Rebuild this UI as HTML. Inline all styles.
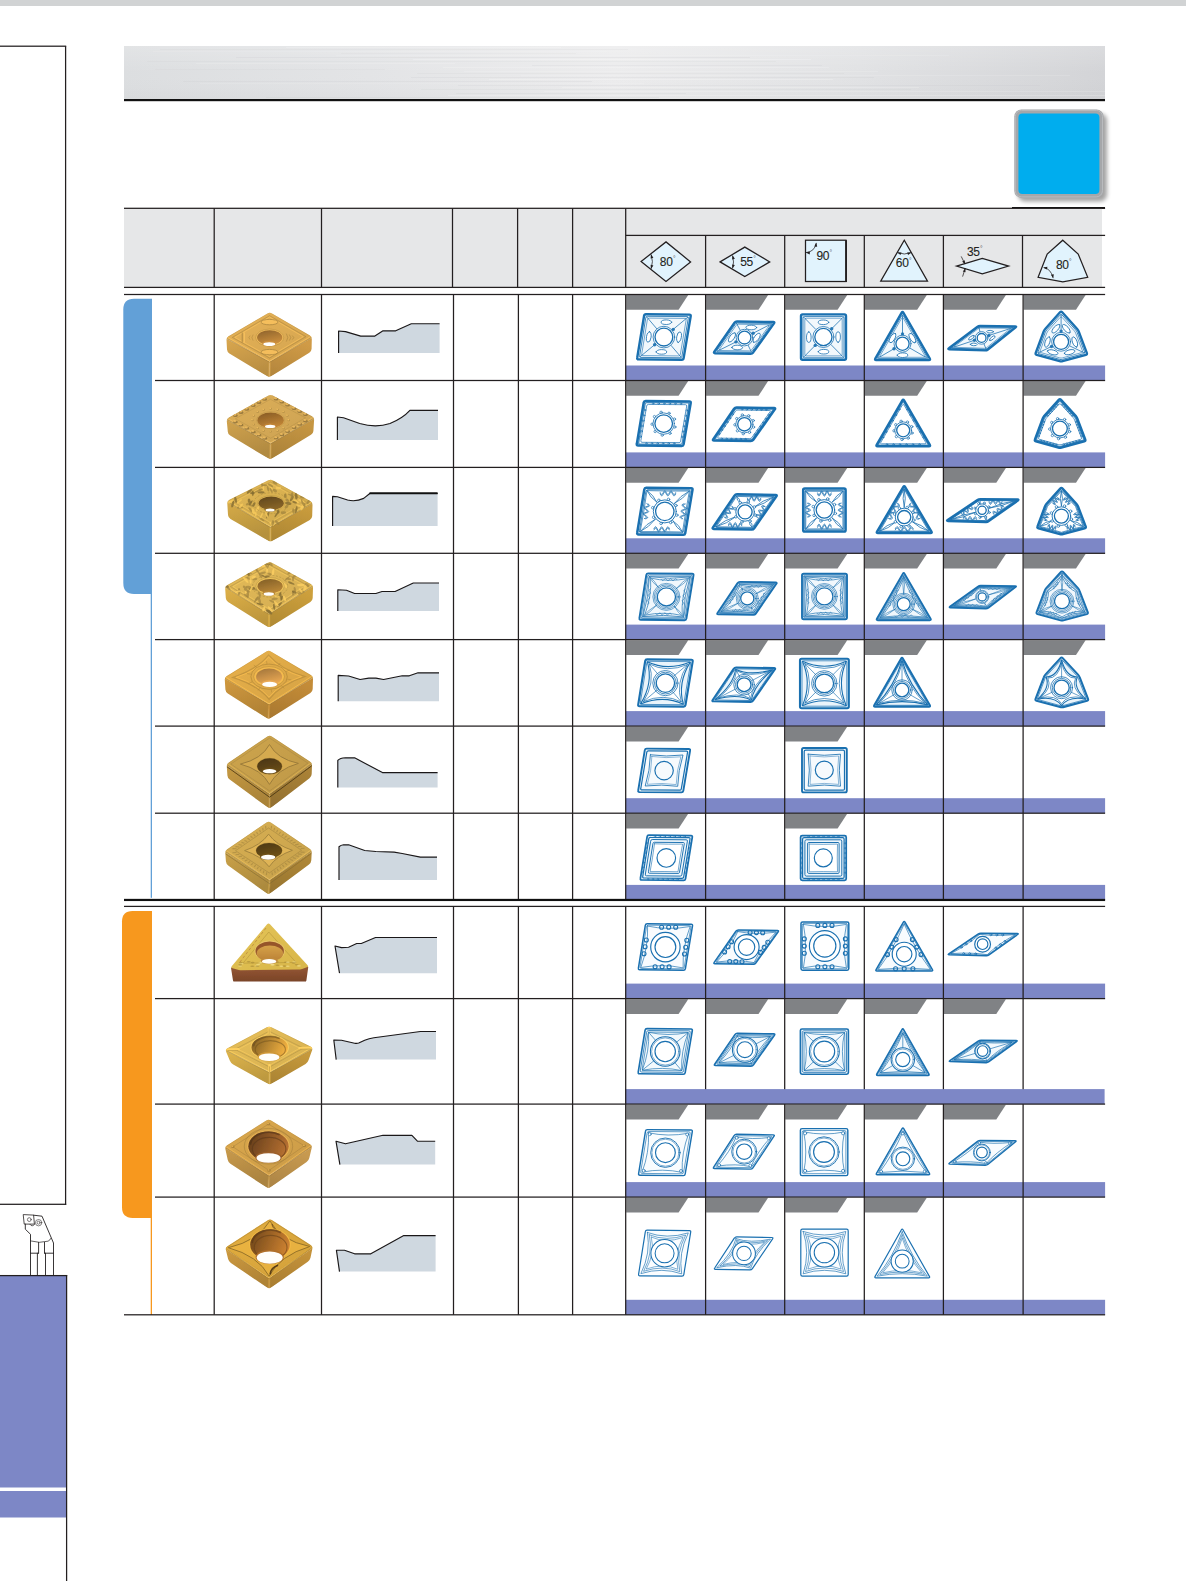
<!DOCTYPE html>
<html lang="en"><head><meta charset="utf-8"><title>Chipbreaker selection</title>
<style>html,body{margin:0;padding:0;background:#fff}svg{display:block}text{font-family:"Liberation Sans",sans-serif;fill:#231f20}</style></head>
<body>
<svg width="1186" height="1581" viewBox="0 0 1186 1581">
<defs>
<linearGradient id="band" x1="0" y1="0" x2="1" y2="0">
<stop offset="0" stop-color="#dcdee0"/><stop offset="0.25" stop-color="#e3e4e6"/>
<stop offset="0.5" stop-color="#ececed"/><stop offset="0.75" stop-color="#e1e2e4"/>
<stop offset="1" stop-color="#d3d4d7"/></linearGradient>
<linearGradient id="bandv" x1="0" y1="0" x2="0" y2="1">
<stop offset="0" stop-color="#fff" stop-opacity="0.18"/><stop offset="0.5" stop-color="#fff" stop-opacity="0"/>
<stop offset="1" stop-color="#000" stop-opacity="0.02"/></linearGradient>
<filter id="sh" x="-20%" y="-20%" width="150%" height="150%"><feGaussianBlur stdDeviation="2.2"/></filter>
<filter id="soft" x="-5%" y="-5%" width="110%" height="110%"><feGaussianBlur stdDeviation="0.55"/></filter>
<filter id="soft2" x="-5%" y="-5%" width="110%" height="110%"><feGaussianBlur stdDeviation="0.9"/></filter>
<linearGradient id="g2" x1="0" y1="0" x2="1" y2="1"><stop offset="0" stop-color="#e7b357"/><stop offset="1" stop-color="#d3a44f"/></linearGradient>
<linearGradient id="g3" x1="0" y1="0" x2="0.35" y2="1"><stop offset="0" stop-color="#dba84f"/><stop offset="1" stop-color="#b98e42"/></linearGradient>
<linearGradient id="g4" x1="0.35" y1="0" x2="0" y2="1"><stop offset="0" stop-color="#d09b46"/><stop offset="1" stop-color="#b1843c"/></linearGradient>
<linearGradient id="g5" x1="0.3" y1="0" x2="0.7" y2="1"><stop offset="0" stop-color="#92662d"/><stop offset="1" stop-color="#d19340"/></linearGradient>
<linearGradient id="g7" x1="0" y1="0" x2="1" y2="1"><stop offset="0" stop-color="#deb059"/><stop offset="1" stop-color="#cba151"/></linearGradient>
<linearGradient id="g8" x1="0" y1="0" x2="0.35" y2="1"><stop offset="0" stop-color="#d2a44e"/><stop offset="1" stop-color="#b18a41"/></linearGradient>
<linearGradient id="g9" x1="0.35" y1="0" x2="0" y2="1"><stop offset="0" stop-color="#c69642"/><stop offset="1" stop-color="#a88038"/></linearGradient>
<linearGradient id="g10" x1="0.3" y1="0" x2="0.7" y2="1"><stop offset="0" stop-color="#8a5e26"/><stop offset="1" stop-color="#c68837"/></linearGradient>
<linearGradient id="g12" x1="0" y1="0" x2="1" y2="1"><stop offset="0" stop-color="#e2b854"/><stop offset="1" stop-color="#cea84d"/></linearGradient>
<linearGradient id="g13" x1="0" y1="0" x2="0.35" y2="1"><stop offset="0" stop-color="#d7ac48"/><stop offset="1" stop-color="#b5913d"/></linearGradient>
<linearGradient id="g14" x1="0.35" y1="0" x2="0" y2="1"><stop offset="0" stop-color="#c89b3c"/><stop offset="1" stop-color="#aa8433"/></linearGradient>
<linearGradient id="g15" x1="0.3" y1="0" x2="0.7" y2="1"><stop offset="0" stop-color="#62481d"/><stop offset="1" stop-color="#8c6729"/></linearGradient>
<linearGradient id="g17" x1="0" y1="0" x2="1" y2="1"><stop offset="0" stop-color="#e6bc59"/><stop offset="1" stop-color="#d2ac51"/></linearGradient>
<linearGradient id="g18" x1="0" y1="0" x2="0.35" y2="1"><stop offset="0" stop-color="#e0b248"/><stop offset="1" stop-color="#bd963d"/></linearGradient>
<linearGradient id="g19" x1="0.35" y1="0" x2="0" y2="1"><stop offset="0" stop-color="#cda03c"/><stop offset="1" stop-color="#ae8833"/></linearGradient>
<linearGradient id="g20" x1="0.3" y1="0" x2="0.7" y2="1"><stop offset="0" stop-color="#856128"/><stop offset="1" stop-color="#bf8b39"/></linearGradient>
<linearGradient id="g22" x1="0" y1="0" x2="1" y2="1"><stop offset="0" stop-color="#e9b14a"/><stop offset="1" stop-color="#d4a244"/></linearGradient>
<linearGradient id="g23" x1="0" y1="0" x2="0.35" y2="1"><stop offset="0" stop-color="#d29a3f"/><stop offset="1" stop-color="#b18235"/></linearGradient>
<linearGradient id="g24" x1="0.35" y1="0" x2="0" y2="1"><stop offset="0" stop-color="#c48c38"/><stop offset="1" stop-color="#a77730"/></linearGradient>
<linearGradient id="g25" x1="0.3" y1="0" x2="0.7" y2="1"><stop offset="0" stop-color="#a6783c"/><stop offset="1" stop-color="#efac56"/></linearGradient>
<linearGradient id="g27" x1="0" y1="0" x2="1" y2="1"><stop offset="0" stop-color="#cfa64e"/><stop offset="1" stop-color="#bd9747"/></linearGradient>
<linearGradient id="g28" x1="0" y1="0" x2="0.35" y2="1"><stop offset="0" stop-color="#c89b43"/><stop offset="1" stop-color="#a98339"/></linearGradient>
<linearGradient id="g29" x1="0.35" y1="0" x2="0" y2="1"><stop offset="0" stop-color="#aa8237"/><stop offset="1" stop-color="#906e2f"/></linearGradient>
<linearGradient id="g30" x1="0.3" y1="0" x2="0.7" y2="1"><stop offset="0" stop-color="#4b3612"/><stop offset="1" stop-color="#6c4e19"/></linearGradient>
<linearGradient id="g32" x1="0" y1="0" x2="1" y2="1"><stop offset="0" stop-color="#d9b053"/><stop offset="1" stop-color="#c6a14c"/></linearGradient>
<linearGradient id="g33" x1="0" y1="0" x2="0.35" y2="1"><stop offset="0" stop-color="#cca349"/><stop offset="1" stop-color="#ac8a3e"/></linearGradient>
<linearGradient id="g34" x1="0.35" y1="0" x2="0" y2="1"><stop offset="0" stop-color="#af8737"/><stop offset="1" stop-color="#95732f"/></linearGradient>
<linearGradient id="g35" x1="0.3" y1="0" x2="0.7" y2="1"><stop offset="0" stop-color="#4e3a12"/><stop offset="1" stop-color="#715319"/></linearGradient>
<linearGradient id="g36" x1="0" y1="0" x2="1" y2="1"><stop offset="0" stop-color="#e4c456"/><stop offset="1" stop-color="#d8b64a"/></linearGradient>
<linearGradient id="g37" x1="0" y1="0" x2="0" y2="1"><stop offset="0" stop-color="#965834"/><stop offset="1" stop-color="#7a4428"/></linearGradient>
<linearGradient id="g38" x1="0" y1="0" x2="0" y2="1"><stop offset="0" stop-color="#d6a24a"/><stop offset="1" stop-color="#ba8034"/></linearGradient>
<linearGradient id="g40" x1="0" y1="0" x2="1" y2="1"><stop offset="0" stop-color="#e9c059"/><stop offset="1" stop-color="#d4af51"/></linearGradient>
<linearGradient id="g41" x1="0" y1="0" x2="0.35" y2="1"><stop offset="0" stop-color="#e0b64c"/><stop offset="1" stop-color="#bd9940"/></linearGradient>
<linearGradient id="g42" x1="0.35" y1="0" x2="0" y2="1"><stop offset="0" stop-color="#c6993c"/><stop offset="1" stop-color="#a88233"/></linearGradient>
<linearGradient id="g43" x1="0" y1="0.3" x2="1" y2="0.6"><stop offset="0" stop-color="#866224"/><stop offset="1" stop-color="#f6b442"/></linearGradient>
<linearGradient id="g45" x1="0" y1="0" x2="1" y2="1"><stop offset="0" stop-color="#dca94e"/><stop offset="1" stop-color="#c99a47"/></linearGradient>
<linearGradient id="g46" x1="0" y1="0" x2="0.35" y2="1"><stop offset="0" stop-color="#ca9b4b"/><stop offset="1" stop-color="#aa8340"/></linearGradient>
<linearGradient id="g47" x1="0.35" y1="0" x2="0" y2="1"><stop offset="0" stop-color="#c89a50"/><stop offset="1" stop-color="#aa8344"/></linearGradient>
<linearGradient id="g48" x1="0" y1="0.3" x2="1" y2="0.6"><stop offset="0" stop-color="#653e1b"/><stop offset="1" stop-color="#b97232"/></linearGradient>
<linearGradient id="g50" x1="0" y1="0" x2="1" y2="1"><stop offset="0" stop-color="#e5af40"/><stop offset="1" stop-color="#d1a03a"/></linearGradient>
<linearGradient id="g51" x1="0" y1="0" x2="0.35" y2="1"><stop offset="0" stop-color="#cf9b40"/><stop offset="1" stop-color="#af8336"/></linearGradient>
<linearGradient id="g52" x1="0.35" y1="0" x2="0" y2="1"><stop offset="0" stop-color="#c4923a"/><stop offset="1" stop-color="#a77c31"/></linearGradient>
<linearGradient id="g53" x1="0" y1="0.3" x2="1" y2="0.6"><stop offset="0" stop-color="#72481b"/><stop offset="1" stop-color="#d18432"/></linearGradient>
</defs>
<rect x="0" y="0" width="1186" height="6" fill="#d1d3d4" />
<rect x="0" y="45.575" width="66.2" height="1.25" fill="#231f20" />
<rect x="64.975" y="46.2" width="1.25" height="1158.7" fill="#231f20" />
<rect x="0" y="1203.67" width="66.2" height="1.25" fill="#231f20" />
<rect x="0" y="1276" width="66" height="211.5" fill="#7d87c6" />
<rect x="0" y="1491" width="66" height="26.5" fill="#7d87c6" />
<rect x="0" y="1274.97" width="67.2" height="1.25" fill="#231f20" />
<rect x="65.975" y="1275" width="1.25" height="306" fill="#231f20" />
<g fill="none" stroke="#231f20" stroke-width="0.9" stroke-linejoin="round" stroke-linecap="round"><path d="M33.6 1215.2 L42 1216.2 L53.5 1243 V1275"/><path d="M25.3 1224.1 V1229.2 L30.5 1234.3 V1275"/><path d="M30.8 1241 Q39.5 1243.6 48 1241.2 Q50.2 1240.4 50.6 1238.6" stroke-width="0.7"/><path d="M38.6 1242.4 V1253.2 M44.5 1242.4 V1253.2"/><path d="M30.5 1253.2 H38.6 M44.5 1253.2 H53.5"/><path d="M37.4 1253.2 V1275 M45.5 1253.2 V1275"/><path d="M23.6 1214.6 L33.6 1215.1 L34.4 1224.1 L24.6 1224.1 Z" stroke-width="0.8"/><path d="M30 1224.4 Q32 1227.5 34.6 1224.4" stroke-width="0.7"/><circle cx="29.3" cy="1219.6" r="1.9" stroke-width="0.6"/><circle cx="38.6" cy="1222.7" r="3.2" stroke-width="0.55"/><circle cx="38.6" cy="1222.7" r="1.5" stroke-width="0.55"/></g>
<rect x="124" y="46" width="981" height="53.5" fill="url(#band)" />
<rect x="124" y="46" width="981" height="53.5" fill="url(#bandv)" />
<rect x="286" y="47" width="275" height="1" fill="#fff" opacity="0.18"/>
<rect x="160" y="49" width="468" height="1" fill="#c4c6c9" opacity="0.14"/>
<rect x="153" y="51" width="454" height="1" fill="#fff" opacity="0.10"/>
<rect x="341" y="53" width="235" height="1" fill="#c4c6c9" opacity="0.11"/>
<rect x="336" y="55" width="613" height="1" fill="#fff" opacity="0.11"/>
<rect x="236" y="57" width="514" height="1" fill="#c4c6c9" opacity="0.21"/>
<rect x="413" y="59" width="398" height="1" fill="#fff" opacity="0.22"/>
<rect x="147" y="61" width="629" height="1" fill="#c4c6c9" opacity="0.13"/>
<rect x="196" y="63" width="259" height="1" fill="#fff" opacity="0.14"/>
<rect x="532" y="65" width="290" height="1" fill="#c4c6c9" opacity="0.17"/>
<rect x="443" y="67" width="386" height="1" fill="#fff" opacity="0.17"/>
<rect x="155" y="69" width="230" height="1" fill="#c4c6c9" opacity="0.12"/>
<rect x="464" y="71" width="414" height="1" fill="#fff" opacity="0.14"/>
<rect x="417" y="73" width="427" height="1" fill="#c4c6c9" opacity="0.14"/>
<rect x="521" y="75" width="549" height="1" fill="#fff" opacity="0.13"/>
<rect x="411" y="77" width="463" height="1" fill="#c4c6c9" opacity="0.21"/>
<rect x="489" y="79" width="344" height="1" fill="#fff" opacity="0.22"/>
<rect x="183" y="81" width="409" height="1" fill="#c4c6c9" opacity="0.19"/>
<rect x="200" y="83" width="444" height="1" fill="#fff" opacity="0.10"/>
<rect x="458" y="85" width="582" height="1" fill="#c4c6c9" opacity="0.17"/>
<rect x="562" y="87" width="357" height="1" fill="#fff" opacity="0.18"/>
<rect x="421" y="89" width="490" height="1" fill="#c4c6c9" opacity="0.15"/>
<rect x="544" y="91" width="561" height="1" fill="#fff" opacity="0.16"/>
<rect x="456" y="93" width="230" height="1" fill="#c4c6c9" opacity="0.18"/>
<rect x="448" y="95" width="657" height="1" fill="#fff" opacity="0.20"/>
<rect x="266" y="97" width="393" height="1" fill="#c4c6c9" opacity="0.18"/>
<rect x="124" y="99" width="981" height="2.2" fill="#111" />
<rect x="1018" y="113.5" width="89" height="88" rx="7" fill="#000" opacity="0.36" filter="url(#sh)"/>
<rect x="1014.3" y="109.4" width="89.2" height="88.5" rx="7" fill="#a5a7aa"/>
<rect x="1015.3" y="110.4" width="87.2" height="86.5" rx="6.2" fill="none" stroke="#b9bbbe" stroke-width="1"/>
<rect x="1018.4" y="113.5" width="81" height="80.4" rx="4" fill="#00adee"/>
<rect x="1012" y="207" width="93" height="2" fill="#111" />
<rect x="124" y="208.3" width="978" height="79" fill="#e6e7e8" />
<path d="M152 298.8 H134 Q123.3 298.8 123.3 309.6 V583 Q123.3 594 134 594 H152 Z" fill="#62a0d7"/>
<rect x="150.7" y="593" width="1.3" height="304.8" fill="#62a0d7" />
<path d="M152 910.9 H132.5 Q122 910.9 122 921.5 V1207.3 Q122 1217.9 132.5 1217.9 H152 Z" fill="#f7981e"/>
<rect x="150.7" y="1217" width="1.3" height="98" fill="#f7981e" />
<rect x="625.7" y="365.5" width="479.4" height="15" fill="#7d87c6" />
<path d="M626.2 295.1 H688.2 L678.6 309.8 H626.2 Z" fill="#808285"/>
<path d="M706.1 295.1 H768.1 L758.5 309.8 H706.1 Z" fill="#808285"/>
<path d="M785.2 295.1 H847.2 L837.6 309.8 H785.2 Z" fill="#808285"/>
<path d="M864.8 295.1 H926.8 L917.2 309.8 H864.8 Z" fill="#808285"/>
<path d="M943.9 295.1 H1005.9 L996.3 309.8 H943.9 Z" fill="#808285"/>
<path d="M1023.6 295.1 H1085.6 L1076.0 309.8 H1023.6 Z" fill="#808285"/>
<rect x="625.7" y="452.4" width="479.4" height="15" fill="#7d87c6" />
<path d="M626.2 381.1 H688.2 L678.6 395.8 H626.2 Z" fill="#808285"/>
<path d="M706.1 381.1 H768.1 L758.5 395.8 H706.1 Z" fill="#808285"/>
<path d="M864.8 381.1 H926.8 L917.2 395.8 H864.8 Z" fill="#808285"/>
<path d="M1023.6 381.1 H1085.6 L1076.0 395.8 H1023.6 Z" fill="#808285"/>
<rect x="625.7" y="538.3" width="479.4" height="15" fill="#7d87c6" />
<path d="M626.2 468.0 H688.2 L678.6 482.7 H626.2 Z" fill="#808285"/>
<path d="M706.1 468.0 H768.1 L758.5 482.7 H706.1 Z" fill="#808285"/>
<path d="M785.2 468.0 H847.2 L837.6 482.7 H785.2 Z" fill="#808285"/>
<path d="M864.8 468.0 H926.8 L917.2 482.7 H864.8 Z" fill="#808285"/>
<path d="M943.9 468.0 H1005.9 L996.3 482.7 H943.9 Z" fill="#808285"/>
<path d="M1023.6 468.0 H1085.6 L1076.0 482.7 H1023.6 Z" fill="#808285"/>
<rect x="625.7" y="624.6" width="479.4" height="15" fill="#7d87c6" />
<path d="M626.2 553.9 H688.2 L678.6 568.6 H626.2 Z" fill="#808285"/>
<path d="M706.1 553.9 H768.1 L758.5 568.6 H706.1 Z" fill="#808285"/>
<path d="M785.2 553.9 H847.2 L837.6 568.6 H785.2 Z" fill="#808285"/>
<path d="M864.8 553.9 H926.8 L917.2 568.6 H864.8 Z" fill="#808285"/>
<path d="M943.9 553.9 H1005.9 L996.3 568.6 H943.9 Z" fill="#808285"/>
<path d="M1023.6 553.9 H1085.6 L1076.0 568.6 H1023.6 Z" fill="#808285"/>
<rect x="625.7" y="711.1" width="479.4" height="15" fill="#7d87c6" />
<path d="M626.2 640.2 H688.2 L678.6 654.9 H626.2 Z" fill="#808285"/>
<path d="M706.1 640.2 H768.1 L758.5 654.9 H706.1 Z" fill="#808285"/>
<path d="M785.2 640.2 H847.2 L837.6 654.9 H785.2 Z" fill="#808285"/>
<path d="M864.8 640.2 H926.8 L917.2 654.9 H864.8 Z" fill="#808285"/>
<path d="M1023.6 640.2 H1085.6 L1076.0 654.9 H1023.6 Z" fill="#808285"/>
<rect x="625.7" y="798.2" width="479.4" height="15" fill="#7d87c6" />
<path d="M626.2 726.7 H688.2 L678.6 741.4 H626.2 Z" fill="#808285"/>
<path d="M785.2 726.7 H847.2 L837.6 741.4 H785.2 Z" fill="#808285"/>
<rect x="625.7" y="884.9" width="479.4" height="15" fill="#7d87c6" />
<path d="M626.2 813.8 H688.2 L678.6 828.5 H626.2 Z" fill="#808285"/>
<path d="M785.2 813.8 H847.2 L837.6 828.5 H785.2 Z" fill="#808285"/>
<rect x="625.7" y="983.6" width="479.4" height="15" fill="#7d87c6" />
<rect x="625.2" y="1089.1" width="479.4" height="15" fill="#7d87c6" />
<path d="M626.2 999.2 H688.2 L678.6 1013.9 H626.2 Z" fill="#808285"/>
<path d="M706.1 999.2 H768.1 L758.5 1013.9 H706.1 Z" fill="#808285"/>
<path d="M785.2 999.2 H847.2 L837.6 1013.9 H785.2 Z" fill="#808285"/>
<path d="M864.8 999.2 H926.8 L917.2 1013.9 H864.8 Z" fill="#808285"/>
<path d="M943.9 999.2 H1005.9 L996.3 1013.9 H943.9 Z" fill="#808285"/>
<rect x="625.7" y="1182.1" width="479.4" height="15" fill="#7d87c6" />
<path d="M626.2 1104.7 H688.2 L678.6 1119.4 H626.2 Z" fill="#808285"/>
<path d="M706.1 1104.7 H768.1 L758.5 1119.4 H706.1 Z" fill="#808285"/>
<path d="M785.2 1104.7 H847.2 L837.6 1119.4 H785.2 Z" fill="#808285"/>
<path d="M864.8 1104.7 H926.8 L917.2 1119.4 H864.8 Z" fill="#808285"/>
<path d="M943.9 1104.7 H1005.9 L996.3 1119.4 H943.9 Z" fill="#808285"/>
<rect x="625.7" y="1299.8" width="479.4" height="15" fill="#7d87c6" />
<path d="M626.2 1197.7 H688.2 L678.6 1212.4 H626.2 Z" fill="#808285"/>
<path d="M706.1 1197.7 H768.1 L758.5 1212.4 H706.1 Z" fill="#808285"/>
<path d="M785.2 1197.7 H847.2 L837.6 1212.4 H785.2 Z" fill="#808285"/>
<path d="M864.8 1197.7 H926.8 L917.2 1212.4 H864.8 Z" fill="#808285"/>
<rect x="124" y="207.675" width="981.1" height="1.25" fill="#231f20" />
<rect x="625.7" y="234.775" width="479.4" height="1.25" fill="#231f20" />
<rect x="124" y="286.775" width="981.1" height="1.25" fill="#231f20" />
<rect x="124" y="293.875" width="981.1" height="1.25" fill="#231f20" />
<rect x="155" y="379.875" width="950.1" height="1.25" fill="#231f20" />
<rect x="155" y="466.775" width="950.1" height="1.25" fill="#231f20" />
<rect x="155" y="552.675" width="950.1" height="1.25" fill="#231f20" />
<rect x="155" y="638.975" width="950.1" height="1.25" fill="#231f20" />
<rect x="155" y="725.475" width="950.1" height="1.25" fill="#231f20" />
<rect x="155" y="812.575" width="950.1" height="1.25" fill="#231f20" />
<rect x="124" y="898.85" width="981.1" height="2.2" fill="#111" />
<rect x="124" y="905.775" width="981.1" height="1.25" fill="#231f20" />
<rect x="155" y="997.975" width="950.1" height="1.25" fill="#231f20" />
<rect x="155" y="1103.47" width="950.1" height="1.25" fill="#231f20" />
<rect x="155" y="1196.47" width="950.1" height="1.25" fill="#231f20" />
<rect x="124" y="1314.17" width="981.1" height="1.25" fill="#231f20" />
<rect x="213.575" y="208.3" width="1.25" height="79.1" fill="#231f20" />
<rect x="213.575" y="294.5" width="1.25" height="604.5" fill="#231f20" />
<rect x="213.575" y="906.4" width="1.25" height="408.4" fill="#231f20" />
<rect x="320.875" y="208.3" width="1.25" height="79.1" fill="#231f20" />
<rect x="320.875" y="294.5" width="1.25" height="604.5" fill="#231f20" />
<rect x="320.875" y="906.4" width="1.25" height="408.4" fill="#231f20" />
<rect x="451.875" y="208.3" width="1.25" height="79.1" fill="#231f20" />
<rect x="452.875" y="294.5" width="1.25" height="604.5" fill="#231f20" />
<rect x="452.875" y="906.4" width="1.25" height="408.4" fill="#231f20" />
<rect x="516.975" y="208.3" width="1.25" height="79.1" fill="#231f20" />
<rect x="517.775" y="294.5" width="1.25" height="604.5" fill="#231f20" />
<rect x="517.775" y="906.4" width="1.25" height="408.4" fill="#231f20" />
<rect x="571.975" y="208.3" width="1.25" height="79.1" fill="#231f20" />
<rect x="571.975" y="294.5" width="1.25" height="604.5" fill="#231f20" />
<rect x="571.975" y="906.4" width="1.25" height="408.4" fill="#231f20" />
<rect x="625.075" y="208.3" width="1.25" height="79.1" fill="#231f20" />
<rect x="625.075" y="294.5" width="1.25" height="604.5" fill="#231f20" />
<rect x="625.075" y="906.4" width="1.25" height="408.4" fill="#231f20" />
<rect x="704.975" y="235.4" width="1.25" height="52" fill="#231f20" />
<rect x="704.975" y="294.5" width="1.25" height="604.5" fill="#231f20" />
<rect x="704.975" y="906.4" width="1.25" height="182.8" fill="#231f20" />
<rect x="704.975" y="1104.1" width="1.25" height="210.7" fill="#231f20" />
<rect x="784.075" y="235.4" width="1.25" height="52" fill="#231f20" />
<rect x="784.075" y="294.5" width="1.25" height="604.5" fill="#231f20" />
<rect x="784.075" y="906.4" width="1.25" height="182.8" fill="#231f20" />
<rect x="784.075" y="1104.1" width="1.25" height="210.7" fill="#231f20" />
<rect x="863.675" y="235.4" width="1.25" height="52" fill="#231f20" />
<rect x="863.675" y="294.5" width="1.25" height="604.5" fill="#231f20" />
<rect x="863.675" y="906.4" width="1.25" height="182.8" fill="#231f20" />
<rect x="863.675" y="1104.1" width="1.25" height="210.7" fill="#231f20" />
<rect x="942.775" y="235.4" width="1.25" height="52" fill="#231f20" />
<rect x="942.775" y="294.5" width="1.25" height="604.5" fill="#231f20" />
<rect x="942.775" y="906.4" width="1.25" height="182.8" fill="#231f20" />
<rect x="942.775" y="1104.1" width="1.25" height="210.7" fill="#231f20" />
<rect x="1021.88" y="235.4" width="1.25" height="52" fill="#231f20" />
<rect x="1022.48" y="294.5" width="1.25" height="604.5" fill="#231f20" />
<rect x="1022.48" y="906.4" width="1.25" height="182.8" fill="#231f20" />
<rect x="1022.48" y="1104.1" width="1.25" height="210.7" fill="#231f20" />
<g filter="url(#soft)"><clipPath id="gc1"><path d="M226.5 340.1 Q226.3 337.5 228.5 336.2 L267.5 313.5 Q269.7 312.2 272.0 313.5 L309.6 335.3 Q311.9 336.6 311.8 339.2 L311.6 348.8 Q311.5 351.4 309.3 352.8 L271.5 376.1 Q269.3 377.5 267.1 376.2 L229.4 353.5 Q227.2 352.2 227.0 349.6 Z"/></clipPath><g clip-path="url(#gc1)">
<polygon points="224.3,337.5 269.7,361.5 269.3,377.5 225.2,354.2" fill="url(#g3)"/>
<polygon points="269.7,361.5 313.9,336.6 313.5,353.4 269.3,377.5" fill="url(#g4)"/>
<line x1="269.7" y1="361.5" x2="269.3" y2="377.5" stroke="#edb655" stroke-width="2.2" opacity="0.4"/>
<path d="M225.7 338.2 Q224.3 337.5 225.7 336.7 L268.3 311.0 Q269.7 310.2 271.1 311.0 L312.5 335.8 Q313.9 336.6 312.5 337.4 L271.1 360.7 Q269.7 361.5 268.3 360.8 Z" fill="url(#g2)"/>
<polyline points="226.3,338.3 269.7,362.3 311.9,337.4" fill="none" stroke="#a6813e" stroke-width="1" opacity="0.55"/>
<polyline points="227.3,337.2 269.7,361.0 310.9,336.3" fill="none" stroke="#fdc55f" stroke-width="1" opacity="0.7"/>
<polyline points="226.9,337.5 269.7,312.2 311.3,336.6" fill="none" stroke="#a6813e" stroke-width="0.9" opacity="0.35"/>
<polygon points="232.3,337.4 269.6,315.7 305.9,336.6 269.6,358.0" fill="none" stroke="#a6813e" stroke-width="1.0" opacity="0.5" stroke-linejoin="round"/>
<polygon points="234.9,337.4 269.6,317.1 303.3,336.7 269.6,356.6" fill="none" stroke="#fdc55f" stroke-width="1.0" opacity="0.6" stroke-linejoin="round"/>
<ellipse cx="269.5" cy="322.1" rx="8.5" ry="2.7" fill="#fdc55f" stroke="#a6813e" stroke-width="0.9" opacity="0.75"/>
<ellipse cx="269.5" cy="352.1" rx="8.5" ry="2.7" fill="#fdc55f" stroke="#a6813e" stroke-width="0.9" opacity="0.75"/>
<path d="M242.3 332.6 v10" stroke="#a6813e" stroke-width="1.3" opacity="0.6" fill="none"/>
<path d="M244.3 332.6 v10" stroke="#fdc55f" stroke-width="1.1" opacity="0.8" fill="none"/>
<path d="M286.3 333.6 q3 4 0 8" fill="none" stroke="#a6813e" stroke-width="0.9" opacity="0.6"/>
<path d="M289.3 334.6 q3 3 0 6" fill="none" stroke="#a6813e" stroke-width="0.9" opacity="0.6"/>
<path d="M292.3 335.6 q3 2 0 4" fill="none" stroke="#a6813e" stroke-width="0.9" opacity="0.6"/>
<path d="M253.1 334.6 q-2.4 3 0 6" fill="none" stroke="#a6813e" stroke-width="0.9" opacity="0.5"/>
<path d="M250.1 335.6 q-2.4 2 0 4" fill="none" stroke="#a6813e" stroke-width="0.9" opacity="0.5"/>
<ellipse cx="269.7" cy="337.6" rx="14.0" ry="8.5" fill="#f2bc5b" stroke="#a6813e" stroke-width="0.7" stroke-opacity="0.6"/>
<ellipse cx="269.7" cy="337.6" rx="12.6" ry="7.4" fill="url(#g5)"/>
<ellipse cx="269.3" cy="343.6" rx="7.1" ry="2.8" fill="#cc8f3f"/>
<ellipse cx="269.3" cy="344.2" rx="6.0" ry="1.9" fill="#fffefb"/>
</g></g>
<g filter="url(#soft)"><clipPath id="gc6"><path d="M226.8 421.3 Q226.6 418.7 228.9 417.4 L268.1 395.7 Q270.4 394.4 272.7 395.6 L312.0 416.3 Q314.3 417.5 314.1 420.1 L313.4 430.9 Q313.2 433.5 311.0 434.8 L272.4 458.3 Q270.2 459.6 268.0 458.3 L230.2 435.6 Q228.0 434.3 227.8 431.7 Z"/></clipPath><g clip-path="url(#gc6)">
<polygon points="224.6,418.7 270.6,443.2 270.2,459.6 226.0,436.3" fill="url(#g8)"/>
<polygon points="270.6,443.2 316.3,417.5 315.2,435.5 270.2,459.6" fill="url(#g9)"/>
<line x1="270.6" y1="443.2" x2="270.2" y2="459.6" stroke="#e3b154" stroke-width="2.2" opacity="0.4"/>
<path d="M226.0 419.5 Q224.6 418.7 226.0 417.9 L269.0 393.2 Q270.4 392.4 271.8 393.2 L314.9 416.7 Q316.3 417.5 314.9 418.3 L272.0 442.4 Q270.6 443.2 269.2 442.4 Z" fill="url(#g7)"/>
<polyline points="226.6,419.5 270.6,444.0 314.3,418.3" fill="none" stroke="#a07f40" stroke-width="1" opacity="0.55"/>
<polyline points="227.6,418.4 270.6,442.7 313.3,417.2" fill="none" stroke="#f4c161" stroke-width="1" opacity="0.7"/>
<polyline points="227.2,418.7 270.4,394.4 313.7,417.5" fill="none" stroke="#a07f40" stroke-width="0.9" opacity="0.35"/>
<ellipse cx="288.8" cy="420.2" rx="1.3" ry="1" fill="#a07f40" opacity="0.55"/>
<ellipse cx="288.4" cy="419.7" rx=".9" ry=".7" fill="#f4c161" opacity="0.9"/>
<ellipse cx="287.4" cy="424.6" rx="1.3" ry="1" fill="#a07f40" opacity="0.55"/>
<ellipse cx="287.0" cy="424.1" rx=".9" ry=".7" fill="#f4c161" opacity="0.9"/>
<ellipse cx="283.5" cy="428.3" rx="1.3" ry="1" fill="#a07f40" opacity="0.55"/>
<ellipse cx="283.1" cy="427.8" rx=".9" ry=".7" fill="#f4c161" opacity="0.9"/>
<ellipse cx="277.6" cy="430.7" rx="1.3" ry="1" fill="#a07f40" opacity="0.55"/>
<ellipse cx="277.2" cy="430.2" rx=".9" ry=".7" fill="#f4c161" opacity="0.9"/>
<ellipse cx="270.6" cy="431.6" rx="1.3" ry="1" fill="#a07f40" opacity="0.55"/>
<ellipse cx="270.2" cy="431.1" rx=".9" ry=".7" fill="#f4c161" opacity="0.9"/>
<ellipse cx="263.6" cy="430.7" rx="1.3" ry="1" fill="#a07f40" opacity="0.55"/>
<ellipse cx="263.2" cy="430.2" rx=".9" ry=".7" fill="#f4c161" opacity="0.9"/>
<ellipse cx="257.7" cy="428.3" rx="1.3" ry="1" fill="#a07f40" opacity="0.55"/>
<ellipse cx="257.3" cy="427.8" rx=".9" ry=".7" fill="#f4c161" opacity="0.9"/>
<ellipse cx="253.8" cy="424.6" rx="1.3" ry="1" fill="#a07f40" opacity="0.55"/>
<ellipse cx="253.4" cy="424.1" rx=".9" ry=".7" fill="#f4c161" opacity="0.9"/>
<ellipse cx="252.4" cy="420.2" rx="1.3" ry="1" fill="#a07f40" opacity="0.55"/>
<ellipse cx="252.0" cy="419.7" rx=".9" ry=".7" fill="#f4c161" opacity="0.9"/>
<ellipse cx="253.8" cy="415.8" rx="1.3" ry="1" fill="#a07f40" opacity="0.55"/>
<ellipse cx="253.4" cy="415.3" rx=".9" ry=".7" fill="#f4c161" opacity="0.9"/>
<ellipse cx="257.7" cy="412.1" rx="1.3" ry="1" fill="#a07f40" opacity="0.55"/>
<ellipse cx="257.3" cy="411.6" rx=".9" ry=".7" fill="#f4c161" opacity="0.9"/>
<ellipse cx="263.6" cy="409.7" rx="1.3" ry="1" fill="#a07f40" opacity="0.55"/>
<ellipse cx="263.2" cy="409.2" rx=".9" ry=".7" fill="#f4c161" opacity="0.9"/>
<ellipse cx="270.6" cy="408.8" rx="1.3" ry="1" fill="#a07f40" opacity="0.55"/>
<ellipse cx="270.2" cy="408.3" rx=".9" ry=".7" fill="#f4c161" opacity="0.9"/>
<ellipse cx="277.6" cy="409.7" rx="1.3" ry="1" fill="#a07f40" opacity="0.55"/>
<ellipse cx="277.2" cy="409.2" rx=".9" ry=".7" fill="#f4c161" opacity="0.9"/>
<ellipse cx="283.5" cy="412.1" rx="1.3" ry="1" fill="#a07f40" opacity="0.55"/>
<ellipse cx="283.1" cy="411.6" rx=".9" ry=".7" fill="#f4c161" opacity="0.9"/>
<ellipse cx="287.4" cy="415.8" rx="1.3" ry="1" fill="#a07f40" opacity="0.55"/>
<ellipse cx="287.0" cy="415.3" rx=".9" ry=".7" fill="#f4c161" opacity="0.9"/>
<ellipse cx="235.4" cy="415.5" rx="2.4" ry="1.5" fill="#826734" opacity="0.7"/>
<ellipse cx="234.8" cy="414.7" rx="1.6" ry="1" fill="#f4c161" opacity="0.85"/>
<ellipse cx="241.1" cy="412.4" rx="2.4" ry="1.5" fill="#826734" opacity="0.7"/>
<ellipse cx="240.5" cy="411.6" rx="1.6" ry="1" fill="#f4c161" opacity="0.85"/>
<ellipse cx="246.8" cy="409.2" rx="2.4" ry="1.5" fill="#826734" opacity="0.7"/>
<ellipse cx="246.2" cy="408.4" rx="1.6" ry="1" fill="#f4c161" opacity="0.85"/>
<ellipse cx="253.3" cy="405.6" rx="2.4" ry="1.5" fill="#826734" opacity="0.7"/>
<ellipse cx="252.7" cy="404.8" rx="1.6" ry="1" fill="#f4c161" opacity="0.85"/>
<ellipse cx="259.0" cy="402.4" rx="2.4" ry="1.5" fill="#826734" opacity="0.7"/>
<ellipse cx="258.4" cy="401.6" rx="1.6" ry="1" fill="#f4c161" opacity="0.85"/>
<ellipse cx="264.7" cy="399.3" rx="2.4" ry="1.5" fill="#826734" opacity="0.7"/>
<ellipse cx="264.1" cy="398.5" rx="1.6" ry="1" fill="#f4c161" opacity="0.85"/>
<ellipse cx="276.1" cy="399.1" rx="2.4" ry="1.5" fill="#826734" opacity="0.7"/>
<ellipse cx="275.5" cy="398.3" rx="1.6" ry="1" fill="#f4c161" opacity="0.85"/>
<ellipse cx="281.8" cy="402.1" rx="2.4" ry="1.5" fill="#826734" opacity="0.7"/>
<ellipse cx="281.2" cy="401.3" rx="1.6" ry="1" fill="#f4c161" opacity="0.85"/>
<ellipse cx="287.6" cy="405.1" rx="2.4" ry="1.5" fill="#826734" opacity="0.7"/>
<ellipse cx="287.0" cy="404.3" rx="1.6" ry="1" fill="#f4c161" opacity="0.85"/>
<ellipse cx="294.1" cy="408.6" rx="2.4" ry="1.5" fill="#826734" opacity="0.7"/>
<ellipse cx="293.5" cy="407.8" rx="1.6" ry="1" fill="#f4c161" opacity="0.85"/>
<ellipse cx="299.8" cy="411.6" rx="2.4" ry="1.5" fill="#826734" opacity="0.7"/>
<ellipse cx="299.2" cy="410.8" rx="1.6" ry="1" fill="#f4c161" opacity="0.85"/>
<ellipse cx="305.5" cy="414.6" rx="2.4" ry="1.5" fill="#826734" opacity="0.7"/>
<ellipse cx="304.9" cy="413.8" rx="1.6" ry="1" fill="#f4c161" opacity="0.85"/>
<ellipse cx="305.5" cy="420.9" rx="2.4" ry="1.5" fill="#826734" opacity="0.7"/>
<ellipse cx="304.9" cy="420.1" rx="1.6" ry="1" fill="#f4c161" opacity="0.85"/>
<ellipse cx="299.9" cy="424.3" rx="2.4" ry="1.5" fill="#826734" opacity="0.7"/>
<ellipse cx="299.3" cy="423.5" rx="1.6" ry="1" fill="#f4c161" opacity="0.85"/>
<ellipse cx="294.2" cy="427.6" rx="2.4" ry="1.5" fill="#826734" opacity="0.7"/>
<ellipse cx="293.6" cy="426.8" rx="1.6" ry="1" fill="#f4c161" opacity="0.85"/>
<ellipse cx="287.7" cy="431.5" rx="2.4" ry="1.5" fill="#826734" opacity="0.7"/>
<ellipse cx="287.1" cy="430.7" rx="1.6" ry="1" fill="#f4c161" opacity="0.85"/>
<ellipse cx="282.0" cy="434.8" rx="2.4" ry="1.5" fill="#826734" opacity="0.7"/>
<ellipse cx="281.4" cy="434.0" rx="1.6" ry="1" fill="#f4c161" opacity="0.85"/>
<ellipse cx="276.3" cy="438.1" rx="2.4" ry="1.5" fill="#826734" opacity="0.7"/>
<ellipse cx="275.7" cy="437.3" rx="1.6" ry="1" fill="#f4c161" opacity="0.85"/>
<ellipse cx="264.9" cy="438.3" rx="2.4" ry="1.5" fill="#826734" opacity="0.7"/>
<ellipse cx="264.3" cy="437.5" rx="1.6" ry="1" fill="#f4c161" opacity="0.85"/>
<ellipse cx="259.1" cy="435.1" rx="2.4" ry="1.5" fill="#826734" opacity="0.7"/>
<ellipse cx="258.5" cy="434.3" rx="1.6" ry="1" fill="#f4c161" opacity="0.85"/>
<ellipse cx="253.4" cy="431.9" rx="2.4" ry="1.5" fill="#826734" opacity="0.7"/>
<ellipse cx="252.8" cy="431.1" rx="1.6" ry="1" fill="#f4c161" opacity="0.85"/>
<ellipse cx="246.9" cy="428.3" rx="2.4" ry="1.5" fill="#826734" opacity="0.7"/>
<ellipse cx="246.3" cy="427.5" rx="1.6" ry="1" fill="#f4c161" opacity="0.85"/>
<ellipse cx="241.1" cy="425.1" rx="2.4" ry="1.5" fill="#826734" opacity="0.7"/>
<ellipse cx="240.5" cy="424.3" rx="1.6" ry="1" fill="#f4c161" opacity="0.85"/>
<ellipse cx="235.4" cy="421.9" rx="2.4" ry="1.5" fill="#826734" opacity="0.7"/>
<ellipse cx="234.8" cy="421.1" rx="1.6" ry="1" fill="#f4c161" opacity="0.85"/>
<polygon points="235.4,418.7 270.4,399.3 305.5,417.8 270.6,438.3" fill="none" stroke="#a07f40" stroke-width="0.9" opacity="0.3" stroke-linejoin="round"/>
<ellipse cx="270.6" cy="420.2" rx="14.0" ry="8.4" fill="#e9b95d" stroke="#a07f40" stroke-width="0.7" stroke-opacity="0.6"/>
<ellipse cx="270.6" cy="420.2" rx="13.2" ry="7.8" fill="url(#g10)"/>
<ellipse cx="270.2" cy="425.8" rx="6.3" ry="2.5" fill="#c18436"/>
<ellipse cx="270.2" cy="426.4" rx="5.2" ry="1.6" fill="#fffefb"/>
</g></g>
<g filter="url(#soft)"><clipPath id="gc11"><path d="M227.3 503.5 Q227.1 500.9 229.4 499.7 L268.4 480.3 Q270.7 479.1 273.0 480.4 L310.3 501.1 Q312.6 502.4 312.5 505.0 L312.2 516.0 Q312.1 518.6 309.8 519.9 L272.7 540.7 Q270.4 542.0 268.1 540.7 L230.5 518.9 Q228.2 517.6 228.0 515.0 Z"/></clipPath><g clip-path="url(#gc11)">
<polygon points="225.1,500.9 270.4,526.7 270.4,542.0 226.2,519.6" fill="url(#g13)"/>
<polygon points="270.4,526.7 314.6,502.4 314.1,520.6 270.4,542.0" fill="url(#g14)"/>
<line x1="270.4" y1="526.7" x2="270.4" y2="542.0" stroke="#e8ba4e" stroke-width="2.2" opacity="0.4"/>
<path d="M226.5 501.7 Q225.1 500.9 226.5 500.2 L269.3 477.8 Q270.7 477.1 272.1 477.9 L313.2 501.6 Q314.6 502.4 313.2 503.2 L271.8 525.9 Q270.4 526.7 269.0 525.9 Z" fill="url(#g12)"/>
<polyline points="227.1,501.7 270.4,527.5 312.6,503.2" fill="none" stroke="#a2843d" stroke-width="1" opacity="0.55"/>
<polyline points="228.1,500.6 270.4,526.2 311.6,502.1" fill="none" stroke="#f7ca5d" stroke-width="1" opacity="0.7"/>
<polyline points="227.7,500.9 270.7,479.1 312.0,502.4" fill="none" stroke="#a2843d" stroke-width="0.9" opacity="0.35"/>
<polygon points="232.2,501.1 270.6,482.0 307.5,502.5 270.3,523.8" fill="none" stroke="#a2843d" stroke-width="1.0" opacity="0.25" stroke-linejoin="round"/>
<polygon points="234.8,501.3 270.5,483.4 304.9,502.5 270.3,522.4" fill="none" stroke="#f7ca5d" stroke-width="1.0" opacity="0.5" stroke-linejoin="round"/>
<ellipse cx="252.8" cy="493.3" rx="2.9" ry="1.1" transform="rotate(90 252.8 493.3)" fill="#836b31" opacity="0.8"/>
<ellipse cx="286.6" cy="506.4" rx="2.5" ry="1.3" transform="rotate(134 286.6 506.4)" fill="#a2843d" opacity="0.75"/>
<ellipse cx="257.8" cy="508.5" rx="3.3" ry="1.1" transform="rotate(115 257.8 508.5)" fill="#f7ca5d" opacity="0.8"/>
<ellipse cx="261.9" cy="519.5" rx="2.9" ry="1.0" transform="rotate(31 261.9 519.5)" fill="#a2843d" opacity="0.75"/>
<ellipse cx="276.8" cy="514.1" rx="3.8" ry="0.9" transform="rotate(125 276.8 514.1)" fill="#836b31" opacity="0.8"/>
<ellipse cx="296.1" cy="501.2" rx="3.3" ry="1.0" transform="rotate(33 296.1 501.2)" fill="#f7ca5d" opacity="0.8"/>
<ellipse cx="249.1" cy="500.9" rx="2.3" ry="1.4" transform="rotate(84 249.1 500.9)" fill="#836b31" opacity="0.8"/>
<ellipse cx="239.9" cy="507.6" rx="3.2" ry="1.1" transform="rotate(179 239.9 507.6)" fill="#a2843d" opacity="0.75"/>
<ellipse cx="241.0" cy="505.8" rx="2.8" ry="1.2" transform="rotate(129 241.0 505.8)" fill="#f7ca5d" opacity="0.8"/>
<ellipse cx="251.2" cy="505.4" rx="3.1" ry="0.9" transform="rotate(19 251.2 505.4)" fill="#a2843d" opacity="0.75"/>
<ellipse cx="304.4" cy="505.2" rx="2.6" ry="1.0" transform="rotate(79 304.4 505.2)" fill="#a2843d" opacity="0.75"/>
<ellipse cx="271.1" cy="487.6" rx="3.0" ry="0.8" transform="rotate(56 271.1 487.6)" fill="#f7ca5d" opacity="0.8"/>
<ellipse cx="296.3" cy="509.6" rx="3.6" ry="1.0" transform="rotate(101 296.3 509.6)" fill="#836b31" opacity="0.8"/>
<ellipse cx="251.1" cy="501.8" rx="2.4" ry="0.9" transform="rotate(144 251.1 501.8)" fill="#a2843d" opacity="0.75"/>
<ellipse cx="239.4" cy="501.4" rx="3.1" ry="0.9" transform="rotate(143 239.4 501.4)" fill="#f7ca5d" opacity="0.8"/>
<ellipse cx="248.1" cy="503.9" rx="2.5" ry="1.2" transform="rotate(159 248.1 503.9)" fill="#a2843d" opacity="0.75"/>
<ellipse cx="235.6" cy="499.8" rx="3.3" ry="1.2" transform="rotate(80 235.6 499.8)" fill="#836b31" opacity="0.8"/>
<ellipse cx="271.8" cy="523.8" rx="2.8" ry="1.4" transform="rotate(33 271.8 523.8)" fill="#f7ca5d" opacity="0.8"/>
<ellipse cx="302.5" cy="497.1" rx="2.7" ry="1.3" transform="rotate(6 302.5 497.1)" fill="#a2843d" opacity="0.75"/>
<ellipse cx="253.9" cy="504.3" rx="2.3" ry="1.2" transform="rotate(119 253.9 504.3)" fill="#836b31" opacity="0.8"/>
<ellipse cx="260.8" cy="489.4" rx="2.5" ry="1.0" transform="rotate(177 260.8 489.4)" fill="#a2843d" opacity="0.75"/>
<ellipse cx="261.4" cy="515.6" rx="3.0" ry="0.8" transform="rotate(115 261.4 515.6)" fill="#f7ca5d" opacity="0.8"/>
<ellipse cx="257.7" cy="491.1" rx="3.8" ry="0.8" transform="rotate(159 257.7 491.1)" fill="#a2843d" opacity="0.75"/>
<ellipse cx="294.6" cy="502.3" rx="2.4" ry="1.0" transform="rotate(14 294.6 502.3)" fill="#836b31" opacity="0.8"/>
<ellipse cx="290.7" cy="495.0" rx="3.1" ry="0.9" transform="rotate(23 290.7 495.0)" fill="#a2843d" opacity="0.75"/>
<ellipse cx="302.4" cy="506.1" rx="2.4" ry="1.3" transform="rotate(121 302.4 506.1)" fill="#f7ca5d" opacity="0.8"/>
<ellipse cx="264.4" cy="485.2" rx="3.0" ry="1.0" transform="rotate(5 264.4 485.2)" fill="#a2843d" opacity="0.75"/>
<ellipse cx="250.6" cy="503.1" rx="2.3" ry="1.0" transform="rotate(124 250.6 503.1)" fill="#836b31" opacity="0.8"/>
<ellipse cx="274.8" cy="490.6" rx="2.4" ry="1.4" transform="rotate(28 274.8 490.6)" fill="#a2843d" opacity="0.75"/>
<ellipse cx="301.0" cy="500.7" rx="3.1" ry="1.0" transform="rotate(12 301.0 500.7)" fill="#f7ca5d" opacity="0.8"/>
<ellipse cx="293.5" cy="511.0" rx="2.8" ry="1.3" transform="rotate(82 293.5 511.0)" fill="#a2843d" opacity="0.75"/>
<ellipse cx="278.1" cy="511.2" rx="2.3" ry="1.4" transform="rotate(81 278.1 511.2)" fill="#836b31" opacity="0.8"/>
<ellipse cx="253.3" cy="511.4" rx="3.2" ry="1.4" transform="rotate(67 253.3 511.4)" fill="#f7ca5d" opacity="0.8"/>
<ellipse cx="285.0" cy="495.6" rx="2.3" ry="1.0" transform="rotate(109 285.0 495.6)" fill="#a2843d" opacity="0.75"/>
<ellipse cx="267.8" cy="515.1" rx="3.6" ry="1.0" transform="rotate(111 267.8 515.1)" fill="#836b31" opacity="0.8"/>
<ellipse cx="255.8" cy="514.1" rx="2.7" ry="0.9" transform="rotate(88 255.8 514.1)" fill="#f7ca5d" opacity="0.8"/>
<ellipse cx="308.2" cy="502.1" rx="2.3" ry="1.3" transform="rotate(123 308.2 502.1)" fill="#a2843d" opacity="0.75"/>
<ellipse cx="249.5" cy="491.2" rx="3.4" ry="1.2" transform="rotate(140 249.5 491.2)" fill="#836b31" opacity="0.8"/>
<ellipse cx="287.4" cy="500.5" rx="2.3" ry="1.4" transform="rotate(40 287.4 500.5)" fill="#a2843d" opacity="0.75"/>
<ellipse cx="302.0" cy="507.8" rx="2.8" ry="1.3" transform="rotate(118 302.0 507.8)" fill="#f7ca5d" opacity="0.8"/>
<ellipse cx="252.5" cy="493.1" rx="2.5" ry="1.0" transform="rotate(179 252.5 493.1)" fill="#836b31" opacity="0.8"/>
<ellipse cx="275.2" cy="483.1" rx="2.3" ry="1.2" transform="rotate(20 275.2 483.1)" fill="#a2843d" opacity="0.75"/>
<ellipse cx="277.2" cy="522.6" rx="2.9" ry="1.2" transform="rotate(46 277.2 522.6)" fill="#a2843d" opacity="0.75"/>
<ellipse cx="250.3" cy="509.6" rx="2.8" ry="1.1" transform="rotate(56 250.3 509.6)" fill="#a2843d" opacity="0.75"/>
<ellipse cx="271.1" cy="490.2" rx="2.7" ry="0.9" transform="rotate(58 271.1 490.2)" fill="#a2843d" opacity="0.75"/>
<ellipse cx="232.7" cy="504.1" rx="3.4" ry="1.2" transform="rotate(105 232.7 504.1)" fill="#836b31" opacity="0.8"/>
<ellipse cx="262.0" cy="484.6" rx="2.9" ry="0.9" transform="rotate(75 262.0 484.6)" fill="#a2843d" opacity="0.75"/>
<ellipse cx="278.4" cy="488.1" rx="3.0" ry="1.3" transform="rotate(180 278.4 488.1)" fill="#f7ca5d" opacity="0.8"/>
<ellipse cx="274.4" cy="481.3" rx="2.3" ry="0.9" transform="rotate(163 274.4 481.3)" fill="#a2843d" opacity="0.75"/>
<ellipse cx="261.1" cy="492.4" rx="3.5" ry="1.2" transform="rotate(178 261.1 492.4)" fill="#836b31" opacity="0.8"/>
<ellipse cx="270.5" cy="485.4" rx="3.0" ry="1.0" transform="rotate(31 270.5 485.4)" fill="#a2843d" opacity="0.75"/>
<ellipse cx="266.6" cy="514.8" rx="3.3" ry="0.9" transform="rotate(68 266.6 514.8)" fill="#f7ca5d" opacity="0.8"/>
<ellipse cx="291.8" cy="498.6" rx="3.1" ry="1.2" transform="rotate(122 291.8 498.6)" fill="#836b31" opacity="0.8"/>
<ellipse cx="268.0" cy="488.7" rx="2.9" ry="1.0" transform="rotate(76 268.0 488.7)" fill="#a2843d" opacity="0.75"/>
<ellipse cx="299.4" cy="505.9" rx="3.5" ry="0.8" transform="rotate(25 299.4 505.9)" fill="#f7ca5d" opacity="0.8"/>
<ellipse cx="292.0" cy="495.7" rx="3.6" ry="1.2" transform="rotate(96 292.0 495.7)" fill="#a2843d" opacity="0.75"/>
<ellipse cx="288.2" cy="503.4" rx="3.3" ry="1.3" transform="rotate(11 288.2 503.4)" fill="#836b31" opacity="0.8"/>
<ellipse cx="302.6" cy="502.8" rx="3.7" ry="0.9" transform="rotate(67 302.6 502.8)" fill="#a2843d" opacity="0.75"/>
<ellipse cx="272.7" cy="523.0" rx="3.1" ry="1.3" transform="rotate(96 272.7 523.0)" fill="#a2843d" opacity="0.75"/>
<ellipse cx="263.3" cy="488.1" rx="2.4" ry="0.9" transform="rotate(81 263.3 488.1)" fill="#f7ca5d" opacity="0.8"/>
<ellipse cx="296.2" cy="496.0" rx="3.4" ry="1.4" transform="rotate(83 296.2 496.0)" fill="#836b31" opacity="0.8"/>
<ellipse cx="283.4" cy="512.7" rx="2.7" ry="1.4" transform="rotate(171 283.4 512.7)" fill="#a2843d" opacity="0.75"/>
<ellipse cx="230.5" cy="501.6" rx="3.5" ry="0.9" transform="rotate(154 230.5 501.6)" fill="#f7ca5d" opacity="0.8"/>
<ellipse cx="285.5" cy="495.8" rx="2.4" ry="1.2" transform="rotate(78 285.5 495.8)" fill="#a2843d" opacity="0.75"/>
<ellipse cx="271.2" cy="503.2" rx="17.6" ry="10.4" fill="none" stroke="#a2843d" stroke-width="1" opacity="0.45" stroke-dasharray="2 1.5"/>
<ellipse cx="271.2" cy="503.2" rx="13.5" ry="7.5" fill="#edc159" stroke="#a2843d" stroke-width="0.7" stroke-opacity="0.6"/>
<ellipse cx="271.2" cy="503.2" rx="12.6" ry="6.8" fill="url(#g15)"/>
<ellipse cx="270.1" cy="509.4" rx="5.7" ry="2.5" fill="#896528"/>
<ellipse cx="270.1" cy="510.0" rx="4.6" ry="1.6" fill="#fffefb"/>
</g></g>
<g filter="url(#soft)"><clipPath id="gc16"><path d="M225.2 589.0 Q225.1 586.4 227.4 585.1 L267.3 562.9 Q269.6 561.6 271.9 562.8 L310.8 584.1 Q313.1 585.3 313.0 587.9 L312.7 597.9 Q312.6 600.5 310.4 601.9 L271.3 626.4 Q269.1 627.8 266.9 626.4 L228.1 601.9 Q225.9 600.5 225.8 597.9 Z"/></clipPath><g clip-path="url(#gc16)">
<polygon points="223.1,586.4 269.1,613.7 269.1,627.8 223.9,602.5" fill="url(#g18)"/>
<polygon points="269.1,613.7 315.1,585.3 314.6,602.5 269.1,627.8" fill="url(#g19)"/>
<line x1="269.1" y1="613.7" x2="269.1" y2="627.8" stroke="#f2c14e" stroke-width="2.2" opacity="0.4"/>
<path d="M224.5 587.2 Q223.1 586.4 224.5 585.6 L268.2 560.4 Q269.6 559.6 271.0 560.4 L313.7 584.5 Q315.1 585.3 313.7 586.1 L270.5 612.9 Q269.1 613.7 267.7 612.9 Z" fill="url(#g17)"/>
<polyline points="225.1,587.2 269.1,614.5 313.1,586.1" fill="none" stroke="#a58740" stroke-width="1" opacity="0.55"/>
<polyline points="226.1,586.1 269.1,613.2 312.1,585.0" fill="none" stroke="#fccf61" stroke-width="1" opacity="0.7"/>
<polyline points="225.7,586.4 269.6,561.6 312.5,585.3" fill="none" stroke="#a58740" stroke-width="0.9" opacity="0.35"/>
<polygon points="230.4,586.5 269.5,564.7 307.8,585.6 269.1,610.6" fill="none" stroke="#a58740" stroke-width="1.0" opacity="0.45" stroke-linejoin="round"/>
<polygon points="233.0,586.6 269.5,566.3 305.2,585.7 269.1,609.0" fill="none" stroke="#fccf61" stroke-width="1.0" opacity="0.5" stroke-linejoin="round"/>
<ellipse cx="269.1" cy="612.0" rx="3.8" ry="1.4" transform="rotate(35 269.1 612.0)" fill="#866e34" opacity="0.8"/>
<ellipse cx="259.3" cy="593.6" rx="2.9" ry="1.3" transform="rotate(72 259.3 593.6)" fill="#a58740" opacity="0.75"/>
<ellipse cx="273.1" cy="572.1" rx="3.3" ry="1.2" transform="rotate(98 273.1 572.1)" fill="#fccf61" opacity="0.8"/>
<ellipse cx="247.7" cy="593.9" rx="3.7" ry="1.3" transform="rotate(89 247.7 593.9)" fill="#a58740" opacity="0.75"/>
<ellipse cx="267.4" cy="576.6" rx="2.6" ry="1.0" transform="rotate(169 267.4 576.6)" fill="#866e34" opacity="0.8"/>
<ellipse cx="258.0" cy="598.3" rx="3.3" ry="1.3" transform="rotate(143 258.0 598.3)" fill="#a58740" opacity="0.75"/>
<ellipse cx="284.9" cy="585.2" rx="3.7" ry="1.4" transform="rotate(45 284.9 585.2)" fill="#fccf61" opacity="0.8"/>
<ellipse cx="301.2" cy="592.8" rx="3.6" ry="1.3" transform="rotate(159 301.2 592.8)" fill="#a58740" opacity="0.75"/>
<ellipse cx="291.3" cy="583.1" rx="3.5" ry="1.0" transform="rotate(23 291.3 583.1)" fill="#866e34" opacity="0.8"/>
<ellipse cx="293.0" cy="592.9" rx="2.6" ry="1.1" transform="rotate(89 293.0 592.9)" fill="#a58740" opacity="0.75"/>
<ellipse cx="300.7" cy="585.0" rx="3.7" ry="1.3" transform="rotate(179 300.7 585.0)" fill="#fccf61" opacity="0.8"/>
<ellipse cx="254.7" cy="579.0" rx="2.3" ry="1.4" transform="rotate(168 254.7 579.0)" fill="#a58740" opacity="0.75"/>
<ellipse cx="263.9" cy="576.4" rx="3.3" ry="0.8" transform="rotate(30 263.9 576.4)" fill="#866e34" opacity="0.8"/>
<ellipse cx="249.0" cy="578.5" rx="2.6" ry="1.2" transform="rotate(24 249.0 578.5)" fill="#a58740" opacity="0.75"/>
<ellipse cx="263.8" cy="609.0" rx="2.6" ry="1.2" transform="rotate(113 263.8 609.0)" fill="#fccf61" opacity="0.8"/>
<ellipse cx="239.0" cy="591.7" rx="3.6" ry="1.2" transform="rotate(91 239.0 591.7)" fill="#a58740" opacity="0.75"/>
<ellipse cx="269.0" cy="611.5" rx="2.5" ry="1.1" transform="rotate(28 269.0 611.5)" fill="#866e34" opacity="0.8"/>
<ellipse cx="246.3" cy="595.8" rx="2.9" ry="1.0" transform="rotate(38 246.3 595.8)" fill="#a58740" opacity="0.75"/>
<ellipse cx="255.7" cy="589.5" rx="2.9" ry="1.1" transform="rotate(14 255.7 589.5)" fill="#a58740" opacity="0.75"/>
<ellipse cx="246.1" cy="590.9" rx="3.0" ry="1.2" transform="rotate(100 246.1 590.9)" fill="#fccf61" opacity="0.8"/>
<ellipse cx="272.5" cy="601.7" rx="3.7" ry="1.0" transform="rotate(27 272.5 601.7)" fill="#a58740" opacity="0.75"/>
<ellipse cx="251.8" cy="588.6" rx="3.3" ry="1.4" transform="rotate(170 251.8 588.6)" fill="#866e34" opacity="0.8"/>
<ellipse cx="289.4" cy="572.8" rx="2.3" ry="1.3" transform="rotate(145 289.4 572.8)" fill="#a58740" opacity="0.75"/>
<ellipse cx="251.2" cy="588.9" rx="3.0" ry="1.1" transform="rotate(121 251.2 588.9)" fill="#fccf61" opacity="0.8"/>
<ellipse cx="267.2" cy="564.2" rx="3.2" ry="0.8" transform="rotate(4 267.2 564.2)" fill="#866e34" opacity="0.8"/>
<ellipse cx="248.4" cy="587.2" rx="2.8" ry="1.4" transform="rotate(5 248.4 587.2)" fill="#a58740" opacity="0.75"/>
<ellipse cx="265.2" cy="566.1" rx="3.6" ry="1.3" transform="rotate(178 265.2 566.1)" fill="#fccf61" opacity="0.8"/>
<ellipse cx="246.9" cy="590.5" rx="3.4" ry="1.2" transform="rotate(29 246.9 590.5)" fill="#a58740" opacity="0.75"/>
<ellipse cx="279.5" cy="604.8" rx="3.3" ry="1.1" transform="rotate(131 279.5 604.8)" fill="#866e34" opacity="0.8"/>
<ellipse cx="287.2" cy="578.5" rx="3.7" ry="0.8" transform="rotate(140 287.2 578.5)" fill="#a58740" opacity="0.75"/>
<ellipse cx="237.6" cy="591.6" rx="2.7" ry="1.0" transform="rotate(166 237.6 591.6)" fill="#fccf61" opacity="0.8"/>
<ellipse cx="280.9" cy="596.3" rx="3.4" ry="0.9" transform="rotate(83 280.9 596.3)" fill="#866e34" opacity="0.8"/>
<ellipse cx="253.6" cy="577.2" rx="2.4" ry="1.3" transform="rotate(157 253.6 577.2)" fill="#fccf61" opacity="0.8"/>
<ellipse cx="248.8" cy="573.7" rx="3.4" ry="0.9" transform="rotate(172 248.8 573.7)" fill="#a58740" opacity="0.75"/>
<ellipse cx="274.1" cy="606.9" rx="3.1" ry="1.1" transform="rotate(82 274.1 606.9)" fill="#866e34" opacity="0.8"/>
<ellipse cx="228.7" cy="588.3" rx="2.4" ry="1.0" transform="rotate(48 228.7 588.3)" fill="#a58740" opacity="0.75"/>
<ellipse cx="275.9" cy="596.4" rx="3.3" ry="0.9" transform="rotate(5 275.9 596.4)" fill="#fccf61" opacity="0.8"/>
<ellipse cx="260.1" cy="604.0" rx="3.5" ry="1.0" transform="rotate(12 260.1 604.0)" fill="#866e34" opacity="0.8"/>
<ellipse cx="256.1" cy="599.5" rx="3.8" ry="0.9" transform="rotate(121 256.1 599.5)" fill="#a58740" opacity="0.75"/>
<ellipse cx="270.1" cy="608.9" rx="3.2" ry="1.1" transform="rotate(49 270.1 608.9)" fill="#fccf61" opacity="0.8"/>
<ellipse cx="294.6" cy="576.2" rx="2.5" ry="1.3" transform="rotate(146 294.6 576.2)" fill="#a58740" opacity="0.75"/>
<ellipse cx="280.0" cy="593.9" rx="2.4" ry="1.0" transform="rotate(115 280.0 593.9)" fill="#866e34" opacity="0.8"/>
<ellipse cx="260.6" cy="575.9" rx="2.7" ry="1.1" transform="rotate(58 260.6 575.9)" fill="#a58740" opacity="0.75"/>
<ellipse cx="305.2" cy="587.4" rx="3.3" ry="1.4" transform="rotate(116 305.2 587.4)" fill="#fccf61" opacity="0.8"/>
<ellipse cx="288.5" cy="578.9" rx="2.8" ry="1.0" transform="rotate(7 288.5 578.9)" fill="#a58740" opacity="0.75"/>
<ellipse cx="259.6" cy="600.8" rx="3.0" ry="1.3" transform="rotate(76 259.6 600.8)" fill="#a58740" opacity="0.75"/>
<ellipse cx="267.1" cy="569.4" rx="3.3" ry="0.9" transform="rotate(91 267.1 569.4)" fill="#fccf61" opacity="0.8"/>
<ellipse cx="274.6" cy="598.9" rx="3.3" ry="1.1" transform="rotate(172 274.6 598.9)" fill="#a58740" opacity="0.75"/>
<ellipse cx="294.2" cy="592.0" rx="2.3" ry="1.2" transform="rotate(16 294.2 592.0)" fill="#866e34" opacity="0.8"/>
<ellipse cx="307.2" cy="585.1" rx="2.8" ry="1.3" transform="rotate(41 307.2 585.1)" fill="#a58740" opacity="0.75"/>
<ellipse cx="250.6" cy="580.7" rx="3.2" ry="1.0" transform="rotate(87 250.6 580.7)" fill="#fccf61" opacity="0.8"/>
<ellipse cx="270.9" cy="563.8" rx="2.8" ry="1.1" transform="rotate(57 270.9 563.8)" fill="#a58740" opacity="0.75"/>
<ellipse cx="276.3" cy="603.8" rx="3.5" ry="1.1" transform="rotate(50 276.3 603.8)" fill="#fccf61" opacity="0.8"/>
<ellipse cx="294.8" cy="589.3" rx="2.3" ry="1.1" transform="rotate(78 294.8 589.3)" fill="#a58740" opacity="0.75"/>
<ellipse cx="226.4" cy="586.3" rx="2.4" ry="1.3" transform="rotate(14 226.4 586.3)" fill="#866e34" opacity="0.8"/>
<ellipse cx="269.5" cy="573.9" rx="2.2" ry="1.1" transform="rotate(14 269.5 573.9)" fill="#a58740" opacity="0.75"/>
<ellipse cx="284.6" cy="598.4" rx="3.1" ry="1.2" transform="rotate(70 284.6 598.4)" fill="#fccf61" opacity="0.8"/>
<ellipse cx="245.1" cy="587.7" rx="2.8" ry="1.2" transform="rotate(39 245.1 587.7)" fill="#a58740" opacity="0.75"/>
<ellipse cx="281.7" cy="598.3" rx="2.6" ry="1.0" transform="rotate(110 281.7 598.3)" fill="#866e34" opacity="0.8"/>
<ellipse cx="265.8" cy="564.6" rx="3.0" ry="0.9" transform="rotate(71 265.8 564.6)" fill="#a58740" opacity="0.75"/>
<ellipse cx="300.7" cy="590.6" rx="2.8" ry="1.0" transform="rotate(54 300.7 590.6)" fill="#fccf61" opacity="0.8"/>
<ellipse cx="256.5" cy="569.1" rx="2.3" ry="1.2" transform="rotate(84 256.5 569.1)" fill="#a58740" opacity="0.75"/>
<ellipse cx="262.3" cy="573.0" rx="3.6" ry="1.0" transform="rotate(166 262.3 573.0)" fill="#a58740" opacity="0.75"/>
<ellipse cx="293.0" cy="578.9" rx="2.5" ry="1.0" transform="rotate(88 293.0 578.9)" fill="#a58740" opacity="0.75"/>
<ellipse cx="248.2" cy="573.6" rx="2.8" ry="1.2" transform="rotate(64 248.2 573.6)" fill="#866e34" opacity="0.8"/>
<ellipse cx="258.5" cy="572.4" rx="3.5" ry="0.8" transform="rotate(53 258.5 572.4)" fill="#a58740" opacity="0.75"/>
<ellipse cx="245.7" cy="579.9" rx="3.8" ry="1.1" transform="rotate(48 245.7 579.9)" fill="#fccf61" opacity="0.8"/>
<ellipse cx="268.1" cy="565.9" rx="3.0" ry="0.9" transform="rotate(110 268.1 565.9)" fill="#a58740" opacity="0.75"/>
<ellipse cx="270.1" cy="586.2" rx="17.6" ry="10.9" fill="none" stroke="#a58740" stroke-width="1" opacity="0.45" stroke-dasharray="2 1.5"/>
<ellipse cx="270.1" cy="586.2" rx="14.2" ry="8.6" fill="#f1c65d" stroke="#a58740" stroke-width="0.7" stroke-opacity="0.6"/>
<ellipse cx="270.1" cy="586.2" rx="12.6" ry="7.3" fill="url(#g20)"/>
<ellipse cx="268.8" cy="593.4" rx="6.3" ry="2.7" fill="#ba8838"/>
<ellipse cx="268.8" cy="594.0" rx="5.2" ry="1.8" fill="#fffefb"/>
</g></g>
<g filter="url(#soft)"><clipPath id="gc21"><path d="M224.8 680.0 Q224.6 677.4 226.8 676.0 L266.4 651.5 Q268.6 650.1 270.8 651.4 L310.9 675.1 Q313.1 676.4 313.0 679.0 L312.7 689.0 Q312.6 691.6 310.4 693.0 L270.8 718.0 Q268.6 719.4 266.4 718.0 L227.8 693.5 Q225.6 692.1 225.4 689.5 Z"/></clipPath><g clip-path="url(#gc21)">
<polygon points="222.6,677.4 269.1,704.2 268.6,719.4 223.6,694.1" fill="url(#g23)"/>
<polygon points="269.1,704.2 315.1,676.4 314.6,693.6 268.6,719.4" fill="url(#g24)"/>
<line x1="269.1" y1="704.2" x2="268.6" y2="719.4" stroke="#e3a644" stroke-width="2.2" opacity="0.4"/>
<path d="M224.0 678.2 Q222.6 677.4 223.9 676.5 L267.3 649.0 Q268.6 648.1 270.0 648.9 L313.7 675.6 Q315.1 676.4 313.7 677.2 L270.5 703.4 Q269.1 704.2 267.7 703.4 Z" fill="url(#g22)"/>
<polyline points="224.6,678.2 269.1,705.0 313.1,677.2" fill="none" stroke="#a77f35" stroke-width="1" opacity="0.55"/>
<polyline points="225.6,677.1 269.1,703.7 312.1,676.1" fill="none" stroke="#ffc251" stroke-width="1" opacity="0.7"/>
<polyline points="225.2,677.4 268.6,650.1 312.5,676.4" fill="none" stroke="#a77f35" stroke-width="0.9" opacity="0.35"/>
<path d="M232.6 677.4 Q256.6 669.8 268.6 655.0 Q281.0 669.5 305.1 676.5 Q281.1 684.4 269.1 699.3 Q256.8 684.7 232.6 677.4 Z" fill="none" stroke="#a77f35" stroke-width="1.1" opacity="0.5"/>
<path d="M236.1 677.3 Q257.7 670.5 268.7 657.1 Q279.9 670.2 301.6 676.6 Q280.0 683.7 269.0 697.2 Q257.9 684.0 236.1 677.3 Z" fill="none" stroke="#ffc251" stroke-width="1" opacity="0.6"/>
<ellipse cx="269.1" cy="676.7" rx="18.2" ry="12.6" fill="none" stroke="#a77f35" stroke-width="1" opacity="0.55"/>
<line x1="287.2" y1="679.2" x2="291.2" y2="679.8" stroke="#a77f35" stroke-width="0.9" opacity="0.45"/>
<line x1="281.6" y1="686.1" x2="284.3" y2="688.3" stroke="#a77f35" stroke-width="0.9" opacity="0.45"/>
<line x1="271.2" y1="689.4" x2="271.7" y2="692.3" stroke="#a77f35" stroke-width="0.9" opacity="0.45"/>
<line x1="260.0" y1="687.8" x2="258.0" y2="690.4" stroke="#a77f35" stroke-width="0.9" opacity="0.45"/>
<line x1="252.3" y1="682.0" x2="248.6" y2="683.2" stroke="#a77f35" stroke-width="0.9" opacity="0.45"/>
<line x1="251.0" y1="674.2" x2="247.0" y2="673.6" stroke="#a77f35" stroke-width="0.9" opacity="0.45"/>
<line x1="256.6" y1="667.3" x2="253.9" y2="665.1" stroke="#a77f35" stroke-width="0.9" opacity="0.45"/>
<line x1="267.0" y1="664.0" x2="266.5" y2="661.1" stroke="#a77f35" stroke-width="0.9" opacity="0.45"/>
<line x1="278.2" y1="665.6" x2="280.2" y2="663.0" stroke="#a77f35" stroke-width="0.9" opacity="0.45"/>
<line x1="285.9" y1="671.4" x2="289.6" y2="670.2" stroke="#a77f35" stroke-width="0.9" opacity="0.45"/>
<ellipse cx="269.1" cy="676.7" rx="15.4" ry="10.1" fill="#f4ba4e" stroke="#a77f35" stroke-width="0.7" stroke-opacity="0.6"/>
<ellipse cx="269.1" cy="676.7" rx="13.0" ry="8.2" fill="url(#g25)"/>
<ellipse cx="269.6" cy="683.8" rx="8.5" ry="3.5" fill="#e9a854"/>
<ellipse cx="269.6" cy="684.4" rx="7.4" ry="2.6" fill="#fffefb"/>
</g></g>
<g filter="url(#soft)"><clipPath id="gc26"><path d="M226.8 766.5 Q226.6 763.9 228.8 762.5 L267.4 736.5 Q269.6 735.1 271.8 736.5 L309.9 761.5 Q312.1 762.9 312.0 765.5 L311.7 774.0 Q311.6 776.6 309.5 778.2 L271.7 807.2 Q269.6 808.8 267.5 807.3 L229.7 779.6 Q227.6 778.1 227.4 775.5 Z"/></clipPath><g clip-path="url(#gc26)">
<polygon points="224.6,763.9 269.6,793.8 269.6,808.8 225.6,780.1" fill="url(#g28)"/>
<polygon points="269.6,793.8 314.1,762.9 313.6,778.6 269.6,808.8" fill="url(#g29)"/>
<line x1="269.6" y1="793.8" x2="269.6" y2="808.8" stroke="#d8a749" stroke-width="2.2" opacity="0.4"/>
<path d="M225.9 764.8 Q224.6 763.9 225.9 763.0 L268.3 734.0 Q269.6 733.1 270.9 734.0 L312.8 762.0 Q314.1 762.9 312.8 763.8 L270.9 792.9 Q269.6 793.8 268.3 792.9 Z" fill="url(#g27)"/>
<polyline points="226.6,764.7 269.6,794.6 312.1,763.7" fill="none" stroke="#957738" stroke-width="1" opacity="0.55"/>
<polyline points="227.6,763.6 269.6,793.3 311.1,762.6" fill="none" stroke="#e3b656" stroke-width="1" opacity="0.7"/>
<polyline points="227.2,763.9 269.6,735.1 311.5,762.9" fill="none" stroke="#957738" stroke-width="0.9" opacity="0.35"/>
<path d="M240.3 764.1 Q261.7 759.1 269.5 744.5 Q277.1 758.9 298.4 763.4 Q277.1 769.5 269.5 784.4 Q261.7 769.6 240.3 764.1 Z" fill="#d7ac51" stroke="#957738" stroke-width="1" opacity="0.85"/>
<polygon points="230.9,764.0 269.6,738.0 307.8,763.1 269.6,790.9" fill="none" stroke="#957738" stroke-width="0.9" opacity="0.35" stroke-linejoin="round"/>
<polyline points="227.1,766.9 269.6,797.2 311.6,765.9" fill="none" stroke="#3d2e10" stroke-width="1" opacity="0.75"/>
<ellipse cx="269.6" cy="766.3" rx="12.4" ry="8.0" fill="#d9ae52" stroke="#957738" stroke-width="0.7" stroke-opacity="0.6"/>
<ellipse cx="269.6" cy="766.3" rx="12.4" ry="8.0" fill="url(#g30)"/>
<ellipse cx="269.6" cy="770.6" rx="7.9" ry="3.0" fill="#694c19"/>
<ellipse cx="269.6" cy="771.2" rx="6.8" ry="2.1" fill="#fffefb"/>
</g></g>
<g filter="url(#soft)"><clipPath id="gc31"><path d="M225.3 853.3 Q225.1 850.7 227.2 849.2 L266.5 822.4 Q268.6 820.9 270.8 822.4 L309.7 848.7 Q311.9 850.2 311.7 852.8 L311.3 860.3 Q311.1 862.9 309.0 864.5 L270.7 893.1 Q268.6 894.7 266.5 893.2 L228.2 865.4 Q226.1 863.9 225.9 861.3 Z"/></clipPath><g clip-path="url(#gc31)">
<polygon points="223.1,850.7 269.6,880.1 268.6,894.7 224.1,865.9" fill="url(#g33)"/>
<polygon points="269.6,880.1 313.9,850.2 313.1,864.9 268.6,894.7" fill="url(#g34)"/>
<line x1="269.6" y1="880.1" x2="268.6" y2="894.7" stroke="#dcb04f" stroke-width="2.2" opacity="0.4"/>
<path d="M224.5 851.6 Q223.1 850.7 224.4 849.8 L267.3 819.8 Q268.6 818.9 269.9 819.8 L312.6 849.3 Q313.9 850.2 312.6 851.1 L270.9 879.2 Q269.6 880.1 268.2 879.2 Z" fill="url(#g32)"/>
<polyline points="225.1,851.5 269.6,880.9 311.9,851.0" fill="none" stroke="#9c7f3c" stroke-width="1" opacity="0.55"/>
<polyline points="226.1,850.4 269.6,879.6 310.9,849.9" fill="none" stroke="#eec15c" stroke-width="1" opacity="0.7"/>
<polyline points="225.7,850.7 268.6,820.9 311.3,850.2" fill="none" stroke="#9c7f3c" stroke-width="0.9" opacity="0.35"/>
<path d="M244.6 850.6 Q260.7 845.2 268.6 834.2 Q276.3 845.1 292.4 850.3 Q276.5 855.8 269.1 866.8 Q260.9 855.9 244.6 850.6 Z" fill="#e2b757" stroke="#9c7f3c" stroke-width="1" opacity="0.85"/>
<line x1="232.5" y1="848.6" x2="236.5" y2="848.8" stroke="#9c7f3c" stroke-width="1.1" opacity="0.55"/>
<line x1="235.5" y1="846.6" x2="239.1" y2="847.0" stroke="#9c7f3c" stroke-width="1.1" opacity="0.55"/>
<line x1="238.5" y1="844.5" x2="241.8" y2="845.2" stroke="#9c7f3c" stroke-width="1.1" opacity="0.55"/>
<line x1="241.5" y1="842.4" x2="244.5" y2="843.3" stroke="#9c7f3c" stroke-width="1.1" opacity="0.55"/>
<line x1="244.5" y1="840.4" x2="247.2" y2="841.5" stroke="#9c7f3c" stroke-width="1.1" opacity="0.55"/>
<line x1="247.5" y1="838.3" x2="249.8" y2="839.7" stroke="#9c7f3c" stroke-width="1.1" opacity="0.55"/>
<line x1="250.5" y1="836.2" x2="252.5" y2="837.8" stroke="#9c7f3c" stroke-width="1.1" opacity="0.55"/>
<line x1="253.5" y1="834.2" x2="255.2" y2="836.0" stroke="#9c7f3c" stroke-width="1.1" opacity="0.55"/>
<line x1="256.5" y1="832.1" x2="257.9" y2="834.2" stroke="#9c7f3c" stroke-width="1.1" opacity="0.55"/>
<line x1="259.6" y1="830.0" x2="260.5" y2="832.3" stroke="#9c7f3c" stroke-width="1.1" opacity="0.55"/>
<line x1="262.6" y1="828.0" x2="263.2" y2="830.5" stroke="#9c7f3c" stroke-width="1.1" opacity="0.55"/>
<line x1="265.6" y1="825.9" x2="265.9" y2="828.7" stroke="#9c7f3c" stroke-width="1.1" opacity="0.55"/>
<line x1="271.6" y1="825.9" x2="271.2" y2="828.6" stroke="#9c7f3c" stroke-width="1.1" opacity="0.55"/>
<line x1="274.6" y1="827.9" x2="273.9" y2="830.4" stroke="#9c7f3c" stroke-width="1.1" opacity="0.55"/>
<line x1="277.6" y1="829.9" x2="276.6" y2="832.2" stroke="#9c7f3c" stroke-width="1.1" opacity="0.55"/>
<line x1="280.6" y1="832.0" x2="279.2" y2="834.0" stroke="#9c7f3c" stroke-width="1.1" opacity="0.55"/>
<line x1="283.6" y1="834.0" x2="281.9" y2="835.8" stroke="#9c7f3c" stroke-width="1.1" opacity="0.55"/>
<line x1="286.6" y1="836.0" x2="284.6" y2="837.6" stroke="#9c7f3c" stroke-width="1.1" opacity="0.55"/>
<line x1="289.6" y1="838.1" x2="287.2" y2="839.4" stroke="#9c7f3c" stroke-width="1.1" opacity="0.55"/>
<line x1="292.6" y1="840.1" x2="289.9" y2="841.2" stroke="#9c7f3c" stroke-width="1.1" opacity="0.55"/>
<line x1="295.6" y1="842.1" x2="292.6" y2="843.0" stroke="#9c7f3c" stroke-width="1.1" opacity="0.55"/>
<line x1="298.6" y1="844.1" x2="295.2" y2="844.9" stroke="#9c7f3c" stroke-width="1.1" opacity="0.55"/>
<line x1="301.6" y1="846.2" x2="297.9" y2="846.7" stroke="#9c7f3c" stroke-width="1.1" opacity="0.55"/>
<line x1="304.6" y1="848.2" x2="300.6" y2="848.5" stroke="#9c7f3c" stroke-width="1.1" opacity="0.55"/>
<line x1="304.6" y1="852.3" x2="300.6" y2="852.1" stroke="#9c7f3c" stroke-width="1.1" opacity="0.55"/>
<line x1="301.7" y1="854.4" x2="298.0" y2="853.9" stroke="#9c7f3c" stroke-width="1.1" opacity="0.55"/>
<line x1="298.8" y1="856.4" x2="295.4" y2="855.8" stroke="#9c7f3c" stroke-width="1.1" opacity="0.55"/>
<line x1="295.8" y1="858.5" x2="292.8" y2="857.6" stroke="#9c7f3c" stroke-width="1.1" opacity="0.55"/>
<line x1="292.9" y1="860.6" x2="290.2" y2="859.5" stroke="#9c7f3c" stroke-width="1.1" opacity="0.55"/>
<line x1="290.0" y1="862.6" x2="287.6" y2="861.3" stroke="#9c7f3c" stroke-width="1.1" opacity="0.55"/>
<line x1="287.1" y1="864.7" x2="285.0" y2="863.1" stroke="#9c7f3c" stroke-width="1.1" opacity="0.55"/>
<line x1="284.1" y1="866.8" x2="282.4" y2="865.0" stroke="#9c7f3c" stroke-width="1.1" opacity="0.55"/>
<line x1="281.2" y1="868.9" x2="279.8" y2="866.8" stroke="#9c7f3c" stroke-width="1.1" opacity="0.55"/>
<line x1="278.3" y1="870.9" x2="277.2" y2="868.7" stroke="#9c7f3c" stroke-width="1.1" opacity="0.55"/>
<line x1="275.3" y1="873.0" x2="274.6" y2="870.5" stroke="#9c7f3c" stroke-width="1.1" opacity="0.55"/>
<line x1="272.4" y1="875.1" x2="272.0" y2="872.3" stroke="#9c7f3c" stroke-width="1.1" opacity="0.55"/>
<line x1="266.4" y1="875.1" x2="266.6" y2="872.4" stroke="#9c7f3c" stroke-width="1.1" opacity="0.55"/>
<line x1="263.3" y1="873.1" x2="263.9" y2="870.6" stroke="#9c7f3c" stroke-width="1.1" opacity="0.55"/>
<line x1="260.2" y1="871.0" x2="261.2" y2="868.8" stroke="#9c7f3c" stroke-width="1.1" opacity="0.55"/>
<line x1="257.2" y1="869.0" x2="258.4" y2="866.9" stroke="#9c7f3c" stroke-width="1.1" opacity="0.55"/>
<line x1="254.1" y1="867.0" x2="255.7" y2="865.1" stroke="#9c7f3c" stroke-width="1.1" opacity="0.55"/>
<line x1="251.0" y1="864.9" x2="252.9" y2="863.3" stroke="#9c7f3c" stroke-width="1.1" opacity="0.55"/>
<line x1="247.9" y1="862.9" x2="250.2" y2="861.5" stroke="#9c7f3c" stroke-width="1.1" opacity="0.55"/>
<line x1="244.8" y1="860.9" x2="247.5" y2="859.7" stroke="#9c7f3c" stroke-width="1.1" opacity="0.55"/>
<line x1="241.8" y1="858.8" x2="244.7" y2="857.9" stroke="#9c7f3c" stroke-width="1.1" opacity="0.55"/>
<line x1="238.7" y1="856.8" x2="242.0" y2="856.1" stroke="#9c7f3c" stroke-width="1.1" opacity="0.55"/>
<line x1="235.6" y1="854.8" x2="239.3" y2="854.3" stroke="#9c7f3c" stroke-width="1.1" opacity="0.55"/>
<line x1="232.5" y1="852.7" x2="236.5" y2="852.5" stroke="#9c7f3c" stroke-width="1.1" opacity="0.55"/>
<polygon points="235.5,850.7 268.6,828.0 301.5,850.3 269.3,873.0" fill="none" stroke="#9c7f3c" stroke-width="0.9" opacity="0.55" stroke-linejoin="round"/>
<polyline points="225.6,853.9 269.6,883.7 311.4,853.4" fill="none" stroke="#7f6731" stroke-width="0.9" opacity="0.6"/>
<ellipse cx="269.1" cy="850.5" rx="13.0" ry="7.6" fill="#e4b957" stroke="#9c7f3c" stroke-width="0.7" stroke-opacity="0.6"/>
<ellipse cx="269.1" cy="850.5" rx="13.0" ry="7.6" fill="url(#g35)"/>
<ellipse cx="268.2" cy="856.7" rx="8.3" ry="3.4" fill="#6e5119"/>
<ellipse cx="268.2" cy="857.3" rx="7.2" ry="2.5" fill="#fffefb"/>
</g></g>
<g filter="url(#soft)">
<path d="M231.1 968.4 Q230.9 967.2 232.1 967.2 L307.2 966.2 Q308.4 966.2 308.2 967.4 L306.4 980.4 Q306.2 981.6 305.0 981.6 L234.4 981.6 Q233.2 981.6 233.0 980.4 Z" fill="url(#g37)"/>
<path d="M267.1 924.3 Q268.5 922.6 270.0 924.2 L307.4 965.0 Q308.9 966.6 306.8 967.3 L302.1 968.9 Q300.0 969.6 297.8 969.6 L242.2 970.2 Q240.0 970.2 237.9 969.7 L232.6 968.3 Q230.5 967.8 231.9 966.1 Z" fill="url(#g36)"/>
<polygon points="268.8,932.0 296.0,962.4 243.0,963.2" fill="none" stroke="#a88a34" stroke-width="0.9" opacity="0.5"/>
<path d="M266 928 L240 962" stroke="#b07a3a" stroke-width="1" stroke-dasharray="3 2" opacity="0.6" fill="none"/>
<ellipse cx="277.4" cy="965.2" rx="2" ry="0.8" fill="#a98a38" opacity="0.65"/>
<ellipse cx="287.7" cy="966.2" rx="2" ry="0.8" fill="#f3e08c" opacity="0.65"/>
<ellipse cx="284.4" cy="966.1" rx="2" ry="0.8" fill="#a98a38" opacity="0.65"/>
<ellipse cx="241.7" cy="963.8" rx="2" ry="0.8" fill="#f3e08c" opacity="0.65"/>
<ellipse cx="296.6" cy="964.7" rx="2" ry="0.8" fill="#a98a38" opacity="0.65"/>
<ellipse cx="294.1" cy="962.1" rx="2" ry="0.8" fill="#f3e08c" opacity="0.65"/>
<ellipse cx="268.1" cy="962.7" rx="2" ry="0.8" fill="#a98a38" opacity="0.65"/>
<ellipse cx="272.6" cy="964.4" rx="2" ry="0.8" fill="#f3e08c" opacity="0.65"/>
<ellipse cx="240.8" cy="962.6" rx="2" ry="0.8" fill="#a98a38" opacity="0.65"/>
<ellipse cx="256.8" cy="966.1" rx="2" ry="0.8" fill="#f3e08c" opacity="0.65"/>
<ellipse cx="285.9" cy="962.3" rx="2" ry="0.8" fill="#a98a38" opacity="0.65"/>
<ellipse cx="287.8" cy="962.2" rx="2" ry="0.8" fill="#f3e08c" opacity="0.65"/>
<ellipse cx="277.0" cy="962.1" rx="2" ry="0.8" fill="#a98a38" opacity="0.65"/>
<ellipse cx="240.1" cy="965.9" rx="2" ry="0.8" fill="#f3e08c" opacity="0.65"/>
<ellipse cx="252.6" cy="962.6" rx="2" ry="0.8" fill="#a98a38" opacity="0.65"/>
<ellipse cx="298.9" cy="965.9" rx="2" ry="0.8" fill="#f3e08c" opacity="0.65"/>
<ellipse cx="257.4" cy="966.3" rx="2" ry="0.8" fill="#a98a38" opacity="0.65"/>
<ellipse cx="272.4" cy="964.9" rx="2" ry="0.8" fill="#f3e08c" opacity="0.65"/>
<ellipse cx="252.3" cy="966.2" rx="2" ry="0.8" fill="#a98a38" opacity="0.65"/>
<ellipse cx="281.4" cy="966.3" rx="2" ry="0.8" fill="#f3e08c" opacity="0.65"/>
<ellipse cx="293.6" cy="963.0" rx="2" ry="0.8" fill="#a98a38" opacity="0.65"/>
<ellipse cx="261.7" cy="962.3" rx="2" ry="0.8" fill="#f3e08c" opacity="0.65"/>
<ellipse cx="248.7" cy="961.8" rx="2" ry="0.8" fill="#a98a38" opacity="0.65"/>
<ellipse cx="258.1" cy="964.5" rx="2" ry="0.8" fill="#f3e08c" opacity="0.65"/>
<ellipse cx="240.2" cy="964.9" rx="2" ry="0.8" fill="#a98a38" opacity="0.65"/>
<ellipse cx="260.3" cy="963.0" rx="2" ry="0.8" fill="#f3e08c" opacity="0.65"/>
<ellipse cx="269.7" cy="951" rx="15.2" ry="10.4" fill="#e8c46a"/>
<ellipse cx="269.7" cy="951" rx="14.2" ry="9.6" fill="#96552a"/>
<ellipse cx="269.9" cy="953.4" rx="13.2" ry="8" fill="url(#g38)"/>
<ellipse cx="269.3" cy="960.6" rx="8.6" ry="3.4" fill="#c08a3c"/>
<ellipse cx="269.1" cy="961.4" rx="7.2" ry="2.3" fill="#fffefb"/>
</g>
<g filter="url(#soft)"><clipPath id="gc39"><path d="M226.2 1051.9 Q225.2 1049.5 227.5 1048.3 L266.8 1027.3 Q269.1 1026.1 271.4 1027.3 L310.6 1046.6 Q312.9 1047.8 312.1 1050.3 L308.6 1060.1 Q307.8 1062.6 305.6 1063.9 L271.9 1083.5 Q269.7 1084.8 267.4 1083.5 L233.2 1064.4 Q230.9 1063.1 229.9 1060.7 Z"/></clipPath><g clip-path="url(#gc39)">
<polygon points="223.2,1049.5 269.7,1072.2 269.7,1084.8 228.9,1065.1" fill="url(#g41)"/>
<polygon points="269.7,1072.2 314.9,1047.8 309.8,1064.6 269.7,1084.8" fill="url(#g42)"/>
<line x1="269.7" y1="1072.2" x2="269.7" y2="1084.8" stroke="#f2c452" stroke-width="2.2" opacity="0.4"/>
<path d="M224.6 1050.2 Q223.2 1049.5 224.6 1048.7 L267.7 1024.9 Q269.1 1024.1 270.5 1024.8 L313.5 1047.1 Q314.9 1047.8 313.5 1048.6 L271.1 1071.4 Q269.7 1072.2 268.3 1071.5 Z" fill="url(#g40)"/>
<polyline points="225.2,1050.3 269.7,1073.0 312.9,1048.6" fill="none" stroke="#a78a40" stroke-width="1" opacity="0.55"/>
<polyline points="226.2,1049.2 269.7,1071.7 311.9,1047.5" fill="none" stroke="#ffd261" stroke-width="1" opacity="0.7"/>
<polyline points="225.8,1049.5 269.1,1026.1 312.3,1047.8" fill="none" stroke="#a78a40" stroke-width="0.9" opacity="0.35"/>
<polygon points="234.8,1049.4 269.1,1031.2 303.3,1048.1 269.6,1067.1" fill="none" stroke="#a78a40" stroke-width="1.0" opacity="0.45" stroke-linejoin="round"/>
<polygon points="238.4,1049.4 269.1,1033.0 299.7,1048.2 269.5,1065.3" fill="none" stroke="#ffd261" stroke-width="1.0" opacity="0.5" stroke-linejoin="round"/>
<line x1="227.4" y1="1049.5" x2="238.4" y2="1049.4" stroke="#ffd261" stroke-width="2.6" stroke-linecap="round" opacity="0.95"/>
<line x1="227.4" y1="1050.6" x2="238.4" y2="1050.5" stroke="#a78a40" stroke-width="0.8" opacity="0.7"/>
<line x1="269.1" y1="1027.3" x2="269.1" y2="1033.0" stroke="#ffd261" stroke-width="2.6" stroke-linecap="round" opacity="0.95"/>
<line x1="269.1" y1="1028.4" x2="269.1" y2="1034.1" stroke="#a78a40" stroke-width="0.8" opacity="0.7"/>
<line x1="310.7" y1="1047.9" x2="299.7" y2="1048.2" stroke="#ffd261" stroke-width="2.6" stroke-linecap="round" opacity="0.95"/>
<line x1="310.7" y1="1049.0" x2="299.7" y2="1049.3" stroke="#a78a40" stroke-width="0.8" opacity="0.7"/>
<line x1="269.7" y1="1071.0" x2="269.5" y2="1065.3" stroke="#ffd261" stroke-width="2.6" stroke-linecap="round" opacity="0.95"/>
<line x1="269.7" y1="1072.1" x2="269.5" y2="1066.4" stroke="#a78a40" stroke-width="0.8" opacity="0.7"/>
<ellipse cx="269.7" cy="1047.4" rx="19.2" ry="12.2" fill="#f9cd5f"/>
<ellipse cx="269.7" cy="1047.4" rx="18.2" ry="11.4" fill="url(#g43)"/>
<ellipse cx="270.3" cy="1049.5" rx="15.1" ry="8.9" fill="none" stroke="#73541f" stroke-width="1.1" opacity="0.55"/>
<path d="M253.3 1046.3 A16.7 10.5 0 0 1 279.7 1038.5" fill="none" stroke="#664b1c" stroke-width="1.8" opacity="0.55"/>
<ellipse cx="269.1" cy="1056.6" rx="11.5" ry="4.7" fill="#d09838"/>
<ellipse cx="269.1" cy="1057.2" rx="10.4" ry="3.8" fill="#fffefb"/>
</g></g>
<g filter="url(#soft)"><clipPath id="gc44"><path d="M225.4 1149.2 Q224.9 1146.7 227.1 1145.3 L266.3 1120.4 Q268.5 1119.0 270.7 1120.3 L310.1 1144.2 Q312.3 1145.5 311.7 1148.0 L309.3 1158.0 Q308.7 1160.5 306.6 1162.0 L270.6 1187.2 Q268.5 1188.7 266.3 1187.3 L230.4 1163.7 Q228.2 1162.3 227.7 1159.8 Z"/></clipPath><g clip-path="url(#gc44)">
<polygon points="222.9,1146.7 269.1,1175.5 268.5,1188.7 226.2,1164.3" fill="url(#g46)"/>
<polygon points="269.1,1175.5 314.3,1145.5 310.7,1162.5 268.5,1188.7" fill="url(#g47)"/>
<line x1="269.1" y1="1175.5" x2="268.5" y2="1188.7" stroke="#daa751" stroke-width="2.2" opacity="0.4"/>
<path d="M224.3 1147.5 Q222.9 1146.7 224.2 1145.8 L267.2 1117.9 Q268.5 1117.0 269.9 1117.8 L312.9 1144.7 Q314.3 1145.5 313.0 1146.4 L270.4 1174.6 Q269.1 1175.5 267.7 1174.7 Z" fill="url(#g45)"/>
<polyline points="224.9,1147.5 269.1,1176.3 312.3,1146.3" fill="none" stroke="#9e7938" stroke-width="1" opacity="0.55"/>
<polyline points="225.9,1146.4 269.1,1175.0 311.3,1145.2" fill="none" stroke="#f2b956" stroke-width="1" opacity="0.7"/>
<polyline points="225.5,1146.7 268.5,1119.0 311.7,1145.5" fill="none" stroke="#9e7938" stroke-width="0.9" opacity="0.35"/>
<polygon points="232.8,1146.8 268.5,1124.1 304.4,1145.8 269.0,1170.4" fill="none" stroke="#9e7938" stroke-width="0.9" opacity="0.45" stroke-linejoin="round"/>
<ellipse cx="268.5" cy="1146.2" rx="24.2" ry="17.8" fill="none" stroke="#9e7938" stroke-width="0.9" opacity="0.5"/>
<ellipse cx="232.8" cy="1146.8" rx="1.8" ry="1.3" fill="#9e7938" opacity="0.65"/>
<ellipse cx="232.3" cy="1146.3" rx="1" ry=".7" fill="#f2b956" opacity="0.9"/>
<ellipse cx="268.5" cy="1124.1" rx="1.8" ry="1.3" fill="#9e7938" opacity="0.65"/>
<ellipse cx="268.0" cy="1123.6" rx="1" ry=".7" fill="#f2b956" opacity="0.9"/>
<ellipse cx="304.4" cy="1145.8" rx="1.8" ry="1.3" fill="#9e7938" opacity="0.65"/>
<ellipse cx="303.9" cy="1145.3" rx="1" ry=".7" fill="#f2b956" opacity="0.9"/>
<ellipse cx="269.0" cy="1170.4" rx="1.8" ry="1.3" fill="#9e7938" opacity="0.65"/>
<ellipse cx="268.5" cy="1169.9" rx="1" ry=".7" fill="#f2b956" opacity="0.9"/>
<ellipse cx="268.5" cy="1146.2" rx="21.2" ry="15.6" fill="#ebb454"/>
<ellipse cx="268.5" cy="1146.2" rx="20.2" ry="14.8" fill="url(#g48)"/>
<ellipse cx="269.1" cy="1148.9" rx="16.8" ry="11.5" fill="none" stroke="#573518" stroke-width="1.1" opacity="0.55"/>
<path d="M250.3 1144.7 A18.6 13.6 0 0 1 279.6 1134.7" fill="none" stroke="#4d2f15" stroke-width="1.8" opacity="0.55"/>
<ellipse cx="268.5" cy="1157.4" rx="13.1" ry="5.7" fill="#9d602b"/>
<ellipse cx="268.5" cy="1158.0" rx="12.0" ry="4.8" fill="#fffefb"/>
</g></g>
<g filter="url(#soft)"><clipPath id="gc49"><path d="M225.9 1250.1 Q225.2 1247.6 227.4 1246.2 L267.8 1220.2 Q270.0 1218.8 272.2 1220.2 L310.7 1245.0 Q312.9 1246.4 312.3 1248.9 L310.5 1257.7 Q309.9 1260.2 307.8 1261.7 L271.2 1287.6 Q269.1 1289.1 267.0 1287.6 L230.9 1262.9 Q228.8 1261.4 228.1 1258.9 Z"/></clipPath><g clip-path="url(#gc49)">
<polygon points="223.2,1247.6 269.1,1278.2 269.1,1289.1 226.8,1263.4" fill="url(#g51)"/>
<polygon points="269.1,1278.2 314.9,1246.4 311.9,1262.2 269.1,1289.1" fill="url(#g52)"/>
<line x1="269.1" y1="1278.2" x2="269.1" y2="1289.1" stroke="#dfa745" stroke-width="2.2" opacity="0.4"/>
<path d="M224.5 1248.5 Q223.2 1247.6 224.5 1246.7 L268.7 1217.7 Q270.0 1216.8 271.3 1217.7 L313.6 1245.5 Q314.9 1246.4 313.6 1247.3 L270.4 1277.3 Q269.1 1278.2 267.8 1277.3 Z" fill="url(#g50)"/>
<polyline points="225.2,1248.4 269.1,1279.0 312.9,1247.2" fill="none" stroke="#a47e2e" stroke-width="1" opacity="0.55"/>
<polyline points="226.2,1247.3 269.1,1277.7 311.9,1246.1" fill="none" stroke="#fbc046" stroke-width="1" opacity="0.7"/>
<polyline points="225.8,1247.6 270.0,1218.8 312.3,1246.4" fill="none" stroke="#a47e2e" stroke-width="0.9" opacity="0.35"/>
<path d="M228.3 1247.7 Q258.3 1240.8 269.9 1220.9 Q280.2 1240.5 309.8 1246.5 Q280.0 1255.4 269.1 1276.1 Q258.1 1255.7 228.3 1247.7 Z" fill="#ebb442" stroke="#856625" stroke-width="1" opacity="0.8"/>
<polygon points="226.5,1247.6 270.0,1219.7 311.6,1246.5 269.1,1277.3" fill="none" stroke="#a47e2e" stroke-width="0.8" opacity="0.4" stroke-linejoin="round"/>
<path d="M270.1 1274.3 q1 -7 8 -9" fill="none" stroke="#3a230c" stroke-width="1.6" opacity="0.8"/>
<path d="M271.9 1224.0 q1 6 9 8" fill="none" stroke="#5a3a12" stroke-width="1.2" opacity="0.6"/>
<ellipse cx="270.0" cy="1244.6" rx="20.8" ry="16.2" fill="#f4bb44"/>
<ellipse cx="270.0" cy="1244.6" rx="19.8" ry="15.4" fill="url(#g53)"/>
<ellipse cx="270.6" cy="1247.4" rx="16.4" ry="12.0" fill="none" stroke="#623e18" stroke-width="1.1" opacity="0.55"/>
<path d="M252.2 1243.1 A18.2 14.2 0 0 1 280.9 1232.6" fill="none" stroke="#573715" stroke-width="1.8" opacity="0.55"/>
<ellipse cx="269.7" cy="1257.0" rx="14.1" ry="7.1" fill="#b1702b"/>
<ellipse cx="269.7" cy="1257.6" rx="13.0" ry="6.2" fill="#fffefb"/>
</g></g>
<path d="M338.6 331.0 L345.5 331.6 L360.7 336.1 L374.9 336.1 L383.0 330.8 L395.7 330.8 L411.3 323.7 L439.6 323.7 L439.6 352.9 L338.6 352.9 Z" fill="#cfd8e0"/>
<path d="M338.6 352.9 L338.6 331.0 L345.5 331.6 L360.7 336.1 L374.9 336.1 L383.0 330.8 L395.7 330.8 L411.3 323.7 L439.6 323.7" fill="none" stroke="#1a1718" stroke-width="1.15" stroke-linejoin="round"/>
<path d="M337.4 417 L343.5 417.8 L359.7 423.5 Q375.9 428.4 390 423.5 Q403 418 409.9 410.3 L438 410.3 L438.0 439.9 L337.4 439.9 Z" fill="#cfd8e0"/>
<path d="M337.4 439.9 L337.4 417 L343.5 417.8 L359.7 423.5 Q375.9 428.4 390 423.5 Q403 418 409.9 410.3 L438 410.3" fill="none" stroke="#1a1718" stroke-width="1.15" stroke-linejoin="round"/>
<path d="M332.6 496.4 L337.4 496.8 L347.6 500 Q355.6 502 363.7 498.4 L369.8 493.5 L437.6 493.5 L437.6 525.9 L332.6 525.9 Z" fill="#cfd8e0"/>
<path d="M332.6 525.9 L332.6 496.4 L337.4 496.8 L347.6 500 Q355.6 502 363.7 498.4 L369.8 493.5 L437.6 493.5" fill="none" stroke="#1a1718" stroke-width="1.15" stroke-linejoin="round"/>
<path d="M369.5 493.3 L437.6 493.3" stroke="#111" stroke-width="2.1"/>
<path d="M337.8 589.8 L346.5 590.2 L354.6 593.5 L375.9 593.5 L382.0 591.5 L395.1 591.5 L413.3 583.0 L439.0 583.0 L439.0 611.1 L337.8 611.1 Z" fill="#cfd8e0"/>
<path d="M337.8 611.1 L337.8 589.8 L346.5 590.2 L354.6 593.5 L375.9 593.5 L382.0 591.5 L395.1 591.5 L413.3 583.0 L439.0 583.0" fill="none" stroke="#1a1718" stroke-width="1.15" stroke-linejoin="round"/>
<path d="M338.2 675.4 L348.6 676.0 L360.1 679.5 L368.8 678.1 L375.9 678.1 L383.6 679.5 L402.2 675.8 L409.3 675.8 L418.0 672.8 L439.0 672.8 L439.0 701.3 L338.2 701.3 Z" fill="#cfd8e0"/>
<path d="M338.2 701.3 L338.2 675.4 L348.6 676.0 L360.1 679.5 L368.8 678.1 L375.9 678.1 L383.6 679.5 L402.2 675.8 L409.3 675.8 L418.0 672.8 L439.0 672.8" fill="none" stroke="#1a1718" stroke-width="1.15" stroke-linejoin="round"/>
<path d="M337.8 760.4 Q340 758 345.5 757.8 L354.6 757.8 L382.4 772.6 L437.6 772.6 L437.6 787.5 L337.8 787.5 Z" fill="#cfd8e0"/>
<path d="M337.8 787.5 L337.8 760.4 Q340 758 345.5 757.8 L354.6 757.8 L382.4 772.6 L437.6 772.6" fill="none" stroke="#1a1718" stroke-width="1.15" stroke-linejoin="round"/>
<path d="M339 846.8 Q341 845 343.5 844.8 L348.6 844.8 L364.7 850.5 L375.9 851.5 L394.1 852.1 L402.2 853.5 L420.4 857.1 L437 857.1 L437.0 880.0 L339.0 880.0 Z" fill="#cfd8e0"/>
<path d="M339.0 880.0 L339 846.8 Q341 845 343.5 844.8 L348.6 844.8 L364.7 850.5 L375.9 851.5 L394.1 852.1 L402.2 853.5 L420.4 857.1 L437 857.1" fill="none" stroke="#1a1718" stroke-width="1.15" stroke-linejoin="round"/>
<path d="M335.0 946.0 L341.5 947.6 L348.6 947.2 L356.7 943.5 L361.3 943.5 L375.5 937.5 L437.0 937.5 L437.0 973.2 L339.5 973.2 Z" fill="#cfd8e0"/>
<path d="M339.5 973.2 L335.0 946.0 L341.5 947.6 L348.6 947.2 L356.7 943.5 L361.3 943.5 L375.5 937.5 L437.0 937.5" fill="none" stroke="#1a1718" stroke-width="1.15" stroke-linejoin="round"/>
<path d="M333.8 1040 L341.5 1040.2 L354.6 1043.2 Q357 1043.6 358.7 1043 L364.7 1040.2 Q369 1038.6 373.9 1037.8 L420.4 1031.5 L436 1031.5 L436.0 1059.6 L336.2 1059.6 Z" fill="#cfd8e0"/>
<path d="M336.2 1059.6 L333.8 1040 L341.5 1040.2 L354.6 1043.2 Q357 1043.6 358.7 1043 L364.7 1040.2 Q369 1038.6 373.9 1037.8 L420.4 1031.5 L436 1031.5" fill="none" stroke="#1a1718" stroke-width="1.15" stroke-linejoin="round"/>
<path d="M336.0 1141.2 L345.5 1143.8 L383.0 1135.3 L411.9 1135.3 L417.4 1141.2 L435.2 1141.2 L435.2 1164.6 L339.9 1164.6 Z" fill="#cfd8e0"/>
<path d="M339.9 1164.6 L336.0 1141.2 L345.5 1143.8 L383.0 1135.3 L411.9 1135.3 L417.4 1141.2 L435.2 1141.2" fill="none" stroke="#1a1718" stroke-width="1.15" stroke-linejoin="round"/>
<path d="M336.4 1250.2 L344.5 1250.2 L354.6 1253.8 L370.8 1253.8 L403.8 1235.6 L435.6 1235.6 L435.6 1271.6 L339.5 1271.6 Z" fill="#cfd8e0"/>
<path d="M339.5 1271.6 L336.4 1250.2 L344.5 1250.2 L354.6 1253.8 L370.8 1253.8 L403.8 1235.6 L435.6 1235.6" fill="none" stroke="#1a1718" stroke-width="1.15" stroke-linejoin="round"/>
<g fill="none" stroke="#1a70b0" stroke-linejoin="round" stroke-linecap="round"><path d="M644.1 315.8 Q644.3 314.2 645.9 314.2 L689.4 314.6 Q691.0 314.6 690.7 316.2 L683.6 358.2 Q683.4 359.8 681.8 359.8 L638.5 359.4 Q636.9 359.4 637.2 357.8 Z" fill="#f2f8fc" stroke-width="2.38" opacity="1"/><path d="M645.8 317.7 Q646.1 316.3 647.5 316.3 L687.1 316.6 Q688.6 316.6 688.3 318.1 L681.9 356.3 Q681.6 357.8 680.2 357.8 L640.8 357.4 Q639.3 357.4 639.6 356.0 Z" fill="none" stroke-width="0.85" opacity="1"/><path d="M647.4 319.4 Q647.6 318.1 649.0 318.1 L685.1 318.4 Q686.4 318.4 686.2 319.7 L680.3 354.6 Q680.1 355.9 678.7 355.9 L642.8 355.6 Q641.5 355.6 641.7 354.3 Z" fill="none" stroke-width="0.67" opacity="0.9"/><path d="M656.7 328.7 L646.7 316.9" stroke-width="0.85" opacity="0.9"/><path d="M672.4 330.0 L687.7 317.3" stroke-width="0.85" opacity="0.9"/><path d="M671.1 345.5 L681.0 357.1" stroke-width="0.85" opacity="0.9"/><path d="M655.3 344.2 L640.1 356.7" stroke-width="0.85" opacity="0.9"/><ellipse cx="666.4" cy="322.2" rx="5.3" ry="2.3" transform="rotate(0 666.4 322.2)" fill="#fff" stroke-width="0.8"/><ellipse cx="679.0" cy="337.2" rx="5.3" ry="2.3" transform="rotate(100 679.0 337.2)" fill="#fff" stroke-width="0.8"/><ellipse cx="661.4" cy="351.9" rx="5.3" ry="2.3" transform="rotate(-180 661.4 351.9)" fill="#fff" stroke-width="0.8"/><ellipse cx="648.8" cy="336.9" rx="5.3" ry="2.3" transform="rotate(-81 648.8 336.9)" fill="#fff" stroke-width="0.8"/><circle cx="663.9" cy="337.1" r="10.8" fill="#fff" stroke-width="0.8" opacity="1"/><circle cx="663.9" cy="337.1" r="8.9" fill="none" stroke-width="1.32" opacity="1"/><circle cx="673.2" cy="329.4" r="1.7" fill="#1a70b0" stroke="none" opacity="0.9"/><circle cx="654.6" cy="344.8" r="1.7" fill="#1a70b0" stroke="none" opacity="0.9"/></g>
<g fill="none" stroke="#1a70b0" stroke-linejoin="round" stroke-linecap="round"><path d="M734.5 322.8 Q735.4 321.5 737.0 321.5 L773.3 322.0 Q774.9 322.1 774.0 323.4 L753.2 352.4 Q752.2 353.7 750.6 353.7 L715.0 353.2 Q713.4 353.1 714.3 351.8 Z" fill="#f2f8fc" stroke-width="2.38" opacity="1"/><path d="M735.4 324.1 Q736.2 322.9 737.6 323.0 L770.7 323.4 Q772.2 323.5 771.3 324.6 L752.4 351.1 Q751.5 352.3 750.1 352.2 L717.6 351.8 Q716.2 351.7 717.0 350.5 Z" fill="none" stroke-width="0.85" opacity="1"/><path d="M736.2 325.3 Q736.9 324.2 738.2 324.2 L768.4 324.7 Q769.7 324.7 769.0 325.8 L751.7 349.9 Q750.9 351.0 749.6 350.9 L720.0 350.5 Q718.7 350.5 719.4 349.4 Z" fill="none" stroke-width="0.67" opacity="0.9"/><path d="M740.2 330.1 L736.5 323.4" stroke-width="0.85" opacity="0.9"/><path d="M752.2 333.7 L771.3 323.9" stroke-width="0.85" opacity="0.9"/><path d="M748.2 345.4 L751.3 351.8" stroke-width="0.85" opacity="0.9"/><path d="M736.8 341.5 L717.1 351.3" stroke-width="0.85" opacity="0.9"/><ellipse cx="751.3" cy="327.5" rx="5.4" ry="2.3" transform="rotate(1 751.3 327.5)" fill="#fff" stroke-width="0.8"/><ellipse cx="756.6" cy="337.8" rx="5.4" ry="2.3" transform="rotate(126 756.6 337.8)" fill="#fff" stroke-width="0.8"/><ellipse cx="737.2" cy="347.5" rx="5.4" ry="2.3" transform="rotate(-179 737.2 347.5)" fill="#fff" stroke-width="0.8"/><ellipse cx="732.0" cy="337.4" rx="5.4" ry="2.3" transform="rotate(-55 732.0 337.4)" fill="#fff" stroke-width="0.8"/><circle cx="744.5" cy="337.6" r="8.3" fill="#fff" stroke-width="0.8" opacity="1"/><circle cx="744.5" cy="337.6" r="6.4" fill="none" stroke-width="1.32" opacity="1"/><circle cx="753.1" cy="333.2" r="1.7" fill="#1a70b0" stroke="none" opacity="0.9"/><circle cx="735.9" cy="341.9" r="1.7" fill="#1a70b0" stroke="none" opacity="0.9"/></g>
<g fill="none" stroke="#1a70b0" stroke-linejoin="round" stroke-linecap="round"><path d="M801.0 316.0 Q801.0 314.4 802.6 314.4 L844.4 314.4 Q846.0 314.4 846.0 316.0 L846.0 358.2 Q846.0 359.8 844.4 359.8 L802.6 359.8 Q801.0 359.8 801.0 358.2 Z" fill="#f2f8fc" stroke-width="2.38" opacity="1"/><path d="M803.0 317.9 Q803.0 316.4 804.5 316.4 L842.5 316.4 Q844.0 316.4 844.0 317.9 L844.0 356.3 Q844.0 357.8 842.5 357.8 L804.5 357.8 Q803.0 357.8 803.0 356.3 Z" fill="none" stroke-width="0.85" opacity="1"/><path d="M804.8 319.6 Q804.8 318.2 806.1 318.2 L840.8 318.2 Q842.2 318.2 842.2 319.6 L842.2 354.6 Q842.2 355.9 840.8 355.9 L806.1 355.9 Q804.8 355.9 804.8 354.6 Z" fill="none" stroke-width="0.67" opacity="0.9"/><path d="M815.8 329.4 L803.7 317.1" stroke-width="0.85" opacity="0.9"/><path d="M831.0 329.4 L843.3 317.1" stroke-width="0.85" opacity="0.9"/><path d="M831.0 344.6 L843.3 357.1" stroke-width="0.85" opacity="0.9"/><path d="M815.9 344.7 L803.7 357.1" stroke-width="0.85" opacity="0.9"/><ellipse cx="823.5" cy="322.3" rx="5.3" ry="2.3" transform="rotate(0 823.5 322.3)" fill="#fff" stroke-width="0.8"/><ellipse cx="838.1" cy="337.1" rx="5.3" ry="2.3" transform="rotate(90 838.1 337.1)" fill="#fff" stroke-width="0.8"/><ellipse cx="823.5" cy="351.7" rx="5.3" ry="2.3" transform="rotate(180 823.5 351.7)" fill="#fff" stroke-width="0.8"/><ellipse cx="808.8" cy="337.1" rx="5.3" ry="2.3" transform="rotate(-90 808.8 337.1)" fill="#fff" stroke-width="0.8"/><circle cx="823.4" cy="337.0" r="10.5" fill="#fff" stroke-width="0.8" opacity="1"/><circle cx="823.4" cy="337.0" r="8.6" fill="none" stroke-width="1.32" opacity="1"/><circle cx="831.7" cy="328.7" r="1.7" fill="#1a70b0" stroke="none" opacity="0.9"/><circle cx="815.2" cy="345.4" r="1.7" fill="#1a70b0" stroke="none" opacity="0.9"/></g>
<g fill="none" stroke="#1a70b0" stroke-linejoin="round" stroke-linecap="round"><path d="M901.7 312.7 Q902.5 311.3 903.3 312.7 L929.8 358.7 Q930.6 360.1 929.0 360.1 L876.1 360.1 Q874.5 360.1 875.3 358.7 Z" fill="#f2f8fc" stroke-width="2.38" opacity="1"/><path d="M901.8 315.5 Q902.5 314.2 903.2 315.5 L927.3 357.4 Q928.1 358.6 926.6 358.6 L878.5 358.6 Q877.0 358.6 877.7 357.4 Z" fill="none" stroke-width="0.85" opacity="1"/><path d="M901.8 318.0 Q902.5 316.8 903.2 318.0 L925.2 356.2 Q925.8 357.3 924.5 357.3 L880.6 357.3 Q879.3 357.3 879.9 356.2 Z" fill="none" stroke-width="0.67" opacity="0.9"/><path d="M902.5 334.9 L902.5 315.2" stroke-width="0.85" opacity="0.9"/><path d="M910.1 348.2 L927.2 358.1" stroke-width="0.85" opacity="0.9"/><path d="M894.9 348.2 L877.9 358.1" stroke-width="0.85" opacity="0.9"/><ellipse cx="912.4" cy="338.1" rx="5.3" ry="2.3" transform="rotate(60 912.4 338.1)" fill="#fff" stroke-width="0.8"/><ellipse cx="902.5" cy="355.2" rx="5.3" ry="2.3" transform="rotate(180 902.5 355.2)" fill="#fff" stroke-width="0.8"/><ellipse cx="892.6" cy="338.0" rx="5.3" ry="2.3" transform="rotate(-60 892.6 338.0)" fill="#fff" stroke-width="0.8"/><circle cx="902.5" cy="343.7" r="8.5" fill="#fff" stroke-width="0.8" opacity="1"/><circle cx="902.5" cy="343.7" r="6.6" fill="none" stroke-width="1.32" opacity="1"/><circle cx="902.5" cy="333.9" r="1.7" fill="#1a70b0" stroke="none" opacity="0.9"/><circle cx="894.0" cy="348.7" r="1.7" fill="#1a70b0" stroke="none" opacity="0.9"/></g>
<g fill="none" stroke="#1a70b0" stroke-linejoin="round" stroke-linecap="round"><path d="M977.2 327.0 Q978.5 326.0 980.1 326.0 L1015.2 326.4 Q1016.8 326.4 1015.6 327.4 L987.9 349.5 Q986.6 350.5 985.0 350.4 L949.2 349.3 Q947.6 349.2 948.9 348.3 Z" fill="#f2f8fc" stroke-width="2.38" opacity="1"/><path d="M977.6 327.9 Q978.8 327.1 980.2 327.1 L1012.2 327.4 Q1013.6 327.4 1012.5 328.3 L987.3 348.5 Q986.2 349.4 984.7 349.3 L952.1 348.2 Q950.7 348.2 951.8 347.3 Z" fill="none" stroke-width="0.85" opacity="1"/><path d="M978.0 328.8 Q979.0 328.0 980.3 328.0 L1009.5 328.3 Q1010.8 328.3 1009.8 329.2 L986.8 347.5 Q985.8 348.4 984.4 348.3 L954.7 347.3 Q953.4 347.3 954.4 346.5 Z" fill="none" stroke-width="0.67" opacity="0.9"/><path d="M979.9 331.5 L978.9 327.4" stroke-width="0.85" opacity="0.9"/><path d="M987.9 335.8 L1012.6 327.8" stroke-width="0.85" opacity="0.9"/><path d="M984.1 344.1 L986.0 349.0" stroke-width="0.85" opacity="0.9"/><path d="M975.3 340.0 L951.7 347.9" stroke-width="0.85" opacity="0.9"/><ellipse cx="990.1" cy="331.7" rx="3.4" ry="1.3" transform="rotate(1 990.1 331.7)" fill="#fff" stroke-width="0.8"/><ellipse cx="992.3" cy="338.2" rx="3.4" ry="1.3" transform="rotate(141 992.3 338.2)" fill="#fff" stroke-width="0.8"/><ellipse cx="973.7" cy="344.4" rx="3.4" ry="1.3" transform="rotate(-178 973.7 344.4)" fill="#fff" stroke-width="0.8"/><ellipse cx="971.4" cy="337.7" rx="3.4" ry="1.3" transform="rotate(-37 971.4 337.7)" fill="#fff" stroke-width="0.8"/><circle cx="981.6" cy="337.9" r="6.3" fill="#fff" stroke-width="0.8" opacity="1"/><circle cx="981.6" cy="337.9" r="4.4" fill="none" stroke-width="1.32" opacity="1"/><circle cx="988.9" cy="335.5" r="1.7" fill="#1a70b0" stroke="none" opacity="0.9"/><circle cx="974.4" cy="340.3" r="1.7" fill="#1a70b0" stroke="none" opacity="0.9"/></g>
<g fill="none" stroke="#1a70b0" stroke-linejoin="round" stroke-linecap="round"><path d="M1060.0 312.3 Q1061.1 311.1 1062.2 312.3 L1077.0 328.7 Q1078.1 329.9 1078.7 331.4 L1086.8 352.9 Q1087.4 354.4 1085.9 354.8 L1062.6 361.1 Q1061.1 361.6 1059.6 361.1 L1036.7 354.8 Q1035.2 354.4 1035.7 352.9 L1043.7 331.4 Q1044.3 329.9 1045.4 328.7 Z" fill="#f2f8fc" stroke-width="2.38" opacity="1"/><path d="M1060.1 315.0 Q1061.1 313.9 1062.1 315.0 L1075.6 329.9 Q1076.6 331.0 1077.1 332.3 L1084.5 351.9 Q1085.0 353.3 1083.6 353.7 L1062.5 359.4 Q1061.1 359.8 1059.7 359.4 L1038.9 353.7 Q1037.5 353.3 1038.0 351.9 L1045.3 332.3 Q1045.8 331.0 1046.8 329.9 Z" fill="none" stroke-width="0.85" opacity="1"/><path d="M1060.2 317.3 Q1061.1 316.4 1062.0 317.3 L1074.3 330.9 Q1075.2 331.9 1075.7 333.2 L1082.5 351.0 Q1082.9 352.3 1081.7 352.6 L1062.4 357.9 Q1061.1 358.2 1059.8 357.9 L1040.9 352.6 Q1039.6 352.3 1040.1 351.0 L1046.7 333.2 Q1047.2 331.9 1048.0 330.9 Z" fill="none" stroke-width="0.67" opacity="0.9"/><path d="M1061.1 332.1 L1061.1 314.8" stroke-width="0.85" opacity="0.9"/><path d="M1069.9 346.0 L1084.3 352.9" stroke-width="0.85" opacity="0.9"/><path d="M1052.4 346.0 L1038.3 352.9" stroke-width="0.85" opacity="0.9"/><ellipse cx="1066.3" cy="328.8" rx="5.4" ry="2.3" transform="rotate(48 1066.3 328.8)" fill="#fff" stroke-width="0.8"/><ellipse cx="1074.8" cy="342.0" rx="5.4" ry="2.3" transform="rotate(69 1074.8 342.0)" fill="#fff" stroke-width="0.8"/><ellipse cx="1069.6" cy="352.2" rx="5.4" ry="2.3" transform="rotate(165 1069.6 352.2)" fill="#fff" stroke-width="0.8"/><ellipse cx="1052.7" cy="352.3" rx="5.4" ry="2.3" transform="rotate(-165 1052.7 352.3)" fill="#fff" stroke-width="0.8"/><ellipse cx="1047.5" cy="342.0" rx="5.4" ry="2.3" transform="rotate(-70 1047.5 342.0)" fill="#fff" stroke-width="0.8"/><ellipse cx="1055.9" cy="328.7" rx="5.4" ry="2.3" transform="rotate(-48 1055.9 328.7)" fill="#fff" stroke-width="0.8"/><circle cx="1061.1" cy="341.8" r="9.4" fill="#fff" stroke-width="0.8" opacity="1"/><circle cx="1061.1" cy="341.8" r="7.5" fill="none" stroke-width="1.32" opacity="1"/><circle cx="1061.1" cy="331.1" r="1.7" fill="#1a70b0" stroke="none" opacity="0.9"/><circle cx="1051.5" cy="346.5" r="1.7" fill="#1a70b0" stroke="none" opacity="0.9"/></g>
<g fill="none" stroke="#1a70b0" stroke-linejoin="round" stroke-linecap="round"><path d="M643.7 402.6 Q644.0 401.0 645.6 401.0 L689.4 401.4 Q691.0 401.4 690.7 403.0 L683.6 444.4 Q683.3 446.0 681.7 446.0 L638.1 445.6 Q636.5 445.6 636.8 444.1 Z" fill="#fff" stroke-width="2.50" opacity="1"/><path d="M645.1 404.0 Q645.4 402.6 646.8 402.6 L687.6 402.9 Q689.1 402.9 688.8 404.4 L682.2 443.0 Q682.0 444.4 680.5 444.4 L639.9 444.1 Q638.4 444.1 638.7 442.6 Z" fill="none" stroke-width="1.34" opacity="0.75"/><path d="M646.7 405.7 Q646.9 404.4 648.3 404.4 L685.5 404.7 Q686.9 404.7 686.7 406.0 L680.6 441.3 Q680.4 442.7 679.0 442.6 L641.9 442.3 Q640.6 442.3 640.8 441.0 Z" fill="none" stroke-width="0.73" opacity="1"/><circle cx="653.1" cy="403.5" r="0.8" fill="none" stroke-width="0.6"/><circle cx="658.7" cy="403.6" r="0.8" fill="none" stroke-width="0.6"/><circle cx="664.3" cy="403.6" r="0.8" fill="none" stroke-width="0.6"/><circle cx="669.9" cy="403.7" r="0.8" fill="none" stroke-width="0.6"/><circle cx="675.4" cy="403.7" r="0.8" fill="none" stroke-width="0.6"/><circle cx="681.0" cy="403.8" r="0.8" fill="none" stroke-width="0.6"/><circle cx="686.9" cy="410.4" r="0.8" fill="none" stroke-width="0.6"/><circle cx="685.9" cy="415.7" r="0.8" fill="none" stroke-width="0.6"/><circle cx="685.0" cy="421.0" r="0.8" fill="none" stroke-width="0.6"/><circle cx="684.1" cy="426.3" r="0.8" fill="none" stroke-width="0.6"/><circle cx="683.2" cy="431.6" r="0.8" fill="none" stroke-width="0.6"/><circle cx="682.3" cy="436.9" r="0.8" fill="none" stroke-width="0.6"/><circle cx="674.2" cy="443.5" r="0.8" fill="none" stroke-width="0.6"/><circle cx="668.7" cy="443.4" r="0.8" fill="none" stroke-width="0.6"/><circle cx="663.1" cy="443.4" r="0.8" fill="none" stroke-width="0.6"/><circle cx="657.6" cy="443.4" r="0.8" fill="none" stroke-width="0.6"/><circle cx="652.0" cy="443.3" r="0.8" fill="none" stroke-width="0.6"/><circle cx="646.4" cy="443.3" r="0.8" fill="none" stroke-width="0.6"/><circle cx="640.6" cy="436.6" r="0.8" fill="none" stroke-width="0.6"/><circle cx="641.5" cy="431.3" r="0.8" fill="none" stroke-width="0.6"/><circle cx="642.4" cy="426.0" r="0.8" fill="none" stroke-width="0.6"/><circle cx="643.3" cy="420.7" r="0.8" fill="none" stroke-width="0.6"/><circle cx="644.1" cy="415.4" r="0.8" fill="none" stroke-width="0.6"/><circle cx="645.0" cy="410.1" r="0.8" fill="none" stroke-width="0.6"/><circle cx="674.8" cy="427.0" r="1.2" fill="#fff" stroke-width="0.7"/><circle cx="670.0" cy="433.3" r="1.2" fill="#fff" stroke-width="0.7"/><circle cx="662.2" cy="435.1" r="1.2" fill="#fff" stroke-width="0.7"/><circle cx="655.2" cy="431.5" r="1.2" fill="#fff" stroke-width="0.7"/><circle cx="652.1" cy="424.2" r="1.2" fill="#fff" stroke-width="0.7"/><circle cx="654.5" cy="416.6" r="1.2" fill="#fff" stroke-width="0.7"/><circle cx="661.1" cy="412.3" r="1.2" fill="#fff" stroke-width="0.7"/><circle cx="669.0" cy="413.3" r="1.2" fill="#fff" stroke-width="0.7"/><circle cx="674.4" cy="419.1" r="1.2" fill="#fff" stroke-width="0.7"/><circle cx="663.7" cy="423.6" r="10.7" fill="#fff" stroke-width="0.8" opacity="1"/><circle cx="663.7" cy="423.6" r="8.8" fill="none" stroke-width="1.32" opacity="1"/></g>
<g fill="none" stroke="#1a70b0" stroke-linejoin="round" stroke-linecap="round"><path d="M734.1 408.8 Q735.0 407.5 736.6 407.5 L774.1 408.1 Q775.7 408.1 774.8 409.4 L753.3 439.8 Q752.4 441.1 750.8 441.1 L714.0 440.5 Q712.4 440.5 713.3 439.2 Z" fill="#fff" stroke-width="2.50" opacity="1"/><path d="M734.8 409.9 Q735.7 408.7 737.1 408.7 L772.0 409.2 Q773.5 409.2 772.7 410.4 L752.7 438.7 Q751.8 439.9 750.3 439.9 L716.1 439.4 Q714.6 439.4 715.5 438.1 Z" fill="none" stroke-width="1.34" opacity="0.75"/><path d="M735.6 411.1 Q736.4 410.0 737.8 410.0 L769.7 410.5 Q771.0 410.5 770.2 411.6 L751.9 437.5 Q751.2 438.6 749.8 438.6 L718.5 438.1 Q717.2 438.1 717.9 436.9 Z" fill="none" stroke-width="0.73" opacity="1"/><circle cx="742.1" cy="409.4" r="0.8" fill="none" stroke-width="0.6"/><circle cx="746.9" cy="409.5" r="0.8" fill="none" stroke-width="0.6"/><circle cx="751.7" cy="409.6" r="0.8" fill="none" stroke-width="0.6"/><circle cx="756.6" cy="409.7" r="0.8" fill="none" stroke-width="0.6"/><circle cx="761.4" cy="409.7" r="0.8" fill="none" stroke-width="0.6"/><circle cx="766.2" cy="409.8" r="0.8" fill="none" stroke-width="0.6"/><circle cx="768.8" cy="414.8" r="0.8" fill="none" stroke-width="0.6"/><circle cx="766.0" cy="418.7" r="0.8" fill="none" stroke-width="0.6"/><circle cx="763.3" cy="422.6" r="0.8" fill="none" stroke-width="0.6"/><circle cx="760.5" cy="426.5" r="0.8" fill="none" stroke-width="0.6"/><circle cx="757.7" cy="430.4" r="0.8" fill="none" stroke-width="0.6"/><circle cx="754.9" cy="434.4" r="0.8" fill="none" stroke-width="0.6"/><circle cx="745.5" cy="439.2" r="0.8" fill="none" stroke-width="0.6"/><circle cx="740.8" cy="439.1" r="0.8" fill="none" stroke-width="0.6"/><circle cx="736.1" cy="439.0" r="0.8" fill="none" stroke-width="0.6"/><circle cx="731.3" cy="438.9" r="0.8" fill="none" stroke-width="0.6"/><circle cx="726.6" cy="438.9" r="0.8" fill="none" stroke-width="0.6"/><circle cx="721.8" cy="438.8" r="0.8" fill="none" stroke-width="0.6"/><circle cx="719.2" cy="433.8" r="0.8" fill="none" stroke-width="0.6"/><circle cx="721.9" cy="429.9" r="0.8" fill="none" stroke-width="0.6"/><circle cx="724.6" cy="426.0" r="0.8" fill="none" stroke-width="0.6"/><circle cx="727.3" cy="422.1" r="0.8" fill="none" stroke-width="0.6"/><circle cx="730.0" cy="418.2" r="0.8" fill="none" stroke-width="0.6"/><circle cx="732.7" cy="414.2" r="0.8" fill="none" stroke-width="0.6"/><circle cx="753.5" cy="427.1" r="1.2" fill="#fff" stroke-width="0.7"/><circle cx="749.5" cy="432.3" r="1.2" fill="#fff" stroke-width="0.7"/><circle cx="743.2" cy="433.7" r="1.2" fill="#fff" stroke-width="0.7"/><circle cx="737.4" cy="430.8" r="1.2" fill="#fff" stroke-width="0.7"/><circle cx="734.9" cy="424.8" r="1.2" fill="#fff" stroke-width="0.7"/><circle cx="736.8" cy="418.6" r="1.2" fill="#fff" stroke-width="0.7"/><circle cx="742.3" cy="415.0" r="1.2" fill="#fff" stroke-width="0.7"/><circle cx="748.7" cy="415.8" r="1.2" fill="#fff" stroke-width="0.7"/><circle cx="753.2" cy="420.6" r="1.2" fill="#fff" stroke-width="0.7"/><circle cx="744.4" cy="424.3" r="8.6" fill="#fff" stroke-width="0.8" opacity="1"/><circle cx="744.4" cy="424.3" r="6.7" fill="none" stroke-width="1.32" opacity="1"/></g>
<g fill="none" stroke="#1a70b0" stroke-linejoin="round" stroke-linecap="round"><path d="M902.4 400.4 Q903.2 399.0 904.0 400.3 L929.8 444.8 Q930.6 446.2 929.0 446.2 L877.5 446.2 Q875.9 446.2 876.7 444.8 Z" fill="#fff" stroke-width="2.50" opacity="1"/><path d="M902.5 402.4 Q903.2 401.2 903.9 402.4 L927.9 443.8 Q928.7 445.1 927.2 445.1 L879.3 445.1 Q877.8 445.1 878.6 443.8 Z" fill="none" stroke-width="1.34" opacity="0.75"/><path d="M902.5 404.8 Q903.2 403.7 903.9 404.8 L925.8 442.6 Q926.5 443.8 925.1 443.8 L881.4 443.8 Q880.0 443.8 880.7 442.6 Z" fill="none" stroke-width="0.73" opacity="1"/><circle cx="907.3" cy="409.4" r="0.8" fill="none" stroke-width="0.6"/><circle cx="910.5" cy="415.0" r="0.8" fill="none" stroke-width="0.6"/><circle cx="913.8" cy="420.6" r="0.8" fill="none" stroke-width="0.6"/><circle cx="917.0" cy="426.2" r="0.8" fill="none" stroke-width="0.6"/><circle cx="920.3" cy="431.8" r="0.8" fill="none" stroke-width="0.6"/><circle cx="923.5" cy="437.4" r="0.8" fill="none" stroke-width="0.6"/><circle cx="919.5" cy="444.4" r="0.8" fill="none" stroke-width="0.6"/><circle cx="913.0" cy="444.4" r="0.8" fill="none" stroke-width="0.6"/><circle cx="906.5" cy="444.4" r="0.8" fill="none" stroke-width="0.6"/><circle cx="900.0" cy="444.4" r="0.8" fill="none" stroke-width="0.6"/><circle cx="893.5" cy="444.4" r="0.8" fill="none" stroke-width="0.6"/><circle cx="887.0" cy="444.4" r="0.8" fill="none" stroke-width="0.6"/><circle cx="883.0" cy="437.4" r="0.8" fill="none" stroke-width="0.6"/><circle cx="886.2" cy="431.8" r="0.8" fill="none" stroke-width="0.6"/><circle cx="889.4" cy="426.2" r="0.8" fill="none" stroke-width="0.6"/><circle cx="892.7" cy="420.6" r="0.8" fill="none" stroke-width="0.6"/><circle cx="895.9" cy="415.0" r="0.8" fill="none" stroke-width="0.6"/><circle cx="899.2" cy="409.4" r="0.8" fill="none" stroke-width="0.6"/><circle cx="912.0" cy="433.0" r="1.2" fill="#fff" stroke-width="0.7"/><circle cx="908.2" cy="438.1" r="1.2" fill="#fff" stroke-width="0.7"/><circle cx="902.0" cy="439.5" r="1.2" fill="#fff" stroke-width="0.7"/><circle cx="896.4" cy="436.6" r="1.2" fill="#fff" stroke-width="0.7"/><circle cx="894.0" cy="430.8" r="1.2" fill="#fff" stroke-width="0.7"/><circle cx="895.8" cy="424.7" r="1.2" fill="#fff" stroke-width="0.7"/><circle cx="901.1" cy="421.3" r="1.2" fill="#fff" stroke-width="0.7"/><circle cx="907.4" cy="422.1" r="1.2" fill="#fff" stroke-width="0.7"/><circle cx="911.7" cy="426.7" r="1.2" fill="#fff" stroke-width="0.7"/><circle cx="903.2" cy="430.3" r="8.4" fill="#fff" stroke-width="0.8" opacity="1"/><circle cx="903.2" cy="430.3" r="6.5" fill="none" stroke-width="1.32" opacity="1"/></g>
<g fill="none" stroke="#1a70b0" stroke-linejoin="round" stroke-linecap="round"><path d="M1058.8 399.9 Q1059.9 398.7 1061.0 399.9 L1075.6 415.8 Q1076.6 417.0 1077.2 418.5 L1085.2 439.4 Q1085.8 440.9 1084.3 441.3 L1061.4 447.5 Q1059.9 447.9 1058.4 447.5 L1035.9 441.3 Q1034.4 440.9 1035.0 439.4 L1042.8 418.5 Q1043.4 417.0 1044.4 415.8 Z" fill="#fff" stroke-width="2.50" opacity="1"/><path d="M1058.9 401.9 Q1059.9 400.8 1060.9 401.9 L1074.5 416.7 Q1075.5 417.8 1076.0 419.2 L1083.5 438.6 Q1084.0 440.0 1082.6 440.4 L1061.3 446.1 Q1059.9 446.5 1058.5 446.1 L1037.6 440.4 Q1036.2 440.0 1036.7 438.6 L1044.0 419.2 Q1044.5 417.8 1045.5 416.7 Z" fill="none" stroke-width="1.34" opacity="0.75"/><path d="M1059.0 404.2 Q1059.9 403.2 1060.8 404.2 L1073.2 417.7 Q1074.1 418.7 1074.6 420.0 L1081.4 437.8 Q1081.9 439.1 1080.6 439.4 L1061.2 444.6 Q1059.9 445.0 1058.6 444.6 L1039.5 439.4 Q1038.2 439.1 1038.7 437.8 L1045.4 420.0 Q1045.8 418.7 1046.7 417.7 Z" fill="none" stroke-width="0.73" opacity="1"/><circle cx="1062.4" cy="404.7" r="0.8" fill="none" stroke-width="0.6"/><circle cx="1064.4" cy="406.9" r="0.8" fill="none" stroke-width="0.6"/><circle cx="1066.4" cy="409.0" r="0.8" fill="none" stroke-width="0.6"/><circle cx="1068.3" cy="411.2" r="0.8" fill="none" stroke-width="0.6"/><circle cx="1070.3" cy="413.4" r="0.8" fill="none" stroke-width="0.6"/><circle cx="1072.3" cy="415.6" r="0.8" fill="none" stroke-width="0.6"/><circle cx="1076.2" cy="421.8" r="0.8" fill="none" stroke-width="0.6"/><circle cx="1077.2" cy="424.7" r="0.8" fill="none" stroke-width="0.6"/><circle cx="1078.3" cy="427.5" r="0.8" fill="none" stroke-width="0.6"/><circle cx="1079.4" cy="430.3" r="0.8" fill="none" stroke-width="0.6"/><circle cx="1080.5" cy="433.2" r="0.8" fill="none" stroke-width="0.6"/><circle cx="1081.6" cy="436.0" r="0.8" fill="none" stroke-width="0.6"/><circle cx="1079.1" cy="440.6" r="0.8" fill="none" stroke-width="0.6"/><circle cx="1076.0" cy="441.4" r="0.8" fill="none" stroke-width="0.6"/><circle cx="1073.0" cy="442.2" r="0.8" fill="none" stroke-width="0.6"/><circle cx="1069.9" cy="443.1" r="0.8" fill="none" stroke-width="0.6"/><circle cx="1066.8" cy="443.9" r="0.8" fill="none" stroke-width="0.6"/><circle cx="1063.7" cy="444.7" r="0.8" fill="none" stroke-width="0.6"/><circle cx="1056.1" cy="444.7" r="0.8" fill="none" stroke-width="0.6"/><circle cx="1053.1" cy="443.9" r="0.8" fill="none" stroke-width="0.6"/><circle cx="1050.1" cy="443.1" r="0.8" fill="none" stroke-width="0.6"/><circle cx="1047.0" cy="442.2" r="0.8" fill="none" stroke-width="0.6"/><circle cx="1044.0" cy="441.4" r="0.8" fill="none" stroke-width="0.6"/><circle cx="1041.0" cy="440.6" r="0.8" fill="none" stroke-width="0.6"/><circle cx="1038.5" cy="436.0" r="0.8" fill="none" stroke-width="0.6"/><circle cx="1039.6" cy="433.2" r="0.8" fill="none" stroke-width="0.6"/><circle cx="1040.7" cy="430.3" r="0.8" fill="none" stroke-width="0.6"/><circle cx="1041.7" cy="427.5" r="0.8" fill="none" stroke-width="0.6"/><circle cx="1042.8" cy="424.7" r="0.8" fill="none" stroke-width="0.6"/><circle cx="1043.8" cy="421.8" r="0.8" fill="none" stroke-width="0.6"/><circle cx="1047.6" cy="415.6" r="0.8" fill="none" stroke-width="0.6"/><circle cx="1049.6" cy="413.4" r="0.8" fill="none" stroke-width="0.6"/><circle cx="1051.6" cy="411.2" r="0.8" fill="none" stroke-width="0.6"/><circle cx="1053.5" cy="409.0" r="0.8" fill="none" stroke-width="0.6"/><circle cx="1055.5" cy="406.9" r="0.8" fill="none" stroke-width="0.6"/><circle cx="1057.4" cy="404.7" r="0.8" fill="none" stroke-width="0.6"/><circle cx="1069.6" cy="431.6" r="1.2" fill="#fff" stroke-width="0.7"/><circle cx="1065.4" cy="437.2" r="1.2" fill="#fff" stroke-width="0.7"/><circle cx="1058.6" cy="438.7" r="1.2" fill="#fff" stroke-width="0.7"/><circle cx="1052.4" cy="435.5" r="1.2" fill="#fff" stroke-width="0.7"/><circle cx="1049.7" cy="429.1" r="1.2" fill="#fff" stroke-width="0.7"/><circle cx="1051.8" cy="422.4" r="1.2" fill="#fff" stroke-width="0.7"/><circle cx="1057.6" cy="418.7" r="1.2" fill="#fff" stroke-width="0.7"/><circle cx="1064.6" cy="419.5" r="1.2" fill="#fff" stroke-width="0.7"/><circle cx="1069.3" cy="424.7" r="1.2" fill="#fff" stroke-width="0.7"/><circle cx="1059.9" cy="428.6" r="9.3" fill="#fff" stroke-width="0.8" opacity="1"/><circle cx="1059.9" cy="428.6" r="7.4" fill="none" stroke-width="1.32" opacity="1"/></g>
<g fill="none" stroke="#1a70b0" stroke-linejoin="round" stroke-linecap="round"><path d="M644.3 489.4 Q644.6 487.8 646.2 487.8 L691.2 488.2 Q692.8 488.2 692.5 489.8 L685.2 533.2 Q684.9 534.8 683.3 534.8 L638.5 534.4 Q636.9 534.4 637.2 532.8 Z" fill="#fff" stroke-width="2.50" opacity="1"/><path d="M645.9 491.1 Q646.2 489.7 647.6 489.7 L689.1 490.0 Q690.6 490.1 690.3 491.5 L683.6 531.5 Q683.3 532.9 681.9 532.9 L640.6 532.6 Q639.1 532.6 639.4 531.1 Z" fill="none" stroke-width="0.85" opacity="1"/><path d="M647.0 490.6 Q668.1 491.3 689.4 491.0 Q685.5 511.5 682.5 532.0 Q661.5 531.4 640.2 531.6 Q644.1 511.1 647.0 490.6 Z" fill="none" stroke-width="0.73" opacity="1"/><path d="M656.7 502.0 Q653.5 494.9 647.0 490.6 Q650.2 497.7 656.7 502.0Z" fill="#fff" stroke-width="0.8"/><path d="M674.3 503.5 Q683.3 498.9 689.4 491.0 Q680.5 495.6 674.3 503.5Z" fill="#fff" stroke-width="0.8"/><path d="M672.9 520.8 Q676.0 527.8 682.5 532.0 Q679.4 525.0 672.9 520.8Z" fill="#fff" stroke-width="0.8"/><path d="M655.2 519.3 Q646.3 523.8 640.2 531.6 Q649.1 527.2 655.2 519.3Z" fill="#fff" stroke-width="0.8"/><path d="M660.2 492.6 L660.7 493.6 L661.3 494.3 L661.8 494.5 L662.4 494.1 L662.9 493.3 L663.5 492.2 L664.1 491.3 L664.6 490.8 L665.2 490.9 L665.7 491.5 L666.3 492.5 L666.8 493.5 L667.3 494.3 L667.9 494.6 L668.4 494.3 L669.0 493.5 L669.6 492.5 L670.1 491.5 L670.7 490.9 L671.2 490.9 L671.8 491.4 L672.3 492.3 L672.9 493.3 L673.4 494.2 L674.0 494.6 L674.5 494.4 L675.1 493.8 L675.6 492.7 " stroke-width="0.8"/><path d="M660.2 493.9 L660.7 494.9 L661.3 495.6 L661.8 495.8 L662.4 495.4 L662.9 494.6 L663.5 493.5 L664.0 492.6 L664.6 492.1 L665.2 492.2 L665.7 492.8 L666.2 493.8 L666.8 494.8 L667.3 495.6 L667.9 495.9 L668.4 495.6 L669.0 494.8 L669.6 493.8 L670.1 492.8 L670.7 492.2 L671.2 492.2 L671.8 492.7 L672.3 493.6 L672.9 494.6 L673.4 495.5 L673.9 495.9 L674.5 495.7 L675.1 495.1 L675.6 494.0 " stroke-width="0.8"/><path d="M685.3 504.0 L684.2 504.4 L683.5 504.8 L683.2 505.3 L683.5 505.9 L684.3 506.6 L685.2 507.3 L686.0 508.0 L686.4 508.6 L686.3 509.1 L685.6 509.5 L684.5 509.9 L683.4 510.3 L682.6 510.7 L682.2 511.2 L682.4 511.7 L683.1 512.4 L684.0 513.1 L684.9 513.8 L685.4 514.4 L685.3 515.0 L684.8 515.4 L683.8 515.8 L682.6 516.2 L681.7 516.6 L681.2 517.0 L681.3 517.6 L681.9 518.2 L682.8 518.9 " stroke-width="0.8"/><path d="M684.0 503.8 L683.0 504.2 L682.2 504.6 L681.9 505.1 L682.2 505.7 L683.0 506.4 L683.9 507.1 L684.7 507.8 L685.1 508.4 L685.0 508.9 L684.3 509.3 L683.3 509.7 L682.1 510.1 L681.3 510.5 L680.9 510.9 L681.1 511.5 L681.8 512.2 L682.7 512.9 L683.6 513.6 L684.1 514.2 L684.1 514.8 L683.5 515.2 L682.5 515.6 L681.3 516.0 L680.4 516.3 L679.9 516.8 L680.0 517.4 L680.6 518.0 L681.5 518.7 " stroke-width="0.8"/><path d="M669.4 530.0 L668.8 529.0 L668.3 528.3 L667.7 528.1 L667.2 528.5 L666.6 529.4 L666.1 530.4 L665.5 531.3 L665.0 531.8 L664.4 531.8 L663.9 531.2 L663.3 530.2 L662.8 529.1 L662.3 528.4 L661.7 528.1 L661.2 528.3 L660.6 529.1 L660.0 530.2 L659.5 531.1 L658.9 531.7 L658.4 531.8 L657.8 531.3 L657.3 530.3 L656.8 529.3 L656.2 528.4 L655.7 528.0 L655.1 528.2 L654.6 528.9 L654.0 529.9 " stroke-width="0.8"/><path d="M669.4 528.7 L668.9 527.7 L668.3 527.0 L667.8 526.8 L667.2 527.2 L666.7 528.1 L666.1 529.1 L665.5 530.0 L665.0 530.5 L664.4 530.5 L663.9 529.9 L663.3 528.9 L662.8 527.8 L662.3 527.1 L661.7 526.8 L661.2 527.0 L660.6 527.8 L660.1 528.9 L659.5 529.8 L658.9 530.4 L658.4 530.5 L657.8 530.0 L657.3 529.0 L656.8 528.0 L656.2 527.1 L655.7 526.7 L655.1 526.9 L654.6 527.6 L654.0 528.6 " stroke-width="0.8"/><path d="M644.3 518.6 L645.4 518.2 L646.2 517.8 L646.4 517.3 L646.1 516.7 L645.4 516.1 L644.4 515.3 L643.6 514.7 L643.2 514.1 L643.3 513.5 L644.0 513.1 L645.1 512.7 L646.2 512.4 L647.0 512.0 L647.4 511.5 L647.2 510.9 L646.5 510.2 L645.6 509.5 L644.7 508.8 L644.2 508.2 L644.2 507.7 L644.8 507.2 L645.8 506.8 L646.9 506.5 L647.9 506.1 L648.4 505.6 L648.3 505.0 L647.7 504.4 L646.8 503.7 " stroke-width="0.8"/><path d="M645.6 518.8 L646.7 518.5 L647.5 518.0 L647.7 517.5 L647.4 516.9 L646.7 516.3 L645.7 515.6 L644.9 514.9 L644.5 514.3 L644.6 513.7 L645.3 513.3 L646.3 512.9 L647.5 512.6 L648.3 512.2 L648.7 511.7 L648.5 511.1 L647.8 510.4 L646.9 509.7 L646.0 509.0 L645.5 508.4 L645.5 507.9 L646.1 507.4 L647.1 507.0 L648.2 506.7 L649.2 506.3 L649.6 505.8 L649.6 505.3 L649.0 504.6 L648.0 503.9 " stroke-width="0.8"/><circle cx="676.8" cy="515.1" r="1.3" fill="#fff" stroke-width="0.7"/><circle cx="670.7" cy="522.5" r="1.3" fill="#fff" stroke-width="0.7"/><circle cx="661.1" cy="523.4" r="1.3" fill="#fff" stroke-width="0.7"/><circle cx="653.7" cy="517.3" r="1.3" fill="#fff" stroke-width="0.7"/><circle cx="652.8" cy="507.7" r="1.3" fill="#fff" stroke-width="0.7"/><circle cx="658.9" cy="500.3" r="1.3" fill="#fff" stroke-width="0.7"/><circle cx="668.5" cy="499.4" r="1.3" fill="#fff" stroke-width="0.7"/><circle cx="675.9" cy="505.5" r="1.3" fill="#fff" stroke-width="0.7"/><circle cx="664.8" cy="511.4" r="11.5" fill="#fff" stroke-width="0.92" opacity="1"/><circle cx="664.8" cy="511.4" r="9.2" fill="none" stroke-width="1.32" opacity="1"/></g>
<g fill="none" stroke="#1a70b0" stroke-linejoin="round" stroke-linecap="round"><path d="M734.5 495.6 Q735.4 494.3 737.0 494.3 L775.7 494.9 Q777.3 494.9 776.4 496.3 L754.2 528.2 Q753.3 529.5 751.7 529.5 L713.7 528.9 Q712.1 528.9 713.0 527.5 Z" fill="#fff" stroke-width="2.50" opacity="1"/><path d="M735.4 496.9 Q736.2 495.7 737.7 495.7 L773.3 496.3 Q774.7 496.3 773.9 497.5 L753.5 526.9 Q752.6 528.1 751.2 528.1 L716.2 527.5 Q714.8 527.5 715.6 526.3 Z" fill="none" stroke-width="0.85" opacity="1"/><path d="M736.6 496.4 Q754.8 497.0 773.5 497.0 Q762.5 512.2 752.3 527.4 Q734.4 526.8 716.1 526.8 Q726.8 511.6 736.6 496.4 Z" fill="none" stroke-width="0.73" opacity="1"/><path d="M740.2 502.9 Q740.3 498.6 736.6 496.4 Q736.5 500.7 740.2 502.9Z" fill="#fff" stroke-width="0.8"/><path d="M754.1 507.1 Q764.8 504.0 773.5 497.0 Q762.8 500.1 754.1 507.1Z" fill="#fff" stroke-width="0.8"/><path d="M749.4 521.2 Q748.9 525.2 752.3 527.4 Q752.9 523.3 749.4 521.2Z" fill="#fff" stroke-width="0.8"/><path d="M736.0 516.6 Q725.0 519.7 716.1 526.8 Q727.1 523.7 736.0 516.6Z" fill="#fff" stroke-width="0.8"/><path d="M747.4 498.0 L747.9 499.0 L748.3 499.7 L748.8 499.9 L749.3 499.5 L749.8 498.6 L750.3 497.6 L750.8 496.7 L751.3 496.2 L751.8 496.2 L752.2 496.9 L752.7 497.8 L753.1 498.9 L753.6 499.7 L754.1 500.0 L754.6 499.7 L755.1 498.9 L755.6 497.9 L756.1 496.9 L756.5 496.3 L757.0 496.3 L757.5 496.8 L758.0 497.7 L758.4 498.8 L758.9 499.6 L759.4 500.0 L759.8 499.9 L760.3 499.2 L760.8 498.2 " stroke-width="0.8"/><path d="M747.4 499.3 L747.9 500.3 L748.3 501.0 L748.8 501.2 L749.3 500.8 L749.8 499.9 L750.3 498.9 L750.8 498.0 L751.3 497.5 L751.7 497.5 L752.2 498.2 L752.7 499.1 L753.1 500.2 L753.6 501.0 L754.1 501.3 L754.6 501.0 L755.0 500.2 L755.5 499.2 L756.0 498.2 L756.5 497.6 L757.0 497.6 L757.5 498.1 L757.9 499.0 L758.4 500.1 L758.9 500.9 L759.3 501.3 L759.8 501.2 L760.3 500.5 L760.8 499.5 " stroke-width="0.8"/><path d="M765.1 506.6 L764.0 506.4 L763.2 506.4 L762.7 506.7 L762.8 507.4 L763.2 508.2 L763.8 509.2 L764.3 510.2 L764.4 510.8 L764.1 511.2 L763.3 511.2 L762.3 511.1 L761.1 510.9 L760.2 510.8 L759.7 511.1 L759.7 511.6 L760.0 512.5 L760.6 513.5 L761.1 514.4 L761.4 515.1 L761.1 515.6 L760.4 515.7 L759.4 515.6 L758.3 515.3 L757.3 515.3 L756.7 515.4 L756.6 515.9 L756.9 516.7 L757.4 517.7 " stroke-width="0.8"/><path d="M764.0 505.9 L762.9 505.7 L762.1 505.7 L761.7 506.0 L761.7 506.6 L762.2 507.5 L762.7 508.5 L763.2 509.4 L763.4 510.1 L763.0 510.5 L762.3 510.5 L761.2 510.3 L760.1 510.1 L759.2 510.1 L758.6 510.3 L758.6 510.9 L759.0 511.7 L759.5 512.7 L760.1 513.7 L760.3 514.4 L760.1 514.8 L759.4 514.9 L758.3 514.8 L757.2 514.6 L756.2 514.5 L755.6 514.7 L755.5 515.2 L755.8 516.0 L756.4 516.9 " stroke-width="0.8"/><path d="M741.8 525.8 L741.3 524.8 L740.9 524.1 L740.4 523.9 L739.9 524.3 L739.4 525.2 L738.9 526.2 L738.5 527.1 L738.0 527.6 L737.5 527.6 L737.1 526.9 L736.6 526.0 L736.1 524.9 L735.7 524.1 L735.2 523.8 L734.7 524.1 L734.3 524.9 L733.8 525.9 L733.3 526.9 L732.8 527.5 L732.3 527.5 L731.9 527.0 L731.4 526.1 L731.0 525.0 L730.5 524.2 L730.0 523.8 L729.6 523.9 L729.1 524.6 L728.6 525.6 " stroke-width="0.8"/><path d="M741.8 524.5 L741.3 523.5 L740.9 522.8 L740.4 522.6 L739.9 523.0 L739.5 523.9 L739.0 524.9 L738.5 525.8 L738.0 526.3 L737.5 526.3 L737.1 525.6 L736.6 524.7 L736.2 523.6 L735.7 522.8 L735.2 522.5 L734.8 522.8 L734.3 523.6 L733.8 524.6 L733.3 525.6 L732.8 526.2 L732.4 526.2 L731.9 525.7 L731.4 524.8 L731.0 523.7 L730.5 522.9 L730.1 522.5 L729.6 522.6 L729.1 523.3 L728.6 524.3 " stroke-width="0.8"/><path d="M724.3 517.2 L725.4 517.3 L726.3 517.3 L726.7 517.0 L726.6 516.4 L726.2 515.6 L725.6 514.6 L725.1 513.7 L724.9 513.0 L725.2 512.6 L726.0 512.6 L727.1 512.7 L728.2 512.9 L729.1 512.9 L729.6 512.7 L729.6 512.2 L729.3 511.3 L728.7 510.3 L728.1 509.4 L727.9 508.7 L728.1 508.2 L728.8 508.1 L729.8 508.3 L731.0 508.4 L731.9 508.5 L732.5 508.4 L732.7 507.9 L732.3 507.1 L731.8 506.1 " stroke-width="0.8"/><path d="M725.4 517.9 L726.5 518.1 L727.3 518.1 L727.8 517.8 L727.7 517.2 L727.2 516.3 L726.6 515.3 L726.1 514.4 L726.0 513.7 L726.3 513.3 L727.1 513.3 L728.1 513.4 L729.3 513.6 L730.2 513.7 L730.7 513.4 L730.7 512.9 L730.3 512.0 L729.7 511.1 L729.2 510.1 L729.0 509.4 L729.2 509.0 L729.9 508.9 L730.9 509.0 L732.0 509.2 L733.0 509.3 L733.6 509.1 L733.7 508.6 L733.4 507.8 L732.8 506.8 " stroke-width="0.8"/><circle cx="755.1" cy="515.0" r="1.3" fill="#fff" stroke-width="0.7"/><circle cx="750.0" cy="521.1" r="1.3" fill="#fff" stroke-width="0.7"/><circle cx="742.0" cy="521.9" r="1.3" fill="#fff" stroke-width="0.7"/><circle cx="735.9" cy="516.8" r="1.3" fill="#fff" stroke-width="0.7"/><circle cx="735.1" cy="508.8" r="1.3" fill="#fff" stroke-width="0.7"/><circle cx="740.2" cy="502.7" r="1.3" fill="#fff" stroke-width="0.7"/><circle cx="748.2" cy="501.9" r="1.3" fill="#fff" stroke-width="0.7"/><circle cx="754.3" cy="507.0" r="1.3" fill="#fff" stroke-width="0.7"/><circle cx="745.1" cy="511.9" r="9.3" fill="#fff" stroke-width="0.92" opacity="1"/><circle cx="745.1" cy="511.9" r="7.0" fill="none" stroke-width="1.32" opacity="1"/></g>
<g fill="none" stroke="#1a70b0" stroke-linejoin="round" stroke-linecap="round"><path d="M803.2 490.2 Q803.2 488.6 804.8 488.6 L844.0 488.6 Q845.6 488.6 845.6 490.2 L845.6 530.0 Q845.6 531.6 844.0 531.6 L804.8 531.6 Q803.2 531.6 803.2 530.0 Z" fill="#fff" stroke-width="2.50" opacity="1"/><path d="M804.9 491.8 Q804.9 490.3 806.3 490.3 L842.4 490.3 Q843.9 490.3 843.9 491.8 L843.9 528.4 Q843.9 529.9 842.4 529.9 L806.3 529.9 Q804.9 529.9 804.9 528.4 Z" fill="none" stroke-width="0.85" opacity="1"/><path d="M805.7 491.2 Q824.4 491.6 843.0 491.2 Q842.6 510.1 843.0 529.0 Q824.4 528.6 805.7 529.0 Q806.1 510.1 805.7 491.2 Z" fill="none" stroke-width="0.73" opacity="1"/><path d="M816.4 502.0 Q812.6 495.0 805.7 491.2 Q809.5 498.1 816.4 502.0Z" fill="#fff" stroke-width="0.8"/><path d="M832.3 502.0 Q839.2 498.1 843.0 491.2 Q836.1 495.0 832.3 502.0Z" fill="#fff" stroke-width="0.8"/><path d="M832.2 518.0 Q836.1 525.1 843.0 529.0 Q839.2 522.0 832.2 518.0Z" fill="#fff" stroke-width="0.8"/><path d="M816.4 518.1 Q809.5 522.0 805.7 529.0 Q812.6 525.1 816.4 518.1Z" fill="#fff" stroke-width="0.8"/><path d="M817.6 492.9 L818.1 493.9 L818.6 494.6 L819.0 494.8 L819.5 494.4 L820.0 493.5 L820.5 492.5 L821.0 491.5 L821.5 491.0 L822.0 491.1 L822.4 491.7 L822.9 492.7 L823.4 493.7 L823.9 494.5 L824.4 494.8 L824.9 494.5 L825.3 493.7 L825.8 492.7 L826.3 491.7 L826.8 491.1 L827.3 491.0 L827.8 491.5 L828.3 492.5 L828.7 493.5 L829.2 494.4 L829.7 494.8 L830.2 494.6 L830.7 493.9 L831.2 492.9 " stroke-width="0.8"/><path d="M817.6 494.2 L818.1 495.2 L818.6 495.9 L819.0 496.1 L819.5 495.7 L820.0 494.8 L820.5 493.8 L821.0 492.8 L821.5 492.3 L822.0 492.4 L822.4 493.0 L822.9 494.0 L823.4 495.0 L823.9 495.8 L824.4 496.1 L824.9 495.8 L825.3 495.0 L825.8 494.0 L826.3 493.0 L826.8 492.4 L827.3 492.3 L827.8 492.8 L828.3 493.8 L828.7 494.8 L829.2 495.7 L829.7 496.1 L830.2 495.9 L830.7 495.2 L831.2 494.2 " stroke-width="0.8"/><path d="M841.3 503.2 L840.3 503.7 L839.6 504.2 L839.5 504.7 L839.9 505.2 L840.7 505.7 L841.8 506.1 L842.7 506.6 L843.2 507.1 L843.1 507.6 L842.5 508.1 L841.6 508.6 L840.5 509.1 L839.7 509.6 L839.4 510.1 L839.7 510.6 L840.5 511.1 L841.6 511.5 L842.5 512.0 L843.1 512.5 L843.2 513.0 L842.7 513.5 L841.8 514.0 L840.7 514.5 L839.9 515.0 L839.5 515.5 L839.6 516.0 L840.3 516.5 L841.3 517.0 " stroke-width="0.8"/><path d="M840.0 503.2 L839.0 503.7 L838.3 504.2 L838.2 504.7 L838.6 505.2 L839.4 505.7 L840.5 506.1 L841.4 506.6 L841.9 507.1 L841.8 507.6 L841.2 508.1 L840.3 508.6 L839.2 509.1 L838.4 509.6 L838.1 510.1 L838.4 510.6 L839.2 511.1 L840.3 511.5 L841.2 512.0 L841.8 512.5 L841.9 513.0 L841.4 513.5 L840.5 514.0 L839.4 514.5 L838.6 515.0 L838.2 515.5 L838.3 516.0 L839.0 516.5 L840.0 517.0 " stroke-width="0.8"/><path d="M831.2 527.3 L830.7 526.3 L830.2 525.6 L829.7 525.4 L829.2 525.8 L828.7 526.6 L828.3 527.7 L827.8 528.6 L827.3 529.1 L826.8 529.1 L826.3 528.5 L825.8 527.5 L825.3 526.4 L824.9 525.7 L824.4 525.4 L823.9 525.7 L823.4 526.4 L822.9 527.5 L822.4 528.5 L822.0 529.1 L821.5 529.1 L821.0 528.6 L820.5 527.7 L820.0 526.6 L819.5 525.8 L819.0 525.4 L818.6 525.6 L818.1 526.3 L817.6 527.3 " stroke-width="0.8"/><path d="M831.2 526.0 L830.7 525.0 L830.2 524.3 L829.7 524.1 L829.2 524.5 L828.7 525.3 L828.3 526.4 L827.8 527.3 L827.3 527.8 L826.8 527.8 L826.3 527.2 L825.8 526.2 L825.3 525.1 L824.9 524.4 L824.4 524.1 L823.9 524.4 L823.4 525.1 L822.9 526.2 L822.4 527.2 L822.0 527.8 L821.5 527.8 L821.0 527.3 L820.5 526.4 L820.0 525.3 L819.5 524.5 L819.0 524.1 L818.6 524.3 L818.1 525.0 L817.6 526.0 " stroke-width="0.8"/><path d="M807.4 517.0 L808.4 516.5 L809.1 516.0 L809.3 515.5 L808.9 515.0 L808.0 514.5 L807.0 514.0 L806.1 513.5 L805.6 513.0 L805.6 512.5 L806.2 512.0 L807.2 511.5 L808.2 511.1 L809.0 510.6 L809.3 510.1 L809.0 509.6 L808.2 509.1 L807.2 508.6 L806.2 508.1 L805.6 507.6 L805.6 507.1 L806.1 506.6 L807.0 506.1 L808.0 505.7 L808.9 505.2 L809.3 504.7 L809.1 504.2 L808.4 503.7 L807.4 503.2 " stroke-width="0.8"/><path d="M808.7 517.0 L809.7 516.5 L810.4 516.0 L810.6 515.5 L810.2 515.0 L809.3 514.5 L808.3 514.0 L807.4 513.5 L806.9 513.0 L806.9 512.5 L807.5 512.0 L808.5 511.5 L809.5 511.1 L810.3 510.6 L810.6 510.1 L810.3 509.6 L809.5 509.1 L808.5 508.6 L807.5 508.1 L806.9 507.6 L806.9 507.1 L807.4 506.6 L808.3 506.1 L809.3 505.7 L810.2 505.2 L810.6 504.7 L810.4 504.2 L809.7 503.7 L808.7 503.2 " stroke-width="0.8"/><circle cx="835.3" cy="513.4" r="1.3" fill="#fff" stroke-width="0.7"/><circle cx="829.7" cy="520.2" r="1.3" fill="#fff" stroke-width="0.7"/><circle cx="820.9" cy="521.0" r="1.3" fill="#fff" stroke-width="0.7"/><circle cx="814.1" cy="515.4" r="1.3" fill="#fff" stroke-width="0.7"/><circle cx="813.3" cy="506.6" r="1.3" fill="#fff" stroke-width="0.7"/><circle cx="818.9" cy="499.8" r="1.3" fill="#fff" stroke-width="0.7"/><circle cx="827.7" cy="499.0" r="1.3" fill="#fff" stroke-width="0.7"/><circle cx="834.5" cy="504.6" r="1.3" fill="#fff" stroke-width="0.7"/><circle cx="824.3" cy="510.0" r="10.4" fill="#fff" stroke-width="0.92" opacity="1"/><circle cx="824.3" cy="510.0" r="8.1" fill="none" stroke-width="1.32" opacity="1"/></g>
<g fill="none" stroke="#1a70b0" stroke-linejoin="round" stroke-linecap="round"><path d="M903.4 486.9 Q904.2 485.5 905.0 486.9 L931.4 531.7 Q932.2 533.1 930.6 533.1 L877.9 533.1 Q876.3 533.1 877.1 531.7 Z" fill="#fff" stroke-width="2.50" opacity="1"/><path d="M903.5 489.3 Q904.2 488.0 904.9 489.3 L929.2 530.6 Q929.9 531.8 928.5 531.8 L880.0 531.8 Q878.5 531.8 879.3 530.5 Z" fill="none" stroke-width="0.85" opacity="1"/><path d="M904.2 489.3 Q916.2 510.4 928.8 531.2 Q904.2 530.9 879.7 531.2 Q892.2 510.4 904.2 489.3 Z" fill="none" stroke-width="0.73" opacity="1"/><path d="M904.2 507.3 Q906.4 498.3 904.2 489.3 Q902.0 498.3 904.2 507.3Z" fill="#fff" stroke-width="0.8"/><path d="M912.7 522.0 Q919.7 528.5 928.8 531.2 Q921.9 524.7 912.7 522.0Z" fill="#fff" stroke-width="0.8"/><path d="M895.7 522.0 Q886.6 524.7 879.7 531.2 Q888.8 528.5 895.7 522.0Z" fill="#fff" stroke-width="0.8"/><path d="M910.9 503.2 L910.4 504.3 L910.1 505.2 L910.2 505.8 L910.9 506.2 L912.0 506.3 L913.2 506.3 L914.3 506.4 L915.1 506.7 L915.3 507.2 L915.1 508.1 L914.6 509.1 L914.0 510.2 L913.7 511.1 L913.8 511.8 L914.3 512.2 L915.3 512.4 L916.5 512.4 L917.7 512.4 L918.5 512.7 L918.9 513.2 L918.8 514.0 L918.3 515.0 L917.7 516.1 L917.3 517.1 L917.3 517.8 L917.8 518.3 L918.7 518.4 L919.9 518.5 " stroke-width="0.8"/><path d="M909.8 503.9 L909.2 505.0 L909.0 505.9 L909.1 506.5 L909.8 506.8 L910.9 506.9 L912.1 507.0 L913.2 507.0 L914.0 507.3 L914.2 507.9 L914.0 508.7 L913.5 509.8 L912.9 510.8 L912.6 511.8 L912.6 512.5 L913.2 512.9 L914.2 513.0 L915.4 513.0 L916.6 513.1 L917.4 513.3 L917.8 513.8 L917.7 514.6 L917.2 515.7 L916.6 516.7 L916.2 517.7 L916.2 518.5 L916.6 518.9 L917.6 519.1 L918.8 519.1 " stroke-width="0.8"/><path d="M913.2 529.9 L912.5 528.9 L911.9 528.2 L911.3 528.0 L910.6 528.4 L910.0 529.3 L909.3 530.3 L908.7 531.2 L908.1 531.8 L907.4 531.7 L906.8 531.1 L906.2 530.1 L905.5 529.1 L904.9 528.3 L904.2 528.0 L903.6 528.3 L903.0 529.1 L902.3 530.1 L901.7 531.1 L901.0 531.7 L900.4 531.8 L899.8 531.2 L899.1 530.3 L898.5 529.3 L897.9 528.4 L897.2 528.0 L896.6 528.2 L895.9 528.9 L895.3 529.9 " stroke-width="0.8"/><path d="M913.2 528.6 L912.5 527.6 L911.9 526.9 L911.3 526.7 L910.6 527.1 L910.0 528.0 L909.3 529.0 L908.7 529.9 L908.1 530.5 L907.4 530.4 L906.8 529.8 L906.2 528.8 L905.5 527.8 L904.9 527.0 L904.2 526.7 L903.6 527.0 L903.0 527.8 L902.3 528.8 L901.7 529.8 L901.0 530.4 L900.4 530.5 L899.8 529.9 L899.1 529.0 L898.5 528.0 L897.9 527.1 L897.2 526.7 L896.6 526.9 L895.9 527.6 L895.3 528.6 " stroke-width="0.8"/><path d="M888.6 518.5 L889.8 518.4 L890.7 518.3 L891.2 517.8 L891.1 517.0 L890.7 516.1 L890.1 515.0 L889.7 514.0 L889.5 513.2 L889.9 512.7 L890.7 512.4 L891.9 512.4 L893.1 512.4 L894.1 512.2 L894.7 511.8 L894.8 511.1 L894.4 510.2 L893.8 509.1 L893.3 508.1 L893.1 507.2 L893.4 506.7 L894.1 506.4 L895.2 506.3 L896.5 506.3 L897.5 506.2 L898.2 505.8 L898.3 505.2 L898.1 504.3 L897.5 503.2 " stroke-width="0.8"/><path d="M889.7 519.1 L890.9 519.1 L891.8 518.9 L892.3 518.5 L892.3 517.7 L891.8 516.7 L891.3 515.7 L890.8 514.6 L890.7 513.8 L891.0 513.3 L891.9 513.1 L893.0 513.0 L894.2 513.0 L895.2 512.9 L895.8 512.5 L895.9 511.8 L895.5 510.8 L894.9 509.8 L894.4 508.7 L894.2 507.9 L894.5 507.3 L895.2 507.0 L896.4 506.9 L897.6 506.9 L898.6 506.8 L899.3 506.5 L899.5 505.9 L899.2 505.0 L898.6 503.9 " stroke-width="0.8"/><circle cx="913.8" cy="520.1" r="1.3" fill="#fff" stroke-width="0.7"/><circle cx="908.9" cy="525.9" r="1.3" fill="#fff" stroke-width="0.7"/><circle cx="901.2" cy="526.7" r="1.3" fill="#fff" stroke-width="0.7"/><circle cx="895.4" cy="521.8" r="1.3" fill="#fff" stroke-width="0.7"/><circle cx="894.6" cy="514.1" r="1.3" fill="#fff" stroke-width="0.7"/><circle cx="899.5" cy="508.3" r="1.3" fill="#fff" stroke-width="0.7"/><circle cx="907.2" cy="507.5" r="1.3" fill="#fff" stroke-width="0.7"/><circle cx="913.0" cy="512.4" r="1.3" fill="#fff" stroke-width="0.7"/><circle cx="904.2" cy="517.1" r="8.9" fill="#fff" stroke-width="0.92" opacity="1"/><circle cx="904.2" cy="517.1" r="6.6" fill="none" stroke-width="1.32" opacity="1"/></g>
<g fill="none" stroke="#1a70b0" stroke-linejoin="round" stroke-linecap="round"><path d="M977.5 500.1 Q978.8 499.2 980.4 499.2 L1017.5 499.5 Q1019.1 499.5 1017.8 500.5 L988.7 521.1 Q987.4 522.1 985.8 522.0 L948.0 520.9 Q946.4 520.9 947.7 520.0 Z" fill="#fff" stroke-width="2.50" opacity="1"/><path d="M977.9 500.9 Q979.1 500.1 980.6 500.1 L1014.6 500.4 Q1016.1 500.4 1014.9 501.3 L988.2 520.3 Q987.0 521.1 985.5 521.1 L950.7 520.1 Q949.3 520.0 950.5 519.2 Z" fill="none" stroke-width="0.85" opacity="1"/><path d="M979.2 500.5 Q996.6 500.9 1014.6 500.8 Q1000.3 510.7 986.7 520.7 Q969.0 519.9 950.7 519.6 Q965.3 510.1 979.2 500.5 Z" fill="none" stroke-width="0.73" opacity="1"/><path d="M980.0 503.3 Q981.3 501.4 979.2 500.5 Q977.9 502.4 980.0 503.3Z" fill="#fff" stroke-width="0.8"/><path d="M989.1 508.2 Q1002.4 506.2 1014.6 500.8 Q1001.4 502.8 989.1 508.2Z" fill="#fff" stroke-width="0.8"/><path d="M985.1 517.0 Q984.3 519.6 986.7 520.7 Q987.5 518.1 985.1 517.0Z" fill="#fff" stroke-width="0.8"/><path d="M975.1 512.4 Q962.4 514.3 950.7 519.6 Q963.4 517.7 975.1 512.4Z" fill="#fff" stroke-width="0.8"/><path d="M989.1 501.5 L989.6 502.3 L990.0 502.9 L990.5 503.0 L991.0 502.7 L991.4 502.0 L991.9 501.2 L992.4 500.4 L992.8 500.0 L993.3 500.1 L993.7 500.6 L994.2 501.4 L994.6 502.2 L995.1 502.8 L995.6 503.1 L996.0 502.8 L996.5 502.2 L997.0 501.4 L997.4 500.6 L997.9 500.1 L998.3 500.1 L998.8 500.5 L999.3 501.2 L999.7 502.1 L1000.2 502.8 L1000.6 503.1 L1001.1 503.0 L1001.5 502.4 L1002.0 501.6 " stroke-width="0.8"/><path d="M989.1 502.8 L989.6 503.6 L990.0 504.2 L990.5 504.3 L991.0 504.0 L991.4 503.3 L991.9 502.5 L992.4 501.7 L992.8 501.3 L993.3 501.4 L993.7 501.9 L994.2 502.7 L994.6 503.5 L995.1 504.1 L995.5 504.4 L996.0 504.1 L996.5 503.5 L996.9 502.7 L997.4 501.9 L997.9 501.4 L998.3 501.4 L998.8 501.8 L999.2 502.5 L999.7 503.4 L1000.1 504.1 L1000.6 504.4 L1001.1 504.3 L1001.5 503.7 L1002.0 502.9 " stroke-width="0.8"/><path d="M1004.1 507.1 L1003.2 506.7 L1002.5 506.5 L1002.1 506.6 L1001.9 507.2 L1002.0 508.0 L1002.1 508.9 L1002.2 509.8 L1002.0 510.4 L1001.6 510.6 L1001.0 510.4 L1000.2 510.1 L999.3 509.7 L998.6 509.4 L998.1 509.5 L997.9 509.9 L997.9 510.7 L998.0 511.6 L998.1 512.5 L998.0 513.2 L997.7 513.5 L997.1 513.4 L996.3 513.0 L995.4 512.6 L994.7 512.3 L994.1 512.3 L993.9 512.7 L993.8 513.4 L993.9 514.3 " stroke-width="0.8"/><path d="M1003.3 506.0 L1002.5 505.6 L1001.8 505.4 L1001.3 505.6 L1001.2 506.1 L1001.2 506.9 L1001.3 507.9 L1001.4 508.7 L1001.3 509.3 L1000.9 509.5 L1000.2 509.4 L999.4 509.0 L998.6 508.6 L997.9 508.3 L997.4 508.4 L997.1 508.9 L997.1 509.6 L997.3 510.6 L997.3 511.4 L997.3 512.1 L996.9 512.4 L996.3 512.3 L995.5 512.0 L994.7 511.6 L993.9 511.3 L993.4 511.2 L993.1 511.6 L993.1 512.3 L993.2 513.3 " stroke-width="0.8"/><path d="M976.5 519.4 L976.0 518.6 L975.6 518.0 L975.1 517.9 L974.7 518.2 L974.2 518.9 L973.7 519.7 L973.2 520.4 L972.7 520.8 L972.2 520.7 L971.8 520.2 L971.3 519.5 L970.9 518.6 L970.4 518.0 L970.0 517.7 L969.5 517.9 L969.0 518.6 L968.5 519.4 L968.0 520.1 L967.6 520.6 L967.1 520.6 L966.6 520.2 L966.2 519.5 L965.7 518.6 L965.3 517.9 L964.8 517.6 L964.4 517.7 L963.9 518.3 L963.4 519.1 " stroke-width="0.8"/><path d="M976.5 518.1 L976.1 517.3 L975.6 516.7 L975.2 516.6 L974.7 516.9 L974.2 517.6 L973.7 518.4 L973.2 519.1 L972.7 519.5 L972.3 519.4 L971.8 518.9 L971.4 518.2 L970.9 517.3 L970.5 516.7 L970.0 516.4 L969.5 516.6 L969.1 517.3 L968.6 518.1 L968.1 518.8 L967.6 519.3 L967.1 519.3 L966.7 518.9 L966.2 518.2 L965.8 517.3 L965.3 516.6 L964.9 516.3 L964.4 516.4 L963.9 517.0 L963.4 517.8 " stroke-width="0.8"/><path d="M961.3 513.6 L962.1 514.0 L962.8 514.2 L963.3 514.1 L963.5 513.5 L963.5 512.7 L963.4 511.8 L963.3 510.9 L963.5 510.3 L963.9 510.1 L964.5 510.3 L965.3 510.7 L966.1 511.1 L966.9 511.4 L967.4 511.3 L967.6 510.9 L967.6 510.1 L967.5 509.2 L967.5 508.3 L967.6 507.6 L967.9 507.4 L968.5 507.4 L969.3 507.8 L970.1 508.3 L970.9 508.6 L971.4 508.6 L971.7 508.2 L971.8 507.5 L971.7 506.6 " stroke-width="0.8"/><path d="M962.1 514.6 L962.9 515.1 L963.6 515.3 L964.0 515.1 L964.2 514.6 L964.2 513.8 L964.1 512.9 L964.0 512.0 L964.2 511.4 L964.6 511.2 L965.2 511.4 L966.0 511.8 L966.9 512.2 L967.6 512.5 L968.1 512.4 L968.3 512.0 L968.3 511.2 L968.3 510.3 L968.2 509.4 L968.3 508.7 L968.6 508.4 L969.2 508.5 L970.0 508.9 L970.9 509.3 L971.6 509.7 L972.2 509.7 L972.4 509.3 L972.5 508.6 L972.4 507.7 " stroke-width="0.8"/><circle cx="989.3" cy="512.5" r="1.04" fill="#fff" stroke-width="0.7"/><circle cx="985.6" cy="517.0" r="1.04" fill="#fff" stroke-width="0.7"/><circle cx="979.9" cy="517.5" r="1.04" fill="#fff" stroke-width="0.7"/><circle cx="975.4" cy="513.8" r="1.04" fill="#fff" stroke-width="0.7"/><circle cx="974.9" cy="508.1" r="1.04" fill="#fff" stroke-width="0.7"/><circle cx="978.6" cy="503.6" r="1.04" fill="#fff" stroke-width="0.7"/><circle cx="984.3" cy="503.1" r="1.04" fill="#fff" stroke-width="0.7"/><circle cx="988.8" cy="506.8" r="1.04" fill="#fff" stroke-width="0.7"/><circle cx="982.1" cy="510.3" r="6.4" fill="#fff" stroke-width="0.92" opacity="1"/><circle cx="982.1" cy="510.3" r="4.1" fill="none" stroke-width="1.32" opacity="1"/></g>
<g fill="none" stroke="#1a70b0" stroke-linejoin="round" stroke-linecap="round"><path d="M1060.3 488.7 Q1061.4 487.5 1062.5 488.7 L1076.3 503.8 Q1077.4 505.0 1078.0 506.5 L1085.6 526.4 Q1086.2 527.9 1084.6 528.3 L1062.9 534.1 Q1061.4 534.5 1059.9 534.1 L1038.5 528.3 Q1037.0 527.9 1037.6 526.4 L1045.0 506.5 Q1045.6 505.0 1046.6 503.8 Z" fill="#fff" stroke-width="2.50" opacity="1"/><path d="M1060.4 490.9 Q1061.4 489.8 1062.4 490.9 L1075.1 504.8 Q1076.1 505.9 1076.7 507.3 L1083.7 525.5 Q1084.2 526.9 1082.8 527.3 L1062.8 532.7 Q1061.4 533.1 1060.0 532.7 L1040.4 527.3 Q1038.9 526.9 1039.5 525.5 L1046.3 507.3 Q1046.8 505.9 1047.8 504.8 Z" fill="none" stroke-width="0.85" opacity="1"/><path d="M1061.4 491.0 Q1068.3 499.0 1075.5 506.3 Q1078.9 516.4 1083.2 526.4 Q1072.1 529.1 1061.4 532.3 Q1050.9 529.1 1039.9 526.4 Q1044.1 516.4 1047.5 506.3 Q1054.6 499.0 1061.4 491.0 Z" fill="none" stroke-width="0.73" opacity="1"/><path d="M1061.4 505.9 Q1063.6 498.4 1061.4 491.0 Q1059.2 498.4 1061.4 505.9Z" fill="#fff" stroke-width="0.8"/><path d="M1070.7 520.5 Q1076.0 525.5 1083.2 526.4 Q1077.9 521.5 1070.7 520.5Z" fill="#fff" stroke-width="0.8"/><path d="M1052.2 520.5 Q1045.1 521.5 1039.9 526.4 Q1047.0 525.5 1052.2 520.5Z" fill="#fff" stroke-width="0.8"/><path d="M1065.2 497.4 L1064.7 498.3 L1064.3 499.0 L1064.4 499.3 L1064.9 499.2 L1065.7 498.9 L1066.7 498.3 L1067.5 497.9 L1068.1 497.8 L1068.2 498.0 L1067.9 498.6 L1067.4 499.5 L1066.8 500.4 L1066.4 501.1 L1066.4 501.5 L1066.8 501.5 L1067.6 501.2 L1068.5 500.7 L1069.4 500.2 L1070.0 500.0 L1070.3 500.2 L1070.1 500.7 L1069.6 501.5 L1069.0 502.5 L1068.5 503.2 L1068.4 503.7 L1068.7 503.8 L1069.4 503.5 L1070.4 503.0 " stroke-width="0.8"/><path d="M1064.3 498.3 L1063.7 499.2 L1063.4 499.9 L1063.4 500.2 L1063.9 500.1 L1064.7 499.7 L1065.7 499.2 L1066.6 498.8 L1067.1 498.7 L1067.3 498.9 L1067.0 499.5 L1066.5 500.4 L1065.9 501.3 L1065.5 502.0 L1065.4 502.4 L1065.8 502.4 L1066.6 502.1 L1067.6 501.6 L1068.5 501.1 L1069.1 500.9 L1069.3 501.1 L1069.1 501.6 L1068.6 502.4 L1068.0 503.3 L1067.6 504.1 L1067.5 504.6 L1067.8 504.7 L1068.5 504.4 L1069.4 503.9 " stroke-width="0.8"/><path d="M1076.3 512.7 L1075.5 513.3 L1074.9 513.8 L1074.9 514.2 L1075.3 514.3 L1076.2 514.2 L1077.3 514.1 L1078.3 514.1 L1078.8 514.1 L1078.9 514.4 L1078.4 514.9 L1077.6 515.5 L1076.8 516.1 L1076.1 516.7 L1075.9 517.0 L1076.3 517.2 L1077.2 517.2 L1078.2 517.1 L1079.2 517.0 L1079.9 517.0 L1080.1 517.3 L1079.7 517.7 L1078.9 518.3 L1078.0 518.9 L1077.3 519.5 L1077.1 519.9 L1077.3 520.1 L1078.1 520.1 L1079.1 520.0 " stroke-width="0.8"/><path d="M1075.1 513.2 L1074.3 513.8 L1073.7 514.3 L1073.6 514.6 L1074.1 514.8 L1075.0 514.7 L1076.1 514.6 L1077.1 514.5 L1077.6 514.6 L1077.7 514.9 L1077.2 515.4 L1076.4 516.0 L1075.5 516.6 L1074.9 517.1 L1074.7 517.5 L1075.1 517.7 L1075.9 517.6 L1077.0 517.5 L1078.0 517.4 L1078.7 517.5 L1078.8 517.7 L1078.5 518.2 L1077.7 518.8 L1076.8 519.4 L1076.1 520.0 L1075.8 520.4 L1076.1 520.6 L1076.9 520.6 L1077.9 520.5 " stroke-width="0.8"/><path d="M1075.3 527.1 L1074.7 526.2 L1074.3 525.6 L1073.9 525.5 L1073.8 526.0 L1073.7 526.9 L1073.7 528.0 L1073.6 528.9 L1073.5 529.5 L1073.2 529.5 L1072.8 529.0 L1072.2 528.1 L1071.7 527.2 L1071.2 526.5 L1070.8 526.3 L1070.6 526.7 L1070.5 527.5 L1070.5 528.6 L1070.5 529.6 L1070.4 530.3 L1070.1 530.4 L1069.7 530.0 L1069.2 529.2 L1068.6 528.3 L1068.1 527.5 L1067.7 527.2 L1067.5 527.4 L1067.4 528.2 L1067.3 529.2 " stroke-width="0.8"/><path d="M1074.9 525.8 L1074.4 524.9 L1073.9 524.3 L1073.6 524.3 L1073.4 524.7 L1073.4 525.6 L1073.4 526.7 L1073.3 527.7 L1073.2 528.2 L1072.9 528.3 L1072.4 527.8 L1071.9 526.9 L1071.3 526.0 L1070.8 525.3 L1070.5 525.1 L1070.3 525.4 L1070.2 526.3 L1070.2 527.3 L1070.2 528.4 L1070.0 529.0 L1069.8 529.2 L1069.3 528.7 L1068.8 527.9 L1068.3 527.0 L1067.8 526.2 L1067.4 525.9 L1067.1 526.2 L1067.0 526.9 L1067.0 528.0 " stroke-width="0.8"/><path d="M1055.5 529.2 L1055.5 528.2 L1055.4 527.4 L1055.2 527.2 L1054.8 527.5 L1054.3 528.3 L1053.8 529.2 L1053.2 530.0 L1052.8 530.4 L1052.6 530.3 L1052.4 529.6 L1052.4 528.6 L1052.4 527.5 L1052.3 526.7 L1052.1 526.3 L1051.8 526.5 L1051.3 527.2 L1050.7 528.1 L1050.2 529.0 L1049.8 529.5 L1049.5 529.5 L1049.3 528.9 L1049.3 528.0 L1049.3 526.9 L1049.2 526.0 L1049.1 525.5 L1048.7 525.6 L1048.3 526.2 L1047.7 527.1 " stroke-width="0.8"/><path d="M1055.9 528.0 L1055.9 526.9 L1055.8 526.2 L1055.5 525.9 L1055.2 526.2 L1054.7 527.0 L1054.1 527.9 L1053.6 528.7 L1053.2 529.2 L1052.9 529.0 L1052.8 528.4 L1052.8 527.3 L1052.8 526.3 L1052.7 525.4 L1052.5 525.1 L1052.1 525.3 L1051.6 526.0 L1051.1 526.9 L1050.6 527.8 L1050.1 528.3 L1049.8 528.2 L1049.7 527.7 L1049.6 526.7 L1049.6 525.6 L1049.6 524.7 L1049.4 524.3 L1049.1 524.3 L1048.6 524.9 L1048.1 525.8 " stroke-width="0.8"/><path d="M1043.9 520.0 L1045.0 520.1 L1045.7 520.1 L1046.0 519.9 L1045.7 519.5 L1045.0 518.9 L1044.1 518.3 L1043.4 517.7 L1043.0 517.3 L1043.1 517.0 L1043.8 517.0 L1044.8 517.1 L1045.9 517.2 L1046.7 517.2 L1047.1 517.0 L1046.9 516.7 L1046.3 516.1 L1045.4 515.5 L1044.6 514.9 L1044.1 514.4 L1044.2 514.1 L1044.7 514.1 L1045.7 514.1 L1046.8 514.2 L1047.7 514.3 L1048.2 514.2 L1048.1 513.8 L1047.5 513.3 L1046.7 512.7 " stroke-width="0.8"/><path d="M1045.2 520.5 L1046.2 520.6 L1046.9 520.6 L1047.2 520.4 L1046.9 520.0 L1046.2 519.4 L1045.3 518.8 L1044.6 518.2 L1044.2 517.7 L1044.4 517.5 L1045.0 517.4 L1046.0 517.5 L1047.1 517.6 L1047.9 517.6 L1048.3 517.5 L1048.1 517.1 L1047.5 516.6 L1046.6 516.0 L1045.8 515.4 L1045.3 514.9 L1045.4 514.6 L1046.0 514.5 L1046.9 514.6 L1048.0 514.7 L1048.9 514.7 L1049.4 514.6 L1049.3 514.3 L1048.7 513.8 L1047.9 513.2 " stroke-width="0.8"/><path d="M1052.5 503.0 L1053.5 503.5 L1054.2 503.8 L1054.5 503.7 L1054.4 503.2 L1053.9 502.5 L1053.3 501.5 L1052.8 500.7 L1052.6 500.2 L1052.8 500.0 L1053.5 500.2 L1054.4 500.7 L1055.3 501.2 L1056.1 501.5 L1056.5 501.5 L1056.4 501.1 L1056.0 500.4 L1055.5 499.5 L1054.9 498.6 L1054.6 498.0 L1054.8 497.8 L1055.3 497.9 L1056.2 498.4 L1057.2 498.9 L1058.0 499.2 L1058.5 499.3 L1058.5 499.0 L1058.2 498.3 L1057.6 497.4 " stroke-width="0.8"/><path d="M1053.5 503.9 L1054.4 504.4 L1055.1 504.7 L1055.4 504.6 L1055.3 504.1 L1054.9 503.3 L1054.3 502.4 L1053.8 501.6 L1053.6 501.1 L1053.8 500.9 L1054.4 501.1 L1055.3 501.6 L1056.3 502.1 L1057.0 502.4 L1057.4 502.4 L1057.4 502.0 L1057.0 501.3 L1056.4 500.4 L1055.9 499.5 L1055.6 498.9 L1055.7 498.7 L1056.3 498.8 L1057.2 499.2 L1058.1 499.7 L1058.9 500.1 L1059.4 500.2 L1059.5 499.9 L1059.1 499.2 L1058.6 498.3 " stroke-width="0.8"/><circle cx="1071.4" cy="519.2" r="1.3" fill="#fff" stroke-width="0.7"/><circle cx="1066.3" cy="525.3" r="1.3" fill="#fff" stroke-width="0.7"/><circle cx="1058.3" cy="526.1" r="1.3" fill="#fff" stroke-width="0.7"/><circle cx="1052.2" cy="521.0" r="1.3" fill="#fff" stroke-width="0.7"/><circle cx="1051.4" cy="513.0" r="1.3" fill="#fff" stroke-width="0.7"/><circle cx="1056.5" cy="506.9" r="1.3" fill="#fff" stroke-width="0.7"/><circle cx="1064.5" cy="506.1" r="1.3" fill="#fff" stroke-width="0.7"/><circle cx="1070.6" cy="511.2" r="1.3" fill="#fff" stroke-width="0.7"/><circle cx="1061.4" cy="516.1" r="9.3" fill="#fff" stroke-width="0.92" opacity="1"/><circle cx="1061.4" cy="516.1" r="7.0" fill="none" stroke-width="1.32" opacity="1"/></g>
<g fill="none" stroke="#1a70b0" stroke-linejoin="round" stroke-linecap="round"><path d="M646.3 575.0 Q646.6 573.4 648.2 573.4 L692.2 573.8 Q693.8 573.8 693.5 575.4 L686.4 618.6 Q686.1 620.2 684.5 620.2 L640.7 619.8 Q639.1 619.8 639.4 618.2 Z" fill="#f1f7fc" stroke-width="1.88" opacity="1"/><path d="M647.5 576.3 Q647.8 574.8 649.3 574.8 L690.7 575.2 Q692.2 575.2 691.9 576.7 L685.2 617.3 Q684.9 618.8 683.4 618.8 L642.2 618.4 Q640.7 618.4 641.0 616.9 Z" fill="none" stroke-width="0.73" opacity="1"/><path d="M648.8 577.6 Q649.0 576.2 650.4 576.2 L689.1 576.6 Q690.5 576.6 690.3 578.0 L684.0 616.0 Q683.7 617.4 682.3 617.4 L643.8 617.1 Q642.4 617.1 642.6 615.7 Z" fill="none" stroke-width="0.67" opacity="1"/><path d="M649.4 576.7 Q669.2 579.7 690.0 577.0 Q683.8 597.0 683.3 616.9 Q663.6 614.0 642.9 616.6 Q649.0 596.7 649.4 576.7 Z" fill="none" stroke-width="0.73" opacity="1"/><path d="M650.6 578.1 Q668.8 582.5 688.3 578.4 Q681.0 597.0 682.2 615.5 Q664.0 611.2 644.6 615.2 Q651.8 596.7 650.6 578.1 Z" fill="none" stroke-width="0.67" opacity="1"/><path d="M658.5 587.5 Q654.8 580.6 648.6 575.7 Q652.3 582.7 658.5 587.5Z" fill="#fff" stroke-width="0.6"/><path d="M675.8 589.0 Q684.5 583.8 691.1 576.1 Q682.4 581.3 675.8 589.0Z" fill="#fff" stroke-width="0.6"/><path d="M674.3 606.3 Q678.0 613.1 684.1 617.9 Q680.5 611.0 674.3 606.3Z" fill="#fff" stroke-width="0.6"/><path d="M657.0 604.8 Q648.4 609.9 641.8 617.5 Q650.4 612.4 657.0 604.8Z" fill="#fff" stroke-width="0.6"/><path d="M661.5 579.6 L662.1 580.2 L662.6 580.6 L663.2 580.5 L663.7 580.0 L664.3 579.4 L664.8 578.8 L665.4 578.6 L665.9 578.8 L666.5 579.4 L667.0 580.1 L667.6 580.5 L668.1 580.6 L668.7 580.3 L669.2 579.7 L669.8 579.0 L670.3 578.7 L670.9 578.8 L671.4 579.2 L672.0 579.9 L672.5 580.5 L673.0 580.7 L673.6 580.5 L674.1 579.9 L674.7 579.3 L675.3 578.8 L675.8 578.7 L676.4 579.1 L676.9 579.7 " stroke-width="0.55"/><path d="M685.1 589.4 L684.4 589.9 L683.9 590.3 L683.9 590.9 L684.3 591.5 L684.9 592.2 L685.3 592.8 L685.4 593.4 L685.1 593.9 L684.5 594.3 L683.8 594.7 L683.2 595.2 L683.0 595.7 L683.3 596.3 L683.8 597.0 L684.4 597.6 L684.6 598.2 L684.4 598.7 L683.9 599.2 L683.2 599.6 L682.5 600.1 L682.2 600.6 L682.3 601.2 L682.8 601.8 L683.4 602.4 L683.7 603.1 L683.7 603.6 L683.3 604.1 L682.6 604.5 " stroke-width="0.55"/><path d="M671.2 614.1 L670.7 613.4 L670.2 613.1 L669.6 613.1 L669.1 613.6 L668.5 614.3 L668.0 614.8 L667.4 615.0 L666.9 614.8 L666.3 614.2 L665.8 613.6 L665.2 613.1 L664.7 613.0 L664.1 613.4 L663.6 614.0 L663.0 614.6 L662.5 615.0 L661.9 614.9 L661.4 614.4 L660.9 613.7 L660.3 613.2 L659.8 613.0 L659.2 613.2 L658.7 613.7 L658.1 614.4 L657.6 614.8 L657.0 614.9 L656.5 614.6 L655.9 613.9 " stroke-width="0.55"/><path d="M647.8 604.2 L648.5 603.8 L648.9 603.3 L648.9 602.8 L648.5 602.1 L648.0 601.5 L647.5 600.9 L647.4 600.3 L647.7 599.8 L648.3 599.3 L649.1 598.9 L649.6 598.4 L649.8 597.9 L649.5 597.3 L649.0 596.7 L648.4 596.0 L648.2 595.4 L648.3 594.9 L648.9 594.4 L649.6 594.0 L650.3 593.6 L650.6 593.1 L650.4 592.5 L650.0 591.9 L649.4 591.2 L649.0 590.6 L649.1 590.0 L649.5 589.6 L650.2 589.1 " stroke-width="0.55"/><circle cx="666.4" cy="596.9" r="13.5" fill="none" stroke-width="0.63" opacity="1"/><circle cx="666.4" cy="596.9" r="12.1" fill="#fff" stroke-width="0.69" opacity="1"/><circle cx="666.4" cy="596.9" r="10.7" fill="none" stroke-width="0.69" opacity="1"/><circle cx="666.4" cy="596.9" r="9.1" fill="none" stroke-width="1.32" opacity="1"/></g>
<g fill="none" stroke="#1a70b0" stroke-linejoin="round" stroke-linecap="round"><path d="M737.4 583.2 Q738.3 581.9 739.9 581.9 L775.7 582.5 Q777.3 582.5 776.4 583.8 L755.8 613.6 Q754.9 614.9 753.3 614.9 L718.2 614.3 Q716.6 614.3 717.5 613.0 Z" fill="#f1f7fc" stroke-width="1.88" opacity="1"/><path d="M738.0 584.1 Q738.8 582.9 740.3 582.9 L774.0 583.4 Q775.5 583.4 774.6 584.7 L755.3 612.7 Q754.5 613.9 753.0 613.9 L720.0 613.4 Q718.5 613.4 719.3 612.1 Z" fill="none" stroke-width="0.73" opacity="1"/><path d="M738.6 585.0 Q739.4 583.9 740.8 583.9 L772.3 584.4 Q773.7 584.4 772.9 585.6 L754.8 611.8 Q754.0 612.9 752.6 612.9 L721.7 612.4 Q720.3 612.4 721.1 611.2 Z" fill="none" stroke-width="0.67" opacity="1"/><path d="M739.6 584.2 Q755.1 586.4 773.1 584.7 Q761.2 598.6 753.9 612.6 Q738.8 610.4 720.9 612.1 Q732.6 598.2 739.6 584.2 Z" fill="none" stroke-width="0.73" opacity="1"/><path d="M740.1 585.2 Q753.8 588.4 771.3 585.7 Q759.0 598.6 753.4 611.6 Q740.1 608.4 722.7 611.1 Q735.0 598.2 740.1 585.2 Z" fill="none" stroke-width="0.67" opacity="1"/><path d="M742.6 589.8 Q742.3 585.9 739.2 583.5 Q739.5 587.4 742.6 589.8Z" fill="#fff" stroke-width="0.6"/><path d="M755.9 593.8 Q765.9 590.4 774.3 584.1 Q764.4 587.5 755.9 593.8Z" fill="#fff" stroke-width="0.6"/><path d="M751.4 607.3 Q751.3 610.9 754.2 613.3 Q754.2 609.6 751.4 607.3Z" fill="#fff" stroke-width="0.6"/><path d="M738.6 602.9 Q728.4 606.4 719.7 612.7 Q729.9 609.2 738.6 602.9Z" fill="#fff" stroke-width="0.6"/><path d="M748.7 586.3 L749.2 586.9 L749.6 587.3 L750.1 587.2 L750.5 586.8 L751.0 586.1 L751.4 585.6 L751.9 585.4 L752.4 585.6 L752.8 586.1 L753.2 586.8 L753.7 587.3 L754.1 587.4 L754.6 587.0 L755.1 586.4 L755.5 585.8 L756.0 585.4 L756.4 585.5 L756.9 586.0 L757.3 586.7 L757.8 587.2 L758.2 587.5 L758.7 587.2 L759.1 586.7 L759.6 586.0 L760.1 585.6 L760.5 585.5 L761.0 585.9 L761.4 586.5 " stroke-width="0.55"/><path d="M764.9 593.3 L764.1 593.4 L763.5 593.5 L763.3 594.0 L763.5 594.6 L763.7 595.4 L763.9 596.0 L763.9 596.5 L763.4 596.8 L762.7 596.9 L761.9 596.9 L761.3 597.0 L760.9 597.3 L761.0 597.9 L761.2 598.6 L761.5 599.3 L761.5 599.9 L761.2 600.3 L760.5 600.4 L759.7 600.4 L759.0 600.4 L758.6 600.7 L758.5 601.2 L758.7 601.9 L759.0 602.6 L759.1 603.3 L758.9 603.7 L758.4 603.9 L757.6 603.9 " stroke-width="0.55"/><path d="M745.0 610.5 L744.6 609.9 L744.1 609.5 L743.7 609.6 L743.2 610.0 L742.8 610.7 L742.3 611.2 L741.9 611.4 L741.4 611.2 L741.0 610.7 L740.6 610.0 L740.1 609.5 L739.7 609.4 L739.2 609.8 L738.8 610.4 L738.3 611.0 L737.9 611.4 L737.4 611.3 L737.0 610.8 L736.5 610.1 L736.1 609.6 L735.7 609.3 L735.2 609.6 L734.8 610.1 L734.3 610.8 L733.9 611.2 L733.4 611.3 L733.0 610.9 L732.5 610.3 " stroke-width="0.55"/><path d="M729.1 603.5 L729.9 603.4 L730.4 603.2 L730.6 602.8 L730.5 602.2 L730.2 601.5 L729.9 600.8 L730.0 600.3 L730.4 600.0 L731.2 599.9 L732.0 599.9 L732.6 599.8 L732.9 599.5 L732.9 598.9 L732.6 598.2 L732.3 597.5 L732.3 596.9 L732.6 596.6 L733.3 596.4 L734.1 596.4 L734.8 596.4 L735.2 596.1 L735.3 595.6 L735.1 594.9 L734.8 594.2 L734.6 593.5 L734.8 593.1 L735.4 592.9 L736.1 592.9 " stroke-width="0.55"/><circle cx="747.3" cy="598.4" r="11.0" fill="none" stroke-width="0.63" opacity="1"/><circle cx="747.3" cy="598.4" r="9.6" fill="#fff" stroke-width="0.69" opacity="1"/><circle cx="747.3" cy="598.4" r="8.2" fill="none" stroke-width="0.69" opacity="1"/><circle cx="747.3" cy="598.4" r="6.6" fill="none" stroke-width="1.32" opacity="1"/></g>
<g fill="none" stroke="#1a70b0" stroke-linejoin="round" stroke-linecap="round"><path d="M802.0 575.4 Q802.0 573.8 803.6 573.8 L845.4 573.8 Q847.0 573.8 847.0 575.4 L847.0 617.6 Q847.0 619.2 845.4 619.2 L803.6 619.2 Q802.0 619.2 802.0 617.6 Z" fill="#f1f7fc" stroke-width="1.88" opacity="1"/><path d="M803.3 576.7 Q803.3 575.2 804.8 575.2 L844.1 575.2 Q845.6 575.2 845.6 576.7 L845.6 616.3 Q845.6 617.8 844.1 617.8 L804.8 617.8 Q803.3 617.8 803.3 616.3 Z" fill="none" stroke-width="0.73" opacity="1"/><path d="M804.7 577.9 Q804.7 576.5 806.1 576.5 L842.9 576.5 Q844.3 576.5 844.3 577.9 L844.3 615.1 Q844.3 616.5 842.9 616.5 L806.1 616.5 Q804.7 616.5 804.7 615.1 Z" fill="none" stroke-width="0.67" opacity="1"/><path d="M805.1 577.0 Q824.5 579.7 843.8 577.0 Q841.1 596.5 843.8 616.0 Q824.5 613.3 805.1 616.0 Q807.8 596.5 805.1 577.0 Z" fill="none" stroke-width="0.73" opacity="1"/><path d="M806.5 578.3 Q824.5 582.4 842.5 578.3 Q838.4 596.5 842.5 614.6 Q824.5 610.5 806.5 614.6 Q810.5 596.5 806.5 578.3 Z" fill="none" stroke-width="0.67" opacity="1"/><path d="M816.1 588.1 Q811.3 580.9 804.2 576.1 Q809.0 583.2 816.1 588.1Z" fill="#fff" stroke-width="0.6"/><path d="M832.7 588.1 Q839.9 583.2 844.7 576.1 Q837.6 580.9 832.7 588.1Z" fill="#fff" stroke-width="0.6"/><path d="M832.7 604.7 Q837.6 612.0 844.7 616.9 Q839.8 609.7 832.7 604.7Z" fill="#fff" stroke-width="0.6"/><path d="M816.2 604.8 Q809.1 609.7 804.2 616.9 Q811.3 612.0 816.2 604.8Z" fill="#fff" stroke-width="0.6"/><path d="M817.1 579.7 L817.7 580.3 L818.2 580.6 L818.7 580.6 L819.2 580.1 L819.8 579.5 L820.3 578.9 L820.8 578.7 L821.3 578.9 L821.9 579.5 L822.4 580.1 L822.9 580.6 L823.4 580.6 L823.9 580.3 L824.5 579.7 L825.0 579.1 L825.5 578.7 L826.0 578.8 L826.6 579.2 L827.1 579.9 L827.6 580.5 L828.1 580.7 L828.7 580.5 L829.2 579.9 L829.7 579.2 L830.2 578.8 L830.8 578.7 L831.3 579.1 L831.8 579.7 " stroke-width="0.55"/><path d="M841.1 589.1 L840.5 589.6 L840.2 590.1 L840.2 590.7 L840.7 591.2 L841.3 591.7 L841.9 592.2 L842.1 592.8 L841.9 593.3 L841.3 593.8 L840.7 594.4 L840.2 594.9 L840.2 595.4 L840.5 595.9 L841.1 596.5 L841.7 597.0 L842.1 597.5 L842.0 598.1 L841.6 598.6 L840.9 599.1 L840.3 599.6 L840.1 600.2 L840.3 600.7 L840.9 601.2 L841.6 601.8 L842.0 602.3 L842.1 602.8 L841.7 603.3 L841.1 603.9 " stroke-width="0.55"/><path d="M831.8 613.3 L831.3 612.6 L830.8 612.3 L830.2 612.4 L829.7 612.8 L829.2 613.5 L828.7 614.1 L828.1 614.3 L827.6 614.1 L827.1 613.5 L826.6 612.8 L826.0 612.4 L825.5 612.3 L825.0 612.6 L824.5 613.3 L823.9 613.9 L823.4 614.2 L822.9 614.2 L822.4 613.7 L821.9 613.0 L821.3 612.5 L820.8 612.3 L820.3 612.5 L819.8 613.0 L819.2 613.7 L818.7 614.2 L818.2 614.2 L817.7 613.9 L817.1 613.3 " stroke-width="0.55"/><path d="M807.8 603.9 L808.4 603.3 L808.8 602.8 L808.7 602.3 L808.3 601.8 L807.6 601.2 L807.0 600.7 L806.8 600.2 L807.0 599.6 L807.6 599.1 L808.3 598.6 L808.7 598.1 L808.8 597.5 L808.4 597.0 L807.8 596.5 L807.2 595.9 L806.8 595.4 L806.9 594.9 L807.4 594.4 L808.0 593.8 L808.6 593.3 L808.8 592.8 L808.6 592.2 L808.0 591.7 L807.4 591.2 L806.9 590.7 L806.8 590.1 L807.2 589.6 L807.8 589.1 " stroke-width="0.55"/><circle cx="824.4" cy="596.4" r="12.9" fill="none" stroke-width="0.63" opacity="1"/><circle cx="824.4" cy="596.4" r="11.5" fill="#fff" stroke-width="0.69" opacity="1"/><circle cx="824.4" cy="596.4" r="10.1" fill="none" stroke-width="0.69" opacity="1"/><circle cx="824.4" cy="596.4" r="8.5" fill="none" stroke-width="1.32" opacity="1"/></g>
<g fill="none" stroke="#1a70b0" stroke-linejoin="round" stroke-linecap="round"><path d="M902.9 573.6 Q903.7 572.2 904.5 573.6 L930.6 618.8 Q931.4 620.2 929.8 620.2 L877.7 620.2 Q876.1 620.2 876.9 618.8 Z" fill="#f1f7fc" stroke-width="1.88" opacity="1"/><path d="M903.0 575.4 Q903.7 574.1 904.5 575.4 L929.0 618.0 Q929.7 619.3 928.2 619.3 L879.3 619.3 Q877.8 619.3 878.5 618.0 Z" fill="none" stroke-width="0.73" opacity="1"/><path d="M903.0 577.3 Q903.7 576.1 904.4 577.3 L927.4 617.1 Q928.1 618.3 926.7 618.3 L880.8 618.3 Q879.4 618.3 880.1 617.1 Z" fill="none" stroke-width="0.67" opacity="1"/><path d="M903.7 576.7 Q913.9 598.3 927.5 618.0 Q903.7 616.0 880.0 618.0 Q893.5 598.3 903.7 576.7 Z" fill="none" stroke-width="0.73" opacity="1"/><path d="M903.7 578.6 Q912.3 599.2 925.8 617.0 Q903.7 614.1 881.6 617.0 Q895.1 599.2 903.7 578.6 Z" fill="none" stroke-width="0.67" opacity="1"/><path d="M903.7 594.4 Q905.3 584.9 903.7 575.4 Q902.1 584.9 903.7 594.4Z" fill="#fff" stroke-width="0.6"/><path d="M912.1 609.0 Q919.6 615.2 928.6 618.6 Q921.2 612.4 912.1 609.0Z" fill="#fff" stroke-width="0.6"/><path d="M895.3 609.0 Q886.3 612.4 878.9 618.6 Q887.9 615.2 895.3 609.0Z" fill="#fff" stroke-width="0.6"/><path d="M909.4 590.5 L909.2 591.3 L909.2 592.1 L909.6 592.6 L910.3 592.9 L911.2 593.1 L912.0 593.4 L912.6 593.9 L912.7 594.5 L912.5 595.4 L912.3 596.3 L912.2 597.1 L912.5 597.6 L913.1 598.0 L913.9 598.3 L914.8 598.5 L915.4 598.9 L915.7 599.5 L915.6 600.3 L915.4 601.2 L915.2 602.0 L915.3 602.7 L915.8 603.1 L916.6 603.4 L917.5 603.6 L918.3 604.0 L918.6 604.5 L918.7 605.2 L918.4 606.1 " stroke-width="0.55"/><path d="M912.7 616.0 L912.1 615.4 L911.4 615.1 L910.8 615.1 L910.2 615.6 L909.5 616.3 L908.9 616.8 L908.2 617.0 L907.6 616.8 L906.9 616.3 L906.3 615.6 L905.7 615.1 L905.0 615.1 L904.4 615.4 L903.7 616.0 L903.1 616.7 L902.5 617.0 L901.8 616.9 L901.2 616.5 L900.5 615.8 L899.9 615.3 L899.2 615.0 L898.6 615.3 L898.0 615.8 L897.3 616.5 L896.7 616.9 L896.0 617.0 L895.4 616.7 L894.7 616.0 " stroke-width="0.55"/><path d="M889.0 606.1 L889.9 605.8 L890.5 605.5 L890.7 604.9 L890.7 604.1 L890.4 603.2 L890.2 602.4 L890.4 601.7 L890.9 601.2 L891.7 601.0 L892.6 600.7 L893.3 600.4 L893.7 599.9 L893.7 599.1 L893.5 598.3 L893.3 597.4 L893.3 596.7 L893.7 596.2 L894.4 595.8 L895.3 595.6 L896.1 595.3 L896.6 594.9 L896.7 594.2 L896.6 593.4 L896.3 592.5 L896.2 591.7 L896.5 591.1 L897.1 590.7 L898.0 590.5 " stroke-width="0.55"/><circle cx="903.7" cy="604.1" r="10.9" fill="none" stroke-width="0.63" opacity="1"/><circle cx="903.7" cy="604.1" r="9.5" fill="#fff" stroke-width="0.69" opacity="1"/><circle cx="903.7" cy="604.1" r="8.1" fill="none" stroke-width="0.69" opacity="1"/><circle cx="903.7" cy="604.1" r="6.5" fill="none" stroke-width="1.32" opacity="1"/></g>
<g fill="none" stroke="#1a70b0" stroke-linejoin="round" stroke-linecap="round"><path d="M977.8 586.7 Q979.1 585.8 980.7 585.8 L1015.2 586.1 Q1016.8 586.1 1015.5 587.1 L988.4 607.7 Q987.1 608.7 985.5 608.6 L950.4 607.5 Q948.8 607.5 950.1 606.5 Z" fill="#f1f7fc" stroke-width="1.88" opacity="1"/><path d="M978.1 587.3 Q979.3 586.4 980.8 586.5 L1013.2 586.8 Q1014.7 586.8 1013.5 587.7 L988.0 607.1 Q986.8 608.0 985.3 607.9 L952.3 606.9 Q950.8 606.8 952.0 606.0 Z" fill="none" stroke-width="0.73" opacity="1"/><path d="M978.4 587.9 Q979.5 587.1 980.9 587.1 L1011.2 587.4 Q1012.6 587.4 1011.5 588.3 L987.7 606.4 Q986.5 607.3 985.1 607.2 L954.2 606.3 Q952.8 606.2 954.0 605.4 Z" fill="none" stroke-width="0.67" opacity="1"/><path d="M979.6 587.3 Q993.9 588.8 1011.9 587.6 Q996.8 597.3 986.4 607.0 Q971.7 605.2 953.5 606.0 Q968.7 596.7 979.6 587.3 Z" fill="none" stroke-width="0.73" opacity="1"/><path d="M979.7 588.0 Q992.0 590.1 1009.9 588.3 Q994.5 597.2 986.2 606.3 Q973.4 603.8 955.5 605.4 Q970.9 596.7 979.7 588.0 Z" fill="none" stroke-width="0.67" opacity="1"/><path d="M980.3 589.8 Q981.1 588.0 979.4 586.9 Q978.6 588.7 980.3 589.8Z" fill="#fff" stroke-width="0.6"/><path d="M989.2 594.7 Q1001.6 592.2 1013.3 587.2 Q1000.9 589.7 989.2 594.7Z" fill="#fff" stroke-width="0.6"/><path d="M985.0 603.7 Q984.7 606.1 986.6 607.5 Q987.0 605.1 985.0 603.7Z" fill="#fff" stroke-width="0.6"/><path d="M975.2 599.1 Q963.3 601.5 952.1 606.4 Q964.1 604.0 975.2 599.1Z" fill="#fff" stroke-width="0.6"/><path d="M987.7 588.7 L988.2 589.2 L988.6 589.5 L989.0 589.5 L989.5 589.1 L989.9 588.6 L990.4 588.1 L990.8 588.0 L991.2 588.1 L991.7 588.6 L992.1 589.1 L992.5 589.5 L993.0 589.6 L993.4 589.3 L993.9 588.8 L994.3 588.3 L994.7 588.0 L995.2 588.1 L995.6 588.5 L996.0 589.0 L996.5 589.4 L996.9 589.6 L997.4 589.5 L997.8 589.0 L998.2 588.5 L998.7 588.1 L999.1 588.1 L999.6 588.4 L1000.0 588.9 " stroke-width="0.55"/><path d="M1001.6 593.6 L1001.0 593.5 L1000.5 593.5 L1000.2 593.8 L1000.1 594.4 L1000.0 595.1 L1000.0 595.7 L999.7 596.1 L999.3 596.2 L998.7 596.1 L998.0 595.9 L997.4 595.9 L997.0 596.1 L996.9 596.6 L996.8 597.3 L996.8 597.9 L996.6 598.4 L996.2 598.6 L995.7 598.6 L995.0 598.4 L994.4 598.3 L993.9 598.5 L993.7 598.9 L993.6 599.5 L993.6 600.2 L993.5 600.7 L993.2 601.0 L992.6 601.1 L992.0 600.9 " stroke-width="0.55"/><path d="M977.9 605.4 L977.5 604.9 L977.0 604.6 L976.6 604.6 L976.1 605.0 L975.7 605.5 L975.2 605.9 L974.8 606.1 L974.3 605.9 L973.9 605.4 L973.5 604.9 L973.0 604.5 L972.6 604.4 L972.1 604.7 L971.7 605.2 L971.2 605.7 L970.8 605.9 L970.3 605.9 L969.9 605.5 L969.4 604.9 L969.0 604.5 L968.6 604.3 L968.1 604.4 L967.7 604.9 L967.2 605.4 L966.7 605.7 L966.3 605.8 L965.9 605.5 L965.4 605.0 " stroke-width="0.55"/><path d="M963.8 600.2 L964.4 600.4 L964.9 600.4 L965.2 600.1 L965.4 599.5 L965.4 598.8 L965.5 598.2 L965.8 597.8 L966.2 597.7 L966.8 597.8 L967.5 598.0 L968.1 598.0 L968.5 597.8 L968.6 597.4 L968.7 596.7 L968.8 596.0 L969.0 595.6 L969.3 595.4 L969.9 595.4 L970.6 595.6 L971.2 595.7 L971.6 595.6 L971.9 595.2 L972.0 594.6 L972.0 593.9 L972.2 593.3 L972.5 593.0 L973.0 593.0 L973.6 593.2 " stroke-width="0.55"/><circle cx="982.2" cy="596.9" r="6.6" fill="none" stroke-width="0.63" opacity="1"/><circle cx="982.2" cy="596.9" r="5.8" fill="#fff" stroke-width="0.69" opacity="1"/><circle cx="982.2" cy="596.9" r="4.1" fill="none" stroke-width="1.32" opacity="1"/></g>
<g fill="none" stroke="#1a70b0" stroke-linejoin="round" stroke-linecap="round"><path d="M1060.9 572.0 Q1062.0 570.8 1063.1 572.0 L1078.0 588.2 Q1079.1 589.4 1079.6 590.9 L1087.8 612.2 Q1088.4 613.7 1086.9 614.1 L1063.5 620.4 Q1062.0 620.8 1060.5 620.4 L1037.5 614.1 Q1036.0 613.7 1036.6 612.2 L1044.6 590.9 Q1045.1 589.4 1046.2 588.2 Z" fill="#f1f7fc" stroke-width="1.88" opacity="1"/><path d="M1061.0 573.7 Q1062.0 572.6 1063.0 573.7 L1077.0 589.0 Q1078.0 590.1 1078.6 591.5 L1086.3 611.5 Q1086.8 613.0 1085.4 613.3 L1063.5 619.2 Q1062.0 619.6 1060.5 619.2 L1039.0 613.3 Q1037.6 613.0 1038.1 611.5 L1045.6 591.5 Q1046.1 590.1 1047.2 589.0 Z" fill="none" stroke-width="0.73" opacity="1"/><path d="M1061.1 575.5 Q1062.0 574.4 1063.0 575.5 L1076.1 589.8 Q1077.0 590.8 1077.5 592.1 L1084.7 610.9 Q1085.2 612.2 1083.9 612.6 L1063.4 618.1 Q1062.0 618.4 1060.6 618.1 L1040.5 612.6 Q1039.1 612.2 1039.6 610.9 L1046.7 592.1 Q1047.2 590.8 1048.1 589.8 Z" fill="none" stroke-width="0.67" opacity="1"/><path d="M1062.0 575.1 Q1068.3 585.6 1076.7 591.1 Q1078.1 601.5 1084.7 612.0 Q1071.8 613.1 1062.0 618.1 Q1052.4 613.1 1039.6 612.0 Q1046.1 601.5 1047.5 591.1 Q1055.8 585.6 1062.0 575.1 Z" fill="none" stroke-width="0.73" opacity="1"/><path d="M1062.0 576.9 Q1067.3 588.1 1075.7 591.8 Q1075.5 601.4 1083.1 611.2 Q1070.2 611.2 1062.0 616.9 Q1053.9 611.2 1041.2 611.2 Q1048.7 601.4 1048.5 591.8 Q1056.8 588.1 1062.0 576.9 Z" fill="none" stroke-width="0.67" opacity="1"/><path d="M1062.0 590.5 Q1063.6 582.2 1062.0 573.8 Q1060.4 582.2 1062.0 590.5Z" fill="#fff" stroke-width="0.6"/><path d="M1071.7 605.8 Q1078.0 610.6 1085.8 612.5 Q1079.4 607.7 1071.7 605.8Z" fill="#fff" stroke-width="0.6"/><path d="M1052.4 605.8 Q1044.8 607.7 1038.6 612.5 Q1046.2 610.6 1052.4 605.8Z" fill="#fff" stroke-width="0.6"/><path d="M1065.5 582.6 L1065.3 583.2 L1065.2 583.6 L1065.5 583.8 L1066.0 583.7 L1066.7 583.5 L1067.3 583.3 L1067.7 583.4 L1067.7 583.8 L1067.5 584.4 L1067.2 585.0 L1067.1 585.5 L1067.2 585.8 L1067.7 585.8 L1068.3 585.6 L1069.0 585.4 L1069.4 585.4 L1069.6 585.6 L1069.4 586.2 L1069.1 586.8 L1068.9 587.4 L1069.0 587.8 L1069.3 587.8 L1069.9 587.7 L1070.6 587.5 L1071.2 587.4 L1071.4 587.5 L1071.4 588.0 L1071.1 588.6 " stroke-width="0.55"/><path d="M1076.6 597.5 L1076.1 598.0 L1075.9 598.4 L1076.1 598.7 L1076.6 598.8 L1077.3 598.8 L1077.9 598.9 L1078.3 599.1 L1078.2 599.5 L1077.8 600.0 L1077.2 600.5 L1076.9 600.9 L1077.0 601.2 L1077.4 601.4 L1078.1 601.5 L1078.8 601.5 L1079.2 601.7 L1079.3 602.0 L1078.9 602.4 L1078.4 603.0 L1078.0 603.4 L1077.9 603.8 L1078.2 604.0 L1078.9 604.1 L1079.6 604.1 L1080.1 604.2 L1080.3 604.5 L1080.1 604.9 L1079.6 605.4 " stroke-width="0.55"/><path d="M1076.1 611.9 L1075.6 611.4 L1075.2 611.1 L1074.9 611.3 L1074.7 611.8 L1074.6 612.5 L1074.4 613.2 L1074.2 613.5 L1073.8 613.3 L1073.4 612.9 L1072.9 612.3 L1072.5 612.0 L1072.1 612.0 L1071.9 612.4 L1071.8 613.1 L1071.6 613.8 L1071.4 614.2 L1071.1 614.2 L1070.7 613.8 L1070.2 613.3 L1069.7 612.8 L1069.4 612.7 L1069.1 613.0 L1068.9 613.6 L1068.8 614.3 L1068.6 614.9 L1068.3 615.0 L1067.9 614.8 L1067.5 614.2 " stroke-width="0.55"/><path d="M1056.6 614.2 L1056.5 613.5 L1056.3 613.1 L1055.9 613.1 L1055.5 613.5 L1055.0 614.0 L1054.6 614.5 L1054.2 614.6 L1054.0 614.3 L1053.8 613.7 L1053.7 613.0 L1053.5 612.5 L1053.2 612.3 L1052.8 612.6 L1052.4 613.1 L1051.9 613.6 L1051.5 613.9 L1051.2 613.7 L1051.1 613.2 L1050.9 612.4 L1050.8 611.8 L1050.5 611.5 L1050.2 611.7 L1049.7 612.1 L1049.2 612.7 L1048.8 613.0 L1048.5 613.0 L1048.3 612.6 L1048.1 611.9 " stroke-width="0.55"/><path d="M1044.6 605.4 L1045.3 605.4 L1045.8 605.2 L1045.8 604.9 L1045.5 604.4 L1045.0 603.9 L1044.6 603.4 L1044.5 603.1 L1044.8 602.9 L1045.4 602.8 L1046.1 602.7 L1046.7 602.6 L1046.8 602.4 L1046.6 602.0 L1046.1 601.5 L1045.7 601.0 L1045.4 600.6 L1045.6 600.3 L1046.2 600.2 L1046.9 600.1 L1047.5 600.0 L1047.8 599.8 L1047.7 599.5 L1047.3 599.0 L1046.8 598.5 L1046.5 598.0 L1046.5 597.7 L1046.9 597.6 L1047.6 597.5 " stroke-width="0.55"/><path d="M1053.0 588.6 L1053.7 588.8 L1054.1 588.8 L1054.3 588.6 L1054.1 588.0 L1053.8 587.4 L1053.6 586.8 L1053.6 586.4 L1054.0 586.4 L1054.6 586.5 L1055.3 586.7 L1055.8 586.8 L1056.1 586.7 L1056.0 586.2 L1055.8 585.6 L1055.5 585.0 L1055.4 584.5 L1055.7 584.3 L1056.2 584.4 L1056.9 584.7 L1057.5 584.8 L1057.9 584.7 L1057.9 584.4 L1057.7 583.8 L1057.4 583.1 L1057.2 582.6 L1057.4 582.3 L1057.8 582.4 L1058.5 582.6 " stroke-width="0.55"/><circle cx="1062.0" cy="601.2" r="11.9" fill="none" stroke-width="0.63" opacity="1"/><circle cx="1062.0" cy="601.2" r="10.5" fill="#fff" stroke-width="0.69" opacity="1"/><circle cx="1062.0" cy="601.2" r="9.1" fill="none" stroke-width="0.69" opacity="1"/><circle cx="1062.0" cy="601.2" r="7.5" fill="none" stroke-width="1.32" opacity="1"/></g>
<g fill="none" stroke="#1a70b0" stroke-linejoin="round" stroke-linecap="round"><path d="M645.2 661.0 Q645.5 659.4 647.1 659.4 L691.4 659.8 Q693.0 659.8 692.7 661.4 L685.5 705.0 Q685.2 706.6 683.6 706.6 L639.5 706.2 Q637.9 706.2 638.2 704.6 Z" fill="#eaf4fb" stroke-width="2.12" opacity="1"/><path d="M646.8 662.7 Q647.0 661.3 648.5 661.3 L689.3 661.7 Q690.8 661.7 690.6 663.1 L683.9 703.3 Q683.7 704.7 682.2 704.7 L641.6 704.4 Q640.1 704.3 640.3 702.9 Z" fill="none" stroke-width="0.73" opacity="1"/><path d="M647.4 661.8 Q667.3 671.4 690.2 662.1 Q677.3 683.2 683.3 704.2 Q663.5 694.7 640.6 703.9 Q653.5 682.9 647.4 661.8 Z" fill="#fff" stroke-width="1.1" opacity="1"/><path d="M649.4 664.1 Q667.0 673.2 687.5 664.5 Q675.4 683.1 681.3 701.9 Q663.8 692.9 643.4 701.6 Q655.4 683.0 649.4 664.1 Z" fill="none" stroke-width="0.73" opacity="1"/><path d="M658.1 674.4 L649.4 664.1" stroke-width="0.73" opacity="0.9"/><path d="M674.1 675.8 L687.5 664.5" stroke-width="0.73" opacity="0.9"/><path d="M672.7 691.8 L681.3 701.9" stroke-width="0.73" opacity="0.9"/><path d="M656.7 690.4 L643.4 701.6" stroke-width="0.73" opacity="0.9"/><circle cx="665.4" cy="683.1" r="12.6" fill="none" stroke-width="0.8" opacity="1"/><circle cx="665.4" cy="683.1" r="10.9" fill="#fff" stroke-width="0.8" opacity="1"/><circle cx="665.4" cy="683.1" r="9.2" fill="none" stroke-width="1.32" opacity="1"/></g>
<g fill="none" stroke="#1a70b0" stroke-linejoin="round" stroke-linecap="round"><path d="M733.7 668.8 Q734.6 667.5 736.2 667.5 L774.1 668.1 Q775.7 668.1 774.8 669.4 L753.0 700.6 Q752.1 701.9 750.5 701.9 L713.4 701.3 Q711.8 701.3 712.7 700.0 Z" fill="#eaf4fb" stroke-width="2.12" opacity="1"/><path d="M734.5 670.1 Q735.4 668.9 736.8 668.9 L771.7 669.4 Q773.2 669.4 772.3 670.6 L752.3 699.3 Q751.5 700.5 750.0 700.5 L715.8 700.0 Q714.3 700.0 715.2 698.7 Z" fill="none" stroke-width="0.73" opacity="1"/><path d="M735.6 669.2 Q749.6 676.3 772.6 669.8 Q754.0 684.9 751.3 700.2 Q738.0 693.1 715.0 699.6 Q733.6 684.5 735.6 669.2 Z" fill="#fff" stroke-width="1.1" opacity="1"/><path d="M736.5 670.9 Q748.7 677.6 769.4 671.4 Q752.4 684.8 750.5 698.5 Q739.0 691.8 718.2 698.0 Q735.3 684.6 736.5 670.9 Z" fill="none" stroke-width="0.73" opacity="1"/><path d="M739.7 676.8 L736.5 670.9" stroke-width="0.73" opacity="0.9"/><path d="M752.1 680.5 L769.4 671.4" stroke-width="0.73" opacity="0.9"/><path d="M747.9 692.9 L750.5 698.5" stroke-width="0.73" opacity="0.9"/><path d="M736.0 688.8 L718.2 698.0" stroke-width="0.73" opacity="0.9"/><circle cx="744.1" cy="684.7" r="10.3" fill="none" stroke-width="0.8" opacity="1"/><circle cx="744.1" cy="684.7" r="8.6" fill="#fff" stroke-width="0.8" opacity="1"/><circle cx="744.1" cy="684.7" r="6.9" fill="none" stroke-width="1.32" opacity="1"/></g>
<g fill="none" stroke="#1a70b0" stroke-linejoin="round" stroke-linecap="round"><path d="M800.0 660.4 Q800.0 658.8 801.6 658.8 L847.2 658.8 Q848.8 658.8 848.8 660.4 L848.8 706.6 Q848.8 708.2 847.2 708.2 L801.6 708.2 Q800.0 708.2 800.0 706.6 Z" fill="#eaf4fb" stroke-width="2.12" opacity="1"/><path d="M802.0 662.2 Q802.0 660.8 803.4 660.8 L845.4 660.8 Q846.8 660.8 846.8 662.2 L846.8 704.7 Q846.8 706.2 845.4 706.2 L803.4 706.2 Q802.0 706.2 802.0 704.7 Z" fill="none" stroke-width="0.73" opacity="1"/><path d="M802.4 661.3 Q824.4 671.1 846.3 661.3 Q836.5 683.5 846.3 705.7 Q824.4 695.8 802.4 705.7 Q812.2 683.5 802.4 661.3 Z" fill="#fff" stroke-width="1.1" opacity="1"/><path d="M804.9 663.7 Q824.3 673.1 843.9 663.7 Q834.6 683.4 843.9 703.2 Q824.3 693.8 804.9 703.2 Q814.1 683.4 804.9 663.7 Z" fill="none" stroke-width="0.73" opacity="1"/><path d="M816.2 675.2 L804.9 663.7" stroke-width="0.73" opacity="0.9"/><path d="M832.4 675.3 L843.9 663.7" stroke-width="0.73" opacity="0.9"/><path d="M832.4 691.6 L843.9 703.2" stroke-width="0.73" opacity="0.9"/><path d="M816.3 691.6 L804.9 703.2" stroke-width="0.73" opacity="0.9"/><circle cx="824.3" cy="683.4" r="12.7" fill="none" stroke-width="0.8" opacity="1"/><circle cx="824.3" cy="683.4" r="11.0" fill="#fff" stroke-width="0.8" opacity="1"/><circle cx="824.3" cy="683.4" r="9.3" fill="none" stroke-width="1.32" opacity="1"/></g>
<g fill="none" stroke="#1a70b0" stroke-linejoin="round" stroke-linecap="round"><path d="M901.2 658.6 Q902.0 657.2 902.8 658.6 L929.8 705.2 Q930.6 706.6 929.0 706.6 L875.1 706.6 Q873.5 706.6 874.3 705.2 Z" fill="#eaf4fb" stroke-width="2.12" opacity="1"/><path d="M901.3 661.1 Q902.0 659.8 902.7 661.1 L927.6 704.0 Q928.3 705.3 926.9 705.3 L877.2 705.3 Q875.8 705.3 876.5 704.0 Z" fill="none" stroke-width="0.73" opacity="1"/><path d="M902.0 660.5 Q909.2 686.0 927.8 704.9 Q902.0 698.3 876.3 704.9 Q894.9 686.0 902.0 660.5 Z" fill="#fff" stroke-width="1.1" opacity="1"/><path d="M902.0 663.8 Q908.0 686.6 924.9 703.3 Q902.0 697.0 879.2 703.3 Q896.0 686.6 902.0 663.8 Z" fill="none" stroke-width="0.73" opacity="1"/><path d="M902.0 681.0 L902.0 663.8" stroke-width="0.73" opacity="0.9"/><path d="M909.7 694.5 L924.9 703.3" stroke-width="0.73" opacity="0.9"/><path d="M894.3 694.5 L879.2 703.3" stroke-width="0.73" opacity="0.9"/><circle cx="902.0" cy="690.0" r="10.2" fill="none" stroke-width="0.8" opacity="1"/><circle cx="902.0" cy="690.0" r="8.5" fill="#fff" stroke-width="0.8" opacity="1"/><circle cx="902.0" cy="690.0" r="6.8" fill="none" stroke-width="1.32" opacity="1"/></g>
<g fill="none" stroke="#1a70b0" stroke-linejoin="round" stroke-linecap="round"><path d="M1060.5 658.1 Q1061.6 656.9 1062.7 658.1 L1078.0 674.6 Q1079.1 675.8 1079.6 677.2 L1088.0 698.9 Q1088.6 700.4 1087.1 700.8 L1063.1 707.1 Q1061.6 707.5 1060.1 707.1 L1036.5 700.8 Q1035.0 700.4 1035.6 698.9 L1043.8 677.3 Q1044.3 675.8 1045.4 674.6 Z" fill="#eaf4fb" stroke-width="2.12" opacity="1"/><path d="M1060.6 660.5 Q1061.6 659.4 1062.6 660.5 L1076.7 675.6 Q1077.7 676.7 1078.2 678.1 L1085.9 698.0 Q1086.5 699.3 1085.0 699.7 L1063.0 705.6 Q1061.6 706.0 1060.2 705.6 L1038.5 699.7 Q1037.1 699.3 1037.6 698.0 L1045.2 678.1 Q1045.7 676.7 1046.7 675.6 Z" fill="none" stroke-width="0.73" opacity="1"/><path d="M1061.6 660.0 Q1066.0 677.0 1077.3 677.0 Q1072.7 687.9 1085.9 699.1 Q1068.4 695.8 1061.6 705.6 Q1054.9 695.8 1037.6 699.1 Q1050.6 687.9 1046.1 677.0 Q1057.3 677.0 1061.6 660.0 Z" fill="#fff" stroke-width="1.1" opacity="1"/><path d="M1061.6 663.1 Q1065.3 678.7 1075.6 678.1 Q1070.9 687.8 1083.2 697.8 Q1067.3 694.5 1061.6 703.6 Q1056.0 694.5 1040.3 697.8 Q1052.4 687.8 1047.8 678.1 Q1058.0 678.7 1061.6 663.1 Z" fill="none" stroke-width="0.73" opacity="1"/><path d="M1061.6 677.9 L1061.6 663.1" stroke-width="0.73" opacity="0.9"/><path d="M1070.5 691.9 L1083.2 697.8" stroke-width="0.73" opacity="0.9"/><path d="M1052.8 691.9 L1040.3 697.8" stroke-width="0.73" opacity="0.9"/><circle cx="1061.6" cy="687.7" r="11.0" fill="none" stroke-width="0.8" opacity="1"/><circle cx="1061.6" cy="687.7" r="9.3" fill="#fff" stroke-width="0.8" opacity="1"/><circle cx="1061.6" cy="687.7" r="7.6" fill="none" stroke-width="1.32" opacity="1"/></g>
<g fill="none" stroke="#1a70b0" stroke-linejoin="round" stroke-linecap="round"><path d="M644.8 750.2 Q645.1 748.6 646.7 748.6 L688.8 749.0 Q690.4 749.0 690.1 750.5 L683.3 790.8 Q683.0 792.4 681.4 792.4 L639.5 792.1 Q637.9 792.0 638.2 790.5 Z" fill="#f6fafd" stroke-width="1.88" opacity="1"/><path d="M646.8 752.2 Q647.0 750.8 648.4 750.8 L686.3 751.1 Q687.8 751.1 687.5 752.6 L681.3 788.8 Q681.1 790.2 679.7 790.2 L642.0 789.9 Q640.5 789.9 640.8 788.5 Z" fill="none" stroke-width="1.22" opacity="1"/><path d="M650.4 754.8 Q666.4 757.1 683.0 755.0 Q678.1 770.7 677.7 786.3 Q661.8 784.0 645.2 786.0 Q650.1 770.4 650.4 754.8 Z" fill="none" stroke-width="0.85" opacity="1"/><path d="M651.9 756.5 Q666.1 758.6 680.9 756.8 Q676.5 770.7 676.2 784.6 Q662.1 782.5 647.3 784.3 Q651.7 770.4 651.9 756.5 Z" fill="none" stroke-width="0.61" opacity="0.8"/><circle cx="664.1" cy="770.6" r="9.2" fill="none" stroke-width="1.15" opacity="1"/></g>
<g fill="none" stroke="#1a70b0" stroke-linejoin="round" stroke-linecap="round"><path d="M802.0 749.6 Q802.0 748.0 803.6 748.0 L845.2 748.0 Q846.8 748.0 846.8 749.6 L846.8 790.8 Q846.8 792.4 845.2 792.4 L803.6 792.4 Q802.0 792.4 802.0 790.8 Z" fill="#f6fafd" stroke-width="1.88" opacity="1"/><path d="M804.2 751.6 Q804.2 750.2 805.7 750.2 L843.1 750.2 Q844.5 750.2 844.5 751.6 L844.5 788.7 Q844.5 790.2 843.1 790.2 L805.7 790.2 Q804.2 790.2 804.2 788.7 Z" fill="none" stroke-width="1.22" opacity="1"/><path d="M808.2 754.2 Q824.4 756.4 840.5 754.2 Q838.2 770.2 840.5 786.2 Q824.4 783.9 808.2 786.2 Q810.5 770.2 808.2 754.2 Z" fill="none" stroke-width="0.85" opacity="1"/><path d="M810.0 756.0 Q824.4 757.9 838.7 756.0 Q836.7 770.2 838.7 784.4 Q824.4 782.4 810.0 784.4 Q812.0 770.2 810.0 756.0 Z" fill="none" stroke-width="0.61" opacity="0.8"/><circle cx="824.3" cy="770.1" r="9.0" fill="none" stroke-width="1.15" opacity="1"/></g>
<g fill="none" stroke="#1a70b0" stroke-linejoin="round" stroke-linecap="round"><path d="M647.1 836.8 Q647.3 835.2 648.9 835.2 L691.0 835.6 Q692.6 835.6 692.3 837.2 L685.5 878.8 Q685.2 880.4 683.6 880.4 L641.7 880.0 Q640.1 880.0 640.4 878.4 Z" fill="#eef6fb" stroke-width="1.75" opacity="1"/><path d="M648.8 838.7 Q649.0 837.2 650.5 837.3 L688.8 837.6 Q690.2 837.6 690.0 839.0 L683.7 876.9 Q683.5 878.4 682.0 878.4 L643.9 878.0 Q642.5 878.0 642.7 876.6 Z" fill="none" stroke-width="1.22" opacity="1"/><path d="M650.7 840.8 Q650.9 839.5 652.2 839.5 L686.3 839.8 Q687.6 839.8 687.4 841.1 L681.8 874.8 Q681.6 876.1 680.3 876.1 L646.4 875.8 Q645.1 875.8 645.3 874.5 Z" fill="none" stroke-width="0.98" opacity="1"/><circle cx="655.0" cy="836.3" r="0.8" fill="none" stroke-width="0.5"/><circle cx="659.9" cy="836.3" r="0.8" fill="none" stroke-width="0.5"/><circle cx="664.8" cy="836.4" r="0.8" fill="none" stroke-width="0.5"/><circle cx="669.8" cy="836.4" r="0.8" fill="none" stroke-width="0.5"/><circle cx="674.7" cy="836.5" r="0.8" fill="none" stroke-width="0.5"/><circle cx="679.7" cy="836.5" r="0.8" fill="none" stroke-width="0.5"/><circle cx="684.6" cy="836.5" r="0.8" fill="none" stroke-width="0.5"/><circle cx="690.3" cy="843.3" r="0.8" fill="none" stroke-width="0.5"/><circle cx="689.5" cy="848.2" r="0.8" fill="none" stroke-width="0.5"/><circle cx="688.7" cy="853.1" r="0.8" fill="none" stroke-width="0.5"/><circle cx="687.9" cy="858.0" r="0.8" fill="none" stroke-width="0.5"/><circle cx="687.1" cy="862.9" r="0.8" fill="none" stroke-width="0.5"/><circle cx="686.3" cy="867.8" r="0.8" fill="none" stroke-width="0.5"/><circle cx="685.5" cy="872.7" r="0.8" fill="none" stroke-width="0.5"/><circle cx="677.6" cy="879.3" r="0.8" fill="none" stroke-width="0.5"/><circle cx="672.7" cy="879.3" r="0.8" fill="none" stroke-width="0.5"/><circle cx="667.7" cy="879.2" r="0.8" fill="none" stroke-width="0.5"/><circle cx="662.8" cy="879.2" r="0.8" fill="none" stroke-width="0.5"/><circle cx="657.9" cy="879.2" r="0.8" fill="none" stroke-width="0.5"/><circle cx="653.0" cy="879.1" r="0.8" fill="none" stroke-width="0.5"/><circle cx="648.1" cy="879.1" r="0.8" fill="none" stroke-width="0.5"/><circle cx="642.4" cy="872.3" r="0.8" fill="none" stroke-width="0.5"/><circle cx="643.2" cy="867.4" r="0.8" fill="none" stroke-width="0.5"/><circle cx="643.9" cy="862.5" r="0.8" fill="none" stroke-width="0.5"/><circle cx="644.7" cy="857.6" r="0.8" fill="none" stroke-width="0.5"/><circle cx="645.5" cy="852.7" r="0.8" fill="none" stroke-width="0.5"/><circle cx="646.3" cy="847.8" r="0.8" fill="none" stroke-width="0.5"/><circle cx="647.1" cy="843.0" r="0.8" fill="none" stroke-width="0.5"/><path d="M653.0 843.3 Q653.2 842.2 654.3 842.3 L683.3 842.5 Q684.4 842.5 684.3 843.6 L679.5 872.3 Q679.3 873.4 678.2 873.4 L649.3 873.2 Q648.2 873.2 648.4 872.1 Z" fill="#fff" stroke-width="0.98" opacity="1"/><path d="M654.5 843.8 Q668.5 844.4 682.6 844.1 Q679.9 858.0 678.0 871.8 Q664.1 871.3 650.1 871.6 Q652.7 857.7 654.5 843.8 Z" fill="none" stroke-width="0.61" opacity="1"/><circle cx="666.3" cy="857.9" r="9.3" fill="none" stroke-width="1.15" opacity="1"/></g>
<g fill="none" stroke="#1a70b0" stroke-linejoin="round" stroke-linecap="round"><path d="M800.6 837.2 Q800.6 835.6 802.2 835.6 L844.6 835.6 Q846.2 835.6 846.2 837.2 L846.2 878.8 Q846.2 880.4 844.6 880.4 L802.2 880.4 Q800.6 880.4 800.6 878.8 Z" fill="#eef6fb" stroke-width="1.75" opacity="1"/><path d="M802.6 839.1 Q802.6 837.6 804.1 837.6 L842.7 837.6 Q844.1 837.6 844.1 839.1 L844.1 876.9 Q844.1 878.4 842.7 878.4 L804.1 878.4 Q802.6 878.4 802.6 876.9 Z" fill="none" stroke-width="1.22" opacity="1"/><path d="M804.9 841.1 Q804.9 839.8 806.2 839.8 L840.6 839.8 Q841.8 839.8 841.8 841.1 L841.8 874.8 Q841.8 876.1 840.6 876.1 L806.2 876.1 Q804.9 876.1 804.9 874.8 Z" fill="none" stroke-width="0.98" opacity="1"/><circle cx="808.5" cy="836.6" r="0.8" fill="none" stroke-width="0.5"/><circle cx="813.4" cy="836.6" r="0.8" fill="none" stroke-width="0.5"/><circle cx="818.4" cy="836.6" r="0.8" fill="none" stroke-width="0.5"/><circle cx="823.4" cy="836.6" r="0.8" fill="none" stroke-width="0.5"/><circle cx="828.4" cy="836.6" r="0.8" fill="none" stroke-width="0.5"/><circle cx="833.3" cy="836.6" r="0.8" fill="none" stroke-width="0.5"/><circle cx="838.3" cy="836.6" r="0.8" fill="none" stroke-width="0.5"/><circle cx="845.2" cy="843.3" r="0.8" fill="none" stroke-width="0.5"/><circle cx="845.2" cy="848.2" r="0.8" fill="none" stroke-width="0.5"/><circle cx="845.2" cy="853.1" r="0.8" fill="none" stroke-width="0.5"/><circle cx="845.2" cy="858.0" r="0.8" fill="none" stroke-width="0.5"/><circle cx="845.2" cy="862.9" r="0.8" fill="none" stroke-width="0.5"/><circle cx="845.2" cy="867.8" r="0.8" fill="none" stroke-width="0.5"/><circle cx="845.2" cy="872.7" r="0.8" fill="none" stroke-width="0.5"/><circle cx="838.3" cy="879.4" r="0.8" fill="none" stroke-width="0.5"/><circle cx="833.3" cy="879.4" r="0.8" fill="none" stroke-width="0.5"/><circle cx="828.4" cy="879.4" r="0.8" fill="none" stroke-width="0.5"/><circle cx="823.4" cy="879.4" r="0.8" fill="none" stroke-width="0.5"/><circle cx="818.4" cy="879.4" r="0.8" fill="none" stroke-width="0.5"/><circle cx="813.4" cy="879.4" r="0.8" fill="none" stroke-width="0.5"/><circle cx="808.5" cy="879.4" r="0.8" fill="none" stroke-width="0.5"/><circle cx="801.6" cy="872.7" r="0.8" fill="none" stroke-width="0.5"/><circle cx="801.6" cy="867.8" r="0.8" fill="none" stroke-width="0.5"/><circle cx="801.6" cy="862.9" r="0.8" fill="none" stroke-width="0.5"/><circle cx="801.6" cy="858.0" r="0.8" fill="none" stroke-width="0.5"/><circle cx="801.6" cy="853.1" r="0.8" fill="none" stroke-width="0.5"/><circle cx="801.6" cy="848.2" r="0.8" fill="none" stroke-width="0.5"/><circle cx="801.6" cy="843.3" r="0.8" fill="none" stroke-width="0.5"/><path d="M807.6 843.6 Q807.6 842.5 808.7 842.5 L838.0 842.5 Q839.1 842.5 839.1 843.6 L839.1 872.3 Q839.1 873.4 838.0 873.4 L808.7 873.4 Q807.6 873.4 807.6 872.3 Z" fill="#fff" stroke-width="0.98" opacity="1"/><path d="M809.2 844.1 Q823.4 844.5 837.5 844.1 Q837.0 858.0 837.5 871.8 Q823.4 871.4 809.2 871.8 Q809.7 858.0 809.2 844.1 Z" fill="none" stroke-width="0.61" opacity="1"/><circle cx="823.3" cy="857.9" r="9.0" fill="none" stroke-width="1.15" opacity="1"/></g>
<g fill="none" stroke="#1a70b0" stroke-linejoin="round" stroke-linecap="round"><path d="M645.3 925.4 Q645.6 923.8 647.2 923.8 L691.2 924.2 Q692.8 924.2 692.5 925.8 L685.4 968.6 Q685.1 970.2 683.5 970.2 L639.7 969.8 Q638.1 969.8 638.4 968.2 Z" fill="#f8fbfe" stroke-width="1.50" opacity="1"/><path d="M646.5 926.7 Q646.8 925.2 648.3 925.2 L689.7 925.6 Q691.2 925.6 690.9 927.1 L684.2 967.3 Q683.9 968.8 682.4 968.8 L641.2 968.5 Q639.7 968.4 640.0 967.0 Z" fill="none" stroke-width="0.67" opacity="1"/><path d="M647.6 926.1 Q668.1 930.5 690.1 926.5 Q682.4 947.2 683.1 967.9 Q662.7 963.6 640.8 967.5 Q648.4 946.9 647.6 926.1 Z" fill="none" stroke-width="0.67" opacity="1"/><circle cx="661.6" cy="927.2" r="2.0" fill="none" stroke-width="1.1"/><circle cx="668.7" cy="927.2" r="2.0" fill="none" stroke-width="1.1"/><circle cx="675.7" cy="927.3" r="2.0" fill="none" stroke-width="1.1"/><circle cx="686.8" cy="940.3" r="2.0" fill="none" stroke-width="1.1"/><circle cx="685.7" cy="947.2" r="2.0" fill="none" stroke-width="1.1"/><circle cx="684.5" cy="954.0" r="2.0" fill="none" stroke-width="1.1"/><circle cx="669.1" cy="966.9" r="2.0" fill="none" stroke-width="1.1"/><circle cx="662.1" cy="966.8" r="2.0" fill="none" stroke-width="1.1"/><circle cx="655.1" cy="966.7" r="2.0" fill="none" stroke-width="1.1"/><circle cx="644.0" cy="953.7" r="2.0" fill="none" stroke-width="1.1"/><circle cx="645.1" cy="946.8" r="2.0" fill="none" stroke-width="1.1"/><circle cx="646.3" cy="940.0" r="2.0" fill="none" stroke-width="1.1"/><circle cx="665.4" cy="947.1" r="14.7" fill="#fff" stroke-width="1.15" opacity="1"/><circle cx="665.4" cy="947.1" r="10.4" fill="none" stroke-width="1.15" opacity="1"/></g>
<g fill="none" stroke="#1a70b0" stroke-linejoin="round" stroke-linecap="round"><path d="M735.9 931.2 Q736.8 929.9 738.4 929.9 L777.5 930.5 Q779.1 930.5 778.2 931.8 L755.8 963.0 Q754.9 964.3 753.3 964.3 L714.9 963.7 Q713.3 963.7 714.2 962.4 Z" fill="#f8fbfe" stroke-width="1.50" opacity="1"/><path d="M736.6 932.2 Q737.4 930.9 738.9 931.0 L775.7 931.5 Q777.2 931.5 776.3 932.7 L755.2 962.0 Q754.4 963.3 752.9 963.2 L716.8 962.7 Q715.3 962.7 716.2 961.5 Z" fill="none" stroke-width="0.67" opacity="1"/><path d="M737.8 931.6 Q754.8 934.9 775.9 932.2 Q761.3 947.3 754.0 962.6 Q737.6 959.3 716.7 962.0 Q731.1 946.9 737.8 931.6 Z" fill="none" stroke-width="0.67" opacity="1"/><circle cx="750.1" cy="932.5" r="2.0" fill="none" stroke-width="1.1"/><circle cx="756.4" cy="932.6" r="2.0" fill="none" stroke-width="1.1"/><circle cx="762.7" cy="932.7" r="2.0" fill="none" stroke-width="1.1"/><circle cx="767.8" cy="942.3" r="2.0" fill="none" stroke-width="1.1"/><circle cx="764.1" cy="947.4" r="2.0" fill="none" stroke-width="1.1"/><circle cx="760.5" cy="952.4" r="2.0" fill="none" stroke-width="1.1"/><circle cx="742.0" cy="961.7" r="2.0" fill="none" stroke-width="1.1"/><circle cx="735.8" cy="961.6" r="2.0" fill="none" stroke-width="1.1"/><circle cx="729.7" cy="961.5" r="2.0" fill="none" stroke-width="1.1"/><circle cx="724.6" cy="951.9" r="2.0" fill="none" stroke-width="1.1"/><circle cx="728.1" cy="946.8" r="2.0" fill="none" stroke-width="1.1"/><circle cx="731.6" cy="941.8" r="2.0" fill="none" stroke-width="1.1"/><circle cx="746.6" cy="947.1" r="12.5" fill="#fff" stroke-width="1.15" opacity="1"/><circle cx="746.6" cy="947.1" r="8.2" fill="none" stroke-width="1.15" opacity="1"/></g>
<g fill="none" stroke="#1a70b0" stroke-linejoin="round" stroke-linecap="round"><path d="M801.0 923.6 Q801.0 922.0 802.6 922.0 L847.2 922.0 Q848.8 922.0 848.8 923.6 L848.8 968.6 Q848.8 970.2 847.2 970.2 L802.6 970.2 Q801.0 970.2 801.0 968.6 Z" fill="#f8fbfe" stroke-width="1.50" opacity="1"/><path d="M802.4 924.9 Q802.4 923.4 803.9 923.4 L845.9 923.4 Q847.4 923.4 847.4 924.9 L847.4 967.3 Q847.4 968.8 845.9 968.8 L803.9 968.8 Q802.4 968.8 802.4 967.3 Z" fill="none" stroke-width="0.67" opacity="1"/><path d="M803.4 924.4 Q824.9 928.7 846.4 924.4 Q842.1 946.1 846.4 967.8 Q824.9 963.4 803.4 967.8 Q807.7 946.1 803.4 924.4 Z" fill="none" stroke-width="0.67" opacity="1"/><circle cx="817.8" cy="925.4" r="2.0" fill="none" stroke-width="1.1"/><circle cx="824.9" cy="925.4" r="2.0" fill="none" stroke-width="1.1"/><circle cx="832.0" cy="925.4" r="2.0" fill="none" stroke-width="1.1"/><circle cx="845.4" cy="938.9" r="2.0" fill="none" stroke-width="1.1"/><circle cx="845.4" cy="946.1" r="2.0" fill="none" stroke-width="1.1"/><circle cx="845.4" cy="953.3" r="2.0" fill="none" stroke-width="1.1"/><circle cx="832.0" cy="966.8" r="2.0" fill="none" stroke-width="1.1"/><circle cx="824.9" cy="966.8" r="2.0" fill="none" stroke-width="1.1"/><circle cx="817.8" cy="966.8" r="2.0" fill="none" stroke-width="1.1"/><circle cx="804.3" cy="953.3" r="2.0" fill="none" stroke-width="1.1"/><circle cx="804.3" cy="946.1" r="2.0" fill="none" stroke-width="1.1"/><circle cx="804.3" cy="938.9" r="2.0" fill="none" stroke-width="1.1"/><circle cx="824.8" cy="946.0" r="15.4" fill="#fff" stroke-width="1.15" opacity="1"/><circle cx="824.8" cy="946.0" r="11.1" fill="none" stroke-width="1.15" opacity="1"/></g>
<g fill="none" stroke="#1a70b0" stroke-linejoin="round" stroke-linecap="round"><path d="M903.4 922.2 Q904.2 920.8 905.0 922.2 L932.4 969.7 Q933.2 971.1 931.6 971.1 L876.9 971.1 Q875.3 971.1 876.1 969.7 Z" fill="#f8fbfe" stroke-width="1.50" opacity="1"/><path d="M903.5 924.1 Q904.2 922.8 905.0 924.1 L930.7 968.8 Q931.5 970.1 930.0 970.1 L878.5 970.1 Q877.0 970.1 877.8 968.8 Z" fill="none" stroke-width="0.67" opacity="1"/><path d="M904.2 924.1 Q914.6 948.3 930.3 969.4 Q904.2 966.4 878.2 969.4 Q893.8 948.3 904.2 924.1 Z" fill="none" stroke-width="0.67" opacity="1"/><circle cx="912.4" cy="939.6" r="2.0" fill="none" stroke-width="1.1"/><circle cx="916.7" cy="947.1" r="2.0" fill="none" stroke-width="1.1"/><circle cx="921.0" cy="954.6" r="2.0" fill="none" stroke-width="1.1"/><circle cx="912.9" cy="968.7" r="2.0" fill="none" stroke-width="1.1"/><circle cx="904.2" cy="968.7" r="2.0" fill="none" stroke-width="1.1"/><circle cx="895.6" cy="968.7" r="2.0" fill="none" stroke-width="1.1"/><circle cx="887.5" cy="954.6" r="2.0" fill="none" stroke-width="1.1"/><circle cx="891.8" cy="947.1" r="2.0" fill="none" stroke-width="1.1"/><circle cx="896.1" cy="939.6" r="2.0" fill="none" stroke-width="1.1"/><circle cx="904.2" cy="954.2" r="12.0" fill="#fff" stroke-width="1.15" opacity="1"/><circle cx="904.2" cy="954.2" r="7.7" fill="none" stroke-width="1.15" opacity="1"/></g>
<g fill="none" stroke="#1a70b0" stroke-linejoin="round" stroke-linecap="round"><path d="M978.0 934.1 Q979.3 933.2 980.9 933.2 L1017.3 933.5 Q1018.9 933.5 1017.6 934.5 L989.0 954.9 Q987.7 955.9 986.1 955.8 L949.1 954.7 Q947.5 954.7 948.8 953.8 Z" fill="#f8fbfe" stroke-width="1.50" opacity="1"/><path d="M978.3 934.7 Q979.5 933.8 981.0 933.8 L1015.2 934.2 Q1016.7 934.2 1015.5 935.0 L988.7 954.3 Q987.4 955.2 985.9 955.1 L951.1 954.1 Q949.6 954.1 950.8 953.2 Z" fill="none" stroke-width="0.67" opacity="1"/><path d="M979.7 934.3 Q994.5 936.4 1015.2 934.6 Q997.5 944.6 987.2 954.7 Q971.8 952.2 951.0 953.6 Q968.8 944.0 979.7 934.3 Z" fill="none" stroke-width="0.67" opacity="1"/><circle cx="990.9" cy="934.8" r="1.0" fill="none" stroke-width="0.7"/><circle cx="996.8" cy="934.9" r="1.0" fill="none" stroke-width="0.7"/><circle cx="1002.7" cy="934.9" r="1.0" fill="none" stroke-width="0.7"/><circle cx="1005.0" cy="941.3" r="1.0" fill="none" stroke-width="0.7"/><circle cx="1000.4" cy="944.6" r="1.0" fill="none" stroke-width="0.7"/><circle cx="995.8" cy="948.0" r="1.0" fill="none" stroke-width="0.7"/><circle cx="975.7" cy="953.9" r="1.0" fill="none" stroke-width="0.7"/><circle cx="969.7" cy="953.7" r="1.0" fill="none" stroke-width="0.7"/><circle cx="963.7" cy="953.6" r="1.0" fill="none" stroke-width="0.7"/><circle cx="961.4" cy="947.2" r="1.0" fill="none" stroke-width="0.7"/><circle cx="966.1" cy="944.0" r="1.0" fill="none" stroke-width="0.7"/><circle cx="970.8" cy="940.8" r="1.0" fill="none" stroke-width="0.7"/><circle cx="982.6" cy="944.2" r="7.9" fill="#fff" stroke-width="1.15" opacity="1"/><circle cx="982.6" cy="944.2" r="5.3" fill="none" stroke-width="1.15" opacity="1"/></g>
<g fill="none" stroke="#1a70b0" stroke-linejoin="round" stroke-linecap="round"><path d="M645.1 1030.2 Q645.4 1028.6 647.0 1028.6 L691.0 1029.0 Q692.6 1029.0 692.3 1030.6 L685.2 1072.6 Q684.9 1074.2 683.3 1074.2 L639.5 1073.8 Q637.9 1073.8 638.2 1072.2 Z" fill="#f3f9fd" stroke-width="1.62" opacity="1"/><path d="M646.7 1031.9 Q647.0 1030.4 648.5 1030.5 L688.9 1030.8 Q690.4 1030.8 690.2 1032.3 L683.6 1070.9 Q683.3 1072.4 681.9 1072.4 L641.6 1072.0 Q640.1 1072.0 640.3 1070.6 Z" fill="none" stroke-width="0.79" opacity="1"/><path d="M648.1 1033.4 Q648.4 1032.0 649.7 1032.1 L687.1 1032.4 Q688.5 1032.4 688.3 1033.7 L682.2 1069.5 Q681.9 1070.8 680.6 1070.8 L643.4 1070.5 Q642.0 1070.5 642.2 1069.1 Z" fill="none" stroke-width="0.67" opacity="1"/><path d="M648.6 1032.3 Q667.7 1036.5 688.2 1032.6 Q680.7 1051.6 681.7 1070.6 Q662.7 1066.4 642.3 1070.2 Q649.7 1051.3 648.6 1032.3 Z" fill="none" stroke-width="0.67" opacity="1"/><path d="M657.1 1042.1 L648.6 1032.3" stroke-width="0.73" opacity="0.9"/><path d="M674.8 1043.6 L688.2 1032.6" stroke-width="0.73" opacity="0.9"/><path d="M673.4 1060.9 L681.7 1070.6" stroke-width="0.73" opacity="0.9"/><path d="M655.6 1059.4 L642.3 1070.2" stroke-width="0.73" opacity="0.9"/><circle cx="665.2" cy="1051.5" r="14.8" fill="#fff" stroke-width="1.03" opacity="1"/><circle cx="665.2" cy="1051.5" r="13.6" fill="none" stroke-width="0.57" opacity="1"/><circle cx="665.2" cy="1051.5" r="10.2" fill="none" stroke-width="1.15" opacity="1"/></g>
<g fill="none" stroke="#1a70b0" stroke-linejoin="round" stroke-linecap="round"><path d="M734.9 1034.6 Q735.8 1033.3 737.4 1033.3 L773.7 1033.9 Q775.3 1033.9 774.4 1035.2 L753.5 1064.8 Q752.6 1066.1 751.0 1066.1 L715.4 1065.5 Q713.8 1065.5 714.7 1064.2 Z" fill="#f3f9fd" stroke-width="1.62" opacity="1"/><path d="M735.7 1035.8 Q736.5 1034.6 738.0 1034.6 L771.4 1035.1 Q772.9 1035.1 772.0 1036.4 L752.9 1063.6 Q752.0 1064.8 750.5 1064.8 L717.8 1064.3 Q716.3 1064.3 717.1 1063.0 Z" fill="none" stroke-width="0.79" opacity="1"/><path d="M736.4 1036.9 Q737.1 1035.8 738.5 1035.8 L769.4 1036.2 Q770.7 1036.3 770.0 1037.4 L752.2 1062.5 Q751.5 1063.6 750.1 1063.6 L719.8 1063.2 Q718.5 1063.1 719.2 1062.0 Z" fill="none" stroke-width="0.67" opacity="1"/><path d="M737.2 1035.9 Q751.9 1039.1 770.4 1036.4 Q757.5 1049.9 751.4 1063.5 Q737.2 1060.3 718.8 1063.0 Q731.6 1049.5 737.2 1035.9 Z" fill="none" stroke-width="0.67" opacity="1"/><path d="M740.0 1040.9 L737.2 1035.9" stroke-width="0.73" opacity="0.9"/><path d="M753.8 1045.1 L770.4 1036.4" stroke-width="0.73" opacity="0.9"/><path d="M749.2 1058.8 L751.4 1063.5" stroke-width="0.73" opacity="0.9"/><path d="M735.9 1054.3 L718.8 1063.0" stroke-width="0.73" opacity="0.9"/><circle cx="744.9" cy="1049.7" r="12.5" fill="#fff" stroke-width="1.03" opacity="1"/><circle cx="744.9" cy="1049.7" r="11.3" fill="none" stroke-width="0.57" opacity="1"/><circle cx="744.9" cy="1049.7" r="7.9" fill="none" stroke-width="1.15" opacity="1"/></g>
<g fill="none" stroke="#1a70b0" stroke-linejoin="round" stroke-linecap="round"><path d="M800.4 1030.6 Q800.4 1029.0 802.0 1029.0 L846.8 1029.0 Q848.4 1029.0 848.4 1030.6 L848.4 1072.6 Q848.4 1074.2 846.8 1074.2 L802.0 1074.2 Q800.4 1074.2 800.4 1072.6 Z" fill="#f3f9fd" stroke-width="1.62" opacity="1"/><path d="M802.3 1032.3 Q802.3 1030.8 803.8 1030.8 L845.0 1030.8 Q846.5 1030.8 846.5 1032.3 L846.5 1070.9 Q846.5 1072.4 845.0 1072.4 L803.8 1072.4 Q802.3 1072.4 802.3 1070.9 Z" fill="none" stroke-width="0.79" opacity="1"/><path d="M804.0 1033.7 Q804.0 1032.4 805.3 1032.4 L843.4 1032.4 Q844.8 1032.4 844.8 1033.7 L844.8 1069.4 Q844.8 1070.8 843.4 1070.8 L805.3 1070.8 Q804.0 1070.8 804.0 1069.4 Z" fill="none" stroke-width="0.67" opacity="1"/><path d="M804.2 1032.6 Q824.4 1036.6 844.6 1032.6 Q840.2 1051.6 844.6 1070.6 Q824.4 1066.5 804.2 1070.6 Q808.5 1051.6 804.2 1032.6 Z" fill="none" stroke-width="0.67" opacity="1"/><path d="M815.1 1042.9 L804.2 1032.6" stroke-width="0.73" opacity="0.9"/><path d="M833.5 1042.9 L844.6 1032.6" stroke-width="0.73" opacity="0.9"/><path d="M833.5 1060.1 L844.6 1070.6" stroke-width="0.73" opacity="0.9"/><path d="M815.2 1060.2 L804.2 1070.6" stroke-width="0.73" opacity="0.9"/><circle cx="824.3" cy="1051.5" r="15.0" fill="#fff" stroke-width="1.03" opacity="1"/><circle cx="824.3" cy="1051.5" r="13.8" fill="none" stroke-width="0.57" opacity="1"/><circle cx="824.3" cy="1051.5" r="10.4" fill="none" stroke-width="1.15" opacity="1"/></g>
<g fill="none" stroke="#1a70b0" stroke-linejoin="round" stroke-linecap="round"><path d="M902.0 1029.6 Q902.8 1028.2 903.6 1029.6 L928.8 1074.0 Q929.6 1075.4 928.0 1075.4 L877.7 1075.4 Q876.1 1075.4 876.9 1074.0 Z" fill="#f3f9fd" stroke-width="1.62" opacity="1"/><path d="M902.1 1032.0 Q902.8 1030.7 903.5 1032.0 L926.7 1072.8 Q927.4 1074.1 925.9 1074.1 L879.7 1074.1 Q878.3 1074.1 879.0 1072.8 Z" fill="none" stroke-width="0.79" opacity="1"/><path d="M902.1 1034.1 Q902.8 1032.9 903.5 1034.1 L924.9 1071.8 Q925.5 1073.0 924.2 1073.0 L881.5 1073.0 Q880.1 1073.0 880.8 1071.8 Z" fill="none" stroke-width="0.67" opacity="1"/><path d="M902.8 1033.2 Q911.6 1054.4 925.3 1072.8 Q902.8 1070.0 880.4 1072.8 Q894.0 1054.4 902.8 1033.2 Z" fill="none" stroke-width="0.67" opacity="1"/><path d="M902.8 1050.2 L902.8 1033.2" stroke-width="0.73" opacity="0.9"/><path d="M910.8 1064.3 L925.3 1072.8" stroke-width="0.73" opacity="0.9"/><path d="M894.8 1064.3 L880.4 1072.8" stroke-width="0.73" opacity="0.9"/><circle cx="902.8" cy="1059.5" r="11.7" fill="#fff" stroke-width="1.03" opacity="1"/><circle cx="902.8" cy="1059.5" r="10.5" fill="none" stroke-width="0.57" opacity="1"/><circle cx="902.8" cy="1059.5" r="7.1" fill="none" stroke-width="1.15" opacity="1"/></g>
<g fill="none" stroke="#1a70b0" stroke-linejoin="round" stroke-linecap="round"><path d="M978.2 1041.1 Q979.5 1040.2 981.1 1040.2 L1016.2 1040.5 Q1017.8 1040.5 1016.5 1041.5 L988.9 1061.7 Q987.6 1062.7 986.0 1062.6 L950.2 1061.5 Q948.6 1061.5 949.9 1060.6 Z" fill="#f3f9fd" stroke-width="1.62" opacity="1"/><path d="M978.5 1041.9 Q979.7 1041.0 981.2 1041.0 L1013.5 1041.4 Q1015.0 1041.4 1013.8 1042.2 L988.4 1060.9 Q987.2 1061.7 985.8 1061.7 L952.8 1060.7 Q951.3 1060.7 952.5 1059.8 Z" fill="none" stroke-width="0.79" opacity="1"/><path d="M978.8 1042.6 Q979.9 1041.8 981.3 1041.8 L1011.2 1042.1 Q1012.5 1042.1 1011.4 1042.9 L988.0 1060.1 Q986.9 1060.9 985.5 1060.9 L955.1 1060.0 Q953.7 1059.9 954.8 1059.2 Z" fill="none" stroke-width="0.67" opacity="1"/><path d="M980.0 1041.9 Q993.2 1044.0 1012.2 1042.2 Q995.9 1051.4 986.8 1060.8 Q973.0 1058.4 954.0 1059.8 Q970.3 1050.9 980.0 1041.9 Z" fill="none" stroke-width="0.67" opacity="1"/><path d="M980.5 1043.9 L980.0 1041.9" stroke-width="0.73" opacity="0.9"/><path d="M989.8 1048.9 L1012.2 1042.2" stroke-width="0.73" opacity="0.9"/><path d="M985.6 1058.0 L986.8 1060.8" stroke-width="0.73" opacity="0.9"/><path d="M975.4 1053.3 L954.0 1059.8" stroke-width="0.73" opacity="0.9"/><circle cx="982.6" cy="1051.1" r="7.9" fill="#fff" stroke-width="1.03" opacity="1"/><circle cx="982.6" cy="1051.1" r="7.1" fill="none" stroke-width="0.57" opacity="1"/><circle cx="982.6" cy="1051.1" r="5.3" fill="none" stroke-width="1.15" opacity="1"/></g>
<g fill="none" stroke="#1a70b0" stroke-linejoin="round" stroke-linecap="round"><path d="M645.5 1131.2 Q645.7 1129.6 647.3 1129.6 L691.0 1130.0 Q692.6 1130.0 692.3 1131.6 L685.2 1174.0 Q685.0 1175.6 683.4 1175.6 L639.9 1175.2 Q638.3 1175.2 638.6 1173.6 Z" fill="#f9fcfe" stroke-width="1.44" opacity="1"/><path d="M647.1 1132.9 Q647.3 1131.4 648.8 1131.5 L688.9 1131.8 Q690.4 1131.8 690.2 1133.3 L683.6 1172.3 Q683.4 1173.8 681.9 1173.8 L641.9 1173.4 Q640.5 1173.4 640.7 1172.0 Z" fill="none" stroke-width="0.67" opacity="1"/><path d="M648.5 1132.8 Q668.0 1137.1 688.8 1133.2 Q681.3 1152.8 682.2 1172.4 Q662.8 1168.1 642.1 1172.1 Q649.5 1152.5 648.5 1132.8 Z" fill="none" stroke-width="0.67" opacity="1"/><circle cx="649.7" cy="1134.2" r="1.5" fill="#fff" stroke-width="0.7"/><circle cx="687.2" cy="1134.5" r="1.5" fill="#fff" stroke-width="0.7"/><circle cx="681.0" cy="1171.0" r="1.5" fill="#fff" stroke-width="0.7"/><circle cx="643.7" cy="1170.7" r="1.5" fill="#fff" stroke-width="0.7"/><circle cx="665.4" cy="1152.7" r="14.7" fill="#fff" stroke-width="0.92" opacity="1"/><circle cx="665.4" cy="1152.7" r="13.5" fill="none" stroke-width="0.57" opacity="1"/><circle cx="665.4" cy="1152.7" r="9.9" fill="none" stroke-width="1.15" opacity="1"/></g>
<g fill="none" stroke="#1a70b0" stroke-linejoin="round" stroke-linecap="round"><path d="M734.1 1135.6 Q735.0 1134.3 736.6 1134.3 L773.3 1134.9 Q774.9 1134.9 774.0 1136.2 L752.9 1167.8 Q752.0 1169.1 750.4 1169.1 L714.4 1168.5 Q712.8 1168.5 713.7 1167.1 Z" fill="#f9fcfe" stroke-width="1.44" opacity="1"/><path d="M734.9 1136.9 Q735.7 1135.7 737.2 1135.7 L771.0 1136.2 Q772.4 1136.3 771.6 1137.5 L752.2 1166.5 Q751.4 1167.7 749.9 1167.7 L716.8 1167.2 Q715.3 1167.1 716.1 1165.9 Z" fill="none" stroke-width="0.67" opacity="1"/><path d="M736.3 1136.7 Q751.5 1140.1 770.6 1137.3 Q757.3 1151.9 750.9 1166.7 Q736.2 1163.3 717.2 1166.1 Q730.4 1151.5 736.3 1136.7 Z" fill="none" stroke-width="0.67" opacity="1"/><circle cx="736.8" cy="1137.8" r="1.5" fill="#fff" stroke-width="0.7"/><circle cx="768.8" cy="1138.3" r="1.5" fill="#fff" stroke-width="0.7"/><circle cx="750.4" cy="1165.6" r="1.5" fill="#fff" stroke-width="0.7"/><circle cx="719.1" cy="1165.1" r="1.5" fill="#fff" stroke-width="0.7"/><circle cx="744.2" cy="1151.7" r="12.5" fill="#fff" stroke-width="0.92" opacity="1"/><circle cx="744.2" cy="1151.7" r="11.3" fill="none" stroke-width="0.57" opacity="1"/><circle cx="744.2" cy="1151.7" r="7.7" fill="none" stroke-width="1.15" opacity="1"/></g>
<g fill="none" stroke="#1a70b0" stroke-linejoin="round" stroke-linecap="round"><path d="M800.4 1130.2 Q800.4 1128.6 802.0 1128.6 L846.2 1128.6 Q847.8 1128.6 847.8 1130.2 L847.8 1174.0 Q847.8 1175.6 846.2 1175.6 L802.0 1175.6 Q800.4 1175.6 800.4 1174.0 Z" fill="#f9fcfe" stroke-width="1.44" opacity="1"/><path d="M802.3 1131.9 Q802.3 1130.5 803.8 1130.5 L844.4 1130.5 Q845.9 1130.5 845.9 1131.9 L845.9 1172.3 Q845.9 1173.7 844.4 1173.7 L803.8 1173.7 Q802.3 1173.7 802.3 1172.3 Z" fill="none" stroke-width="0.67" opacity="1"/><path d="M803.7 1131.9 Q824.1 1136.1 844.5 1131.9 Q840.2 1152.1 844.5 1172.3 Q824.1 1168.1 803.7 1172.3 Q807.9 1152.1 803.7 1131.9 Z" fill="none" stroke-width="0.67" opacity="1"/><circle cx="805.1" cy="1133.3" r="1.6" fill="#fff" stroke-width="0.7"/><circle cx="843.1" cy="1133.3" r="1.6" fill="#fff" stroke-width="0.7"/><circle cx="843.1" cy="1170.9" r="1.6" fill="#fff" stroke-width="0.7"/><circle cx="805.1" cy="1170.9" r="1.6" fill="#fff" stroke-width="0.7"/><circle cx="824.0" cy="1152.0" r="15.2" fill="#fff" stroke-width="0.92" opacity="1"/><circle cx="824.0" cy="1152.0" r="14.0" fill="none" stroke-width="0.57" opacity="1"/><circle cx="824.0" cy="1152.0" r="10.4" fill="none" stroke-width="1.15" opacity="1"/></g>
<g fill="none" stroke="#1a70b0" stroke-linejoin="round" stroke-linecap="round"><path d="M902.1 1128.7 Q902.9 1127.3 903.7 1128.7 L929.4 1173.3 Q930.2 1174.7 928.6 1174.7 L877.3 1174.7 Q875.7 1174.7 876.5 1173.3 Z" fill="#f9fcfe" stroke-width="1.44" opacity="1"/><path d="M902.2 1131.1 Q902.9 1129.9 903.6 1131.1 L927.2 1172.2 Q928.0 1173.5 926.5 1173.5 L879.4 1173.5 Q877.9 1173.5 878.6 1172.2 Z" fill="none" stroke-width="0.67" opacity="1"/><path d="M902.9 1131.7 Q912.2 1153.5 926.3 1172.5 Q902.9 1169.6 879.5 1172.5 Q893.7 1153.5 902.9 1131.7 Z" fill="none" stroke-width="0.67" opacity="1"/><circle cx="902.9" cy="1133.6" r="1.4" fill="#fff" stroke-width="0.7"/><circle cx="924.7" cy="1171.5" r="1.4" fill="#fff" stroke-width="0.7"/><circle cx="881.2" cy="1171.5" r="1.4" fill="#fff" stroke-width="0.7"/><circle cx="902.9" cy="1158.8" r="11.7" fill="#fff" stroke-width="0.92" opacity="1"/><circle cx="902.9" cy="1158.8" r="10.5" fill="none" stroke-width="0.57" opacity="1"/><circle cx="902.9" cy="1158.8" r="6.9" fill="none" stroke-width="1.15" opacity="1"/></g>
<g fill="none" stroke="#1a70b0" stroke-linejoin="round" stroke-linecap="round"><path d="M977.5 1141.4 Q978.8 1140.4 980.4 1140.4 L1015.2 1140.8 Q1016.8 1140.8 1015.6 1141.8 L988.1 1164.3 Q986.9 1165.3 985.3 1165.3 L949.8 1164.1 Q948.2 1164.0 949.5 1163.0 Z" fill="#f9fcfe" stroke-width="1.44" opacity="1"/><path d="M977.9 1142.2 Q979.1 1141.4 980.5 1141.4 L1012.5 1141.7 Q1014.0 1141.7 1012.9 1142.7 L987.6 1163.4 Q986.5 1164.3 985.0 1164.2 L952.4 1163.1 Q950.9 1163.1 952.0 1162.2 Z" fill="none" stroke-width="0.67" opacity="1"/><path d="M979.2 1142.1 Q992.7 1144.4 1011.9 1142.4 Q995.5 1152.9 986.2 1163.5 Q972.1 1160.8 952.9 1162.4 Q969.4 1152.3 979.2 1142.1 Z" fill="none" stroke-width="0.67" opacity="1"/><circle cx="979.4" cy="1142.8" r="1.2" fill="#fff" stroke-width="0.7"/><circle cx="1009.8" cy="1143.1" r="1.2" fill="#fff" stroke-width="0.7"/><circle cx="985.9" cy="1162.8" r="1.2" fill="#fff" stroke-width="0.7"/><circle cx="954.9" cy="1161.7" r="1.2" fill="#fff" stroke-width="0.7"/><circle cx="981.9" cy="1152.5" r="8.4" fill="#fff" stroke-width="0.92" opacity="1"/><circle cx="981.9" cy="1152.5" r="7.6" fill="none" stroke-width="0.57" opacity="1"/><circle cx="981.9" cy="1152.5" r="5.4" fill="none" stroke-width="1.15" opacity="1"/></g>
<g fill="none" stroke="#1a70b0" stroke-linejoin="round" stroke-linecap="round"><path d="M645.3 1231.8 Q645.5 1230.2 647.1 1230.2 L689.4 1230.6 Q691.0 1230.6 690.7 1232.2 L683.8 1274.6 Q683.6 1276.2 682.0 1276.2 L639.9 1275.8 Q638.3 1275.8 638.6 1274.2 Z" fill="#fbfdff" stroke-width="1.19" opacity="1"/><path d="M647.4 1232.5 Q666.8 1239.6 688.3 1232.9 Q678.2 1253.4 681.7 1273.9 Q662.4 1266.9 640.9 1273.6 Q651.0 1253.1 647.4 1232.5 Z" fill="none" stroke-width="0.67" opacity="1"/><path d="M649.3 1234.8 Q666.4 1241.9 685.7 1235.1 Q675.9 1253.3 679.8 1271.6 Q662.8 1264.7 643.6 1271.3 Q653.3 1253.2 649.3 1234.8 Z" fill="none" stroke-width="0.61" opacity="1"/><path d="M651.3 1237.1 Q666.1 1243.7 683.1 1237.4 Q674.1 1253.3 677.9 1269.3 Q663.1 1262.8 646.2 1269.1 Q655.1 1253.2 651.3 1237.1 Z" fill="none" stroke-width="0.55" opacity="1"/><circle cx="664.6" cy="1253.3" r="13.7" fill="#fff" stroke-width="1.03" opacity="1"/><circle cx="664.6" cy="1253.3" r="9.5" fill="none" stroke-width="1.03" opacity="1"/></g>
<g fill="none" stroke="#1a70b0" stroke-linejoin="round" stroke-linecap="round"><path d="M734.3 1238.2 Q735.1 1236.9 736.7 1236.9 L771.9 1237.5 Q773.5 1237.5 772.6 1238.8 L752.4 1268.6 Q751.5 1269.9 749.9 1269.9 L715.4 1269.3 Q713.8 1269.3 714.7 1268.0 Z" fill="#fbfdff" stroke-width="1.19" opacity="1"/><path d="M736.0 1238.6 Q750.2 1243.7 770.5 1239.1 Q755.1 1253.6 750.7 1268.2 Q737.2 1263.1 716.8 1267.7 Q732.3 1253.2 736.0 1238.6 Z" fill="none" stroke-width="0.67" opacity="1"/><path d="M736.9 1240.2 Q749.2 1245.3 767.6 1240.7 Q753.2 1253.5 750.0 1266.6 Q738.3 1261.5 719.9 1266.1 Q734.2 1253.3 736.9 1240.2 Z" fill="none" stroke-width="0.61" opacity="1"/><path d="M737.8 1241.9 Q748.3 1246.6 764.6 1242.3 Q751.8 1253.5 749.2 1264.9 Q739.2 1260.2 722.9 1264.5 Q735.8 1253.3 737.8 1241.9 Z" fill="none" stroke-width="0.55" opacity="1"/><circle cx="744.0" cy="1253.4" r="11.4" fill="#fff" stroke-width="1.03" opacity="1"/><circle cx="744.0" cy="1253.4" r="7.2" fill="none" stroke-width="1.03" opacity="1"/></g>
<g fill="none" stroke="#1a70b0" stroke-linejoin="round" stroke-linecap="round"><path d="M800.8 1230.8 Q800.8 1229.2 802.4 1229.2 L846.6 1229.2 Q848.2 1229.2 848.2 1230.8 L848.2 1274.6 Q848.2 1276.2 846.6 1276.2 L802.4 1276.2 Q800.8 1276.2 800.8 1274.6 Z" fill="#fbfdff" stroke-width="1.19" opacity="1"/><path d="M803.2 1231.5 Q824.5 1238.6 845.8 1231.5 Q838.7 1252.7 845.8 1273.8 Q824.5 1266.8 803.2 1273.8 Q810.2 1252.7 803.2 1231.5 Z" fill="none" stroke-width="0.67" opacity="1"/><path d="M805.5 1233.9 Q824.5 1240.9 843.5 1233.9 Q836.3 1252.7 843.5 1271.5 Q824.5 1264.4 805.5 1271.5 Q812.6 1252.7 805.5 1233.9 Z" fill="none" stroke-width="0.61" opacity="1"/><path d="M807.9 1236.2 Q824.4 1242.8 841.1 1236.2 Q834.4 1252.6 841.1 1269.1 Q824.4 1262.5 807.9 1269.1 Q814.5 1252.6 807.9 1236.2 Z" fill="none" stroke-width="0.55" opacity="1"/><circle cx="824.4" cy="1252.6" r="14.4" fill="#fff" stroke-width="1.03" opacity="1"/><circle cx="824.4" cy="1252.6" r="10.2" fill="none" stroke-width="1.03" opacity="1"/></g>
<g fill="none" stroke="#1a70b0" stroke-linejoin="round" stroke-linecap="round"><path d="M901.4 1229.8 Q902.2 1228.4 903.0 1229.8 L929.4 1276.4 Q930.2 1277.8 928.6 1277.8 L875.9 1277.8 Q874.3 1277.8 875.1 1276.4 Z" fill="#fbfdff" stroke-width="1.19" opacity="1"/><path d="M902.2 1231.7 Q910.6 1256.3 927.4 1276.2 Q902.2 1271.2 877.1 1276.2 Q893.8 1256.3 902.2 1231.7 Z" fill="none" stroke-width="0.67" opacity="1"/><path d="M902.2 1234.9 Q909.2 1257.1 924.6 1274.5 Q902.2 1269.5 879.9 1274.5 Q895.2 1257.1 902.2 1234.9 Z" fill="none" stroke-width="0.61" opacity="1"/><path d="M902.2 1238.2 Q908.1 1257.8 921.8 1272.8 Q902.2 1268.2 882.7 1272.8 Q896.3 1257.8 902.2 1238.2 Z" fill="none" stroke-width="0.55" opacity="1"/><circle cx="902.2" cy="1261.2" r="11.1" fill="#fff" stroke-width="1.03" opacity="1"/><circle cx="902.2" cy="1261.2" r="6.9" fill="none" stroke-width="1.03" opacity="1"/></g>
<g stroke="#231f20" stroke-width="1.25" stroke-linejoin="miter" fill="#e1f3fd">
<polygon points="641.1,261.5 666,241.9 690.6,261.9 666,281.5"/>
<polygon points="720.1,261.9 744.8,247.1 769.7,261.9 744.8,276.6"/>
<rect x="805.5" y="240.2" width="40.5" height="41.3"/>
<polygon points="904.3,240.2 927.5,281.1 880.7,281.1"/>
<polygon points="956.5,266.1 982.3,258.3 1008.6,266.1 982.3,273.9"/>
<polygon points="1062.8,240.2 1078.2,254.1 1087.7,277.3 1062.8,281.9 1038.1,277.3 1047.2,254.1"/>
</g>
<rect x="845.2" y="240.2" width="1.8" height="41.8" fill="#231f20" />
<g fill="none" stroke="#231f20" stroke-width="0.75">
<path d="M651.2 254.6 Q653.6 261.6 651.2 268.6"/>
<path d="M732.6 255.6 Q734.4 262 732.6 268.2"/>
<path d="M806 252.6 Q814.6 251.8 816.2 243.2"/>
<path d="M897.6 252.6 Q904.3 255.4 911 252.6"/>
<path d="M961.2 256.4 L965 264 M965.2 268.4 L962.6 276.6"/>
<path d="M1043.8 267.6 Q1050.6 268.6 1053 277.6"/>
</g>
<polygon points="651.0,254.2 653.4,257.7 650.6,258.4" fill="#231f20"/>
<polygon points="651.0,269.0 650.6,264.8 653.4,265.5" fill="#231f20"/>
<polygon points="732.5,255.2 734.9,258.7 732.1,259.4" fill="#231f20"/>
<polygon points="732.5,268.6 732.1,264.4 734.9,265.1" fill="#231f20"/>
<polygon points="805.8,252.6 809.9,251.5 809.7,254.4" fill="#231f20"/>
<polygon points="816.3,242.6 817.2,246.8 814.3,246.4" fill="#231f20"/>
<polygon points="897.2,252.4 901.5,252.4 900.5,255.1" fill="#231f20"/>
<polygon points="911.4,252.4 908.1,255.1 907.1,252.4" fill="#231f20"/>
<polygon points="965.2,264.4 962.2,261.4 964.7,260.2" fill="#231f20"/>
<polygon points="965.4,268.0 965.5,272.2 962.8,271.4" fill="#231f20"/>
<polygon points="1043.2,267.5 1047.4,266.8 1046.9,269.6" fill="#231f20"/>
<polygon points="1053.2,278.4 1051.0,274.8 1053.8,274.2" fill="#231f20"/>
<text x="659.8" y="265.8" font-size="12" letter-spacing="-0.3"><tspan stroke="#231f20" stroke-width="0.1">80</tspan><tspan x="672.9" dy="-4.7" font-size="6.6" style="fill:#58595b">°</tspan></text>
<text x="740.2" y="265.8" font-size="12" letter-spacing="-0.3"><tspan stroke="#231f20" stroke-width="0.1">55</tspan><tspan x="753.3" dy="-4.7" font-size="6.6" style="fill:#58595b">°</tspan></text>
<text x="816.4" y="259.9" font-size="12" letter-spacing="-0.3"><tspan stroke="#231f20" stroke-width="0.1">90</tspan><tspan x="829.5" dy="-4.7" font-size="6.6" style="fill:#58595b">°</tspan></text>
<text x="895.8" y="267.3" font-size="12" letter-spacing="-0.3"><tspan stroke="#231f20" stroke-width="0.1">60</tspan><tspan x="908.9" dy="-4.7" font-size="6.6" style="fill:#58595b">°</tspan></text>
<text x="967.0" y="255.7" font-size="12" letter-spacing="-0.3"><tspan stroke="#231f20" stroke-width="0.1">35</tspan><tspan x="980.1" dy="-4.7" font-size="6.6" style="fill:#58595b">°</tspan></text>
<text x="1056.0" y="268.7" font-size="12" letter-spacing="-0.3"><tspan stroke="#231f20" stroke-width="0.1">80</tspan><tspan x="1069.1" dy="-4.7" font-size="6.6" style="fill:#58595b">°</tspan></text>
</svg>
</body></html>
